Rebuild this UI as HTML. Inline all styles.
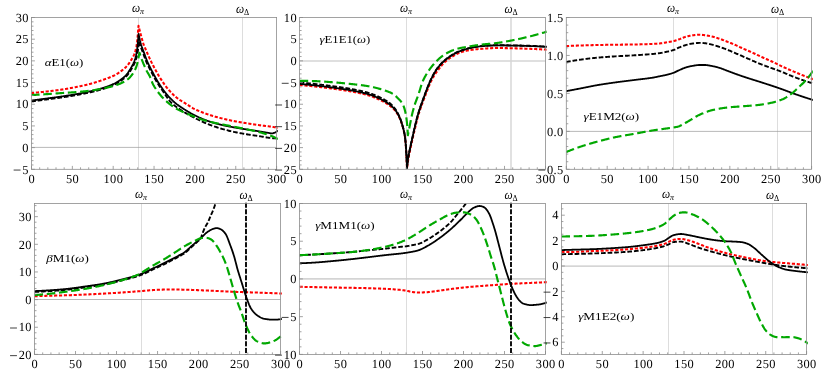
<!DOCTYPE html>
<html><head><meta charset="utf-8"><title>Polarizabilities</title>
<style>html,body{margin:0;padding:0;background:#fff;}body{width:830px;height:371px;overflow:hidden;font-family:"Liberation Serif",serif;}</style>
</head><body>
<svg width="830" height="371" viewBox="0 0 830 371" style="display:block;will-change:transform;opacity:0.999">
<rect width="830" height="371" fill="#fff"/>
<clipPath id="c0"><rect x="31.5" y="17.5" width="246.30" height="151.80"/></clipPath>
<path d="M138.50,17.5V169.3M242.50,17.5V169.3" stroke="#cacaca" stroke-width="0.65" fill="none"/>
<path d="M31.5,147.40H276.6" stroke="#929292" stroke-width="0.65" fill="none"/>
<g clip-path="url(#c0)" fill="none" stroke-linejoin="round">
<path d="M31.00,93.10 L31.50,93.06 L32.00,93.01 L32.50,92.97 L33.00,92.92 L33.50,92.87 L34.00,92.83 L34.50,92.78 L35.00,92.73 L35.50,92.69 L36.00,92.64 L36.50,92.59 L37.00,92.54 L37.50,92.49 L38.00,92.44 L38.50,92.39 L39.00,92.34 L39.50,92.29 L40.00,92.24 L40.50,92.19 L41.00,92.13 L41.50,92.08 L42.00,92.03 L42.50,91.97 L43.00,91.92 L43.50,91.87 L44.00,91.81 L44.50,91.76 L45.00,91.70 L45.50,91.64 L46.00,91.59 L46.50,91.53 L47.00,91.48 L47.50,91.42 L48.00,91.36 L48.50,91.30 L49.00,91.25 L49.50,91.19 L50.00,91.13 L50.50,91.07 L51.00,91.01 L51.50,90.95 L52.00,90.89 L52.50,90.83 L53.00,90.76 L53.50,90.70 L54.00,90.64 L54.50,90.58 L55.00,90.51 L55.50,90.45 L56.00,90.38 L56.50,90.31 L57.00,90.25 L57.50,90.18 L58.00,90.11 L58.50,90.04 L59.00,89.97 L59.50,89.90 L60.00,89.83 L60.50,89.76 L61.00,89.69 L61.50,89.61 L62.00,89.54 L62.50,89.46 L63.00,89.38 L63.50,89.30 L64.00,89.22 L64.50,89.14 L65.00,89.06 L65.50,88.98 L66.00,88.90 L66.50,88.81 L67.00,88.73 L67.50,88.64 L68.00,88.56 L68.50,88.47 L69.00,88.38 L69.50,88.29 L70.00,88.20 L70.50,88.11 L71.00,88.02 L71.50,87.92 L72.00,87.83 L72.50,87.74 L73.00,87.64 L73.50,87.55 L74.00,87.45 L74.50,87.35 L75.00,87.26 L75.50,87.16 L76.00,87.06 L76.50,86.96 L77.00,86.86 L77.50,86.76 L78.00,86.66 L78.50,86.56 L79.00,86.45 L79.50,86.35 L80.00,86.25 L80.50,86.14 L81.00,86.03 L81.50,85.93 L82.00,85.82 L82.50,85.71 L83.00,85.60 L83.50,85.48 L84.00,85.37 L84.50,85.26 L85.00,85.14 L85.50,85.02 L86.00,84.91 L86.50,84.79 L87.00,84.67 L87.50,84.54 L88.00,84.42 L88.50,84.30 L89.00,84.17 L89.50,84.04 L90.00,83.91 L90.50,83.78 L91.00,83.65 L91.50,83.51 L92.00,83.37 L92.50,83.23 L93.00,83.09 L93.50,82.95 L94.00,82.80 L94.50,82.65 L95.00,82.50 L95.50,82.35 L96.00,82.20 L96.50,82.04 L97.00,81.89 L97.50,81.73 L98.00,81.57 L98.50,81.40 L99.00,81.24 L99.50,81.07 L100.00,80.90 L100.50,80.74 L101.00,80.57 L101.50,80.39 L102.00,80.22 L102.50,80.05 L103.00,79.87 L103.50,79.69 L104.00,79.51 L104.50,79.33 L105.00,79.15 L105.50,78.97 L106.00,78.79 L106.50,78.61 L107.00,78.42 L107.50,78.24 L108.00,78.05 L108.50,77.87 L109.00,77.68 L109.50,77.48 L110.00,77.29 L110.50,77.09 L111.00,76.88 L111.50,76.68 L112.00,76.46 L112.50,76.24 L113.00,76.02 L113.50,75.79 L114.00,75.55 L114.50,75.30 L115.00,75.05 L115.50,74.78 L116.00,74.50 L116.50,74.21 L117.00,73.91 L117.50,73.60 L118.00,73.28 L118.50,72.95 L119.00,72.61 L119.50,72.26 L120.00,71.91 L120.50,71.55 L121.00,71.18 L121.50,70.81 L122.00,70.43 L122.50,70.04 L123.00,69.64 L123.50,69.22 L124.00,68.80 L124.50,68.36 L125.00,67.90 L125.50,67.42 L126.00,66.93 L126.50,66.41 L127.00,65.87 L127.50,65.29 L128.00,64.68 L128.50,64.03 L129.00,63.35 L129.50,62.64 L130.00,61.90 L130.50,61.14 L131.00,60.36 L131.50,59.56 L132.00,58.73 L132.50,57.87 L133.00,56.94 L133.50,55.93 L134.00,54.83 L134.50,53.62 L135.00,52.24 L135.50,50.62 L136.00,48.68 L136.50,46.21 L137.00,43.00 L137.50,38.06 L138.00,32.12 L138.50,25.80 L139.00,27.80 L139.50,29.76 L140.00,31.68 L140.50,33.57 L141.01,35.42 L141.51,37.27 L142.01,39.12 L142.51,40.92 L143.01,42.61 L143.51,44.13 L144.01,45.49 L144.51,46.73 L145.01,47.90 L145.52,49.03 L146.02,50.17 L146.52,51.34 L147.02,52.51 L147.52,53.68 L148.02,54.84 L148.52,55.98 L149.02,57.10 L149.52,58.19 L150.03,59.26 L150.53,60.31 L151.03,61.34 L151.53,62.36 L152.03,63.36 L152.53,64.34 L153.03,65.31 L153.53,66.27 L154.03,67.22 L154.53,68.15 L155.04,69.08 L155.54,70.01 L156.04,70.92 L156.54,71.84 L157.04,72.74 L157.54,73.62 L158.04,74.50 L158.54,75.36 L159.04,76.21 L159.55,77.03 L160.05,77.84 L160.55,78.63 L161.05,79.41 L161.55,80.18 L162.05,80.94 L162.55,81.69 L163.05,82.44 L163.55,83.17 L164.06,83.89 L164.56,84.59 L165.06,85.29 L165.56,85.96 L166.06,86.63 L166.56,87.27 L167.06,87.90 L167.56,88.50 L168.06,89.09 L168.57,89.67 L169.07,90.24 L169.57,90.79 L170.07,91.34 L170.57,91.88 L171.07,92.41 L171.57,92.93 L172.07,93.44 L172.57,93.94 L173.07,94.43 L173.58,94.91 L174.08,95.38 L174.58,95.84 L175.08,96.28 L175.58,96.71 L176.08,97.14 L176.58,97.55 L177.08,97.94 L177.58,98.33 L178.09,98.70 L178.59,99.07 L179.09,99.42 L179.59,99.77 L180.09,100.10 L180.59,100.43 L181.09,100.76 L181.59,101.08 L182.09,101.39 L182.60,101.70 L183.10,102.01 L183.60,102.31 L184.10,102.62 L184.60,102.92 L185.10,103.23 L185.60,103.54 L186.10,103.84 L186.60,104.16 L187.11,104.48 L187.61,104.80 L188.11,105.13 L188.61,105.46 L189.11,105.80 L189.61,106.14 L190.11,106.47 L190.61,106.80 L191.11,107.12 L191.62,107.44 L192.12,107.74 L192.62,108.03 L193.12,108.31 L193.62,108.56 L194.12,108.82 L194.62,109.07 L195.12,109.31 L195.62,109.55 L196.12,109.78 L196.63,110.01 L197.13,110.24 L197.63,110.46 L198.13,110.68 L198.63,110.90 L199.13,111.11 L199.63,111.32 L200.13,111.52 L200.63,111.72 L201.14,111.92 L201.64,112.12 L202.14,112.31 L202.64,112.50 L203.14,112.69 L203.64,112.88 L204.14,113.06 L204.64,113.24 L205.14,113.42 L205.65,113.60 L206.15,113.78 L206.65,113.95 L207.15,114.12 L207.65,114.30 L208.15,114.47 L208.65,114.63 L209.15,114.80 L209.65,114.96 L210.16,115.12 L210.66,115.28 L211.16,115.44 L211.66,115.60 L212.16,115.75 L212.66,115.90 L213.16,116.05 L213.66,116.20 L214.16,116.35 L214.67,116.50 L215.17,116.64 L215.67,116.78 L216.17,116.92 L216.67,117.06 L217.17,117.20 L217.67,117.34 L218.17,117.47 L218.67,117.61 L219.18,117.74 L219.68,117.87 L220.18,118.00 L220.68,118.13 L221.18,118.25 L221.68,118.38 L222.18,118.50 L222.68,118.63 L223.18,118.75 L223.68,118.87 L224.19,118.99 L224.69,119.11 L225.19,119.22 L225.69,119.34 L226.19,119.46 L226.69,119.57 L227.19,119.68 L227.69,119.79 L228.19,119.90 L228.70,120.01 L229.20,120.12 L229.70,120.23 L230.20,120.33 L230.70,120.44 L231.20,120.54 L231.70,120.64 L232.20,120.74 L232.70,120.84 L233.21,120.94 L233.71,121.04 L234.21,121.13 L234.71,121.23 L235.21,121.32 L235.71,121.41 L236.21,121.51 L236.71,121.60 L237.21,121.69 L237.72,121.77 L238.22,121.86 L238.72,121.95 L239.22,122.03 L239.72,122.12 L240.22,122.20 L240.72,122.29 L241.22,122.37 L241.72,122.46 L242.23,122.54 L242.73,122.62 L243.23,122.70 L243.73,122.78 L244.23,122.87 L244.73,122.95 L245.23,123.03 L245.73,123.11 L246.23,123.19 L246.73,123.27 L247.24,123.35 L247.74,123.43 L248.24,123.51 L248.74,123.59 L249.24,123.67 L249.74,123.75 L250.24,123.83 L250.74,123.91 L251.24,123.98 L251.75,124.06 L252.25,124.14 L252.75,124.21 L253.25,124.29 L253.75,124.37 L254.25,124.44 L254.75,124.52 L255.25,124.59 L255.75,124.66 L256.26,124.74 L256.76,124.81 L257.26,124.88 L257.76,124.96 L258.26,125.03 L258.76,125.10 L259.26,125.17 L259.76,125.24 L260.26,125.30 L260.77,125.37 L261.27,125.44 L261.77,125.50 L262.27,125.56 L262.77,125.62 L263.27,125.68 L263.77,125.74 L264.27,125.80 L264.77,125.86 L265.27,125.92 L265.78,125.98 L266.28,126.04 L266.78,126.10 L267.28,126.16 L267.78,126.22 L268.28,126.29 L268.78,126.35 L269.28,126.41 L269.78,126.48 L270.29,126.54 L270.79,126.61 L271.29,126.68 L271.79,126.75 L272.29,126.82 L272.79,126.90 L273.29,126.98 L273.79,127.06 L274.29,127.14 L274.80,127.23 L275.30,127.32 L275.80,127.41 L276.30,127.51 L276.80,127.60 L278.30,127.88" stroke="#ff0000" stroke-width="2.05" stroke-dasharray="3.15 1.75"/>
<path d="M31.00,100.60 L31.50,100.53 L32.00,100.47 L32.50,100.40 L33.00,100.33 L33.50,100.26 L34.00,100.20 L34.50,100.13 L35.00,100.06 L35.50,99.99 L36.00,99.93 L36.51,99.86 L37.01,99.79 L37.51,99.73 L38.01,99.66 L38.51,99.59 L39.01,99.52 L39.51,99.46 L40.01,99.39 L40.51,99.32 L41.01,99.25 L41.51,99.19 L42.01,99.12 L42.51,99.05 L43.01,98.99 L43.51,98.92 L44.01,98.85 L44.51,98.79 L45.01,98.72 L45.51,98.65 L46.01,98.58 L46.51,98.52 L47.01,98.45 L47.52,98.39 L48.02,98.32 L48.52,98.26 L49.02,98.19 L49.52,98.13 L50.02,98.06 L50.52,98.00 L51.02,97.93 L51.52,97.87 L52.02,97.80 L52.52,97.74 L53.02,97.67 L53.52,97.61 L54.02,97.54 L54.52,97.48 L55.02,97.41 L55.52,97.34 L56.02,97.28 L56.52,97.21 L57.02,97.14 L57.52,97.08 L58.03,97.01 L58.53,96.94 L59.03,96.87 L59.53,96.80 L60.03,96.73 L60.53,96.65 L61.03,96.58 L61.53,96.51 L62.03,96.43 L62.53,96.36 L63.03,96.29 L63.53,96.21 L64.03,96.13 L64.53,96.06 L65.03,95.98 L65.53,95.90 L66.03,95.83 L66.53,95.75 L67.03,95.67 L67.53,95.59 L68.03,95.51 L68.53,95.43 L69.04,95.35 L69.54,95.27 L70.04,95.19 L70.54,95.10 L71.04,95.02 L71.54,94.94 L72.04,94.85 L72.54,94.77 L73.04,94.68 L73.54,94.60 L74.04,94.51 L74.54,94.42 L75.04,94.33 L75.54,94.25 L76.04,94.16 L76.54,94.07 L77.04,93.98 L77.54,93.89 L78.04,93.80 L78.54,93.70 L79.04,93.61 L79.55,93.52 L80.05,93.43 L80.55,93.33 L81.05,93.24 L81.55,93.14 L82.05,93.04 L82.55,92.95 L83.05,92.85 L83.55,92.75 L84.05,92.65 L84.55,92.55 L85.05,92.45 L85.55,92.35 L86.05,92.24 L86.55,92.14 L87.05,92.03 L87.55,91.92 L88.05,91.82 L88.55,91.71 L89.05,91.60 L89.55,91.48 L90.05,91.37 L90.56,91.26 L91.06,91.14 L91.56,91.02 L92.06,90.91 L92.56,90.79 L93.06,90.67 L93.56,90.55 L94.06,90.42 L94.56,90.30 L95.06,90.17 L95.56,90.05 L96.06,89.92 L96.56,89.79 L97.06,89.66 L97.56,89.53 L98.06,89.39 L98.56,89.26 L99.06,89.12 L99.56,88.98 L100.06,88.84 L100.56,88.70 L101.07,88.55 L101.57,88.40 L102.07,88.25 L102.57,88.10 L103.07,87.95 L103.57,87.79 L104.07,87.63 L104.57,87.47 L105.07,87.31 L105.57,87.14 L106.07,86.98 L106.57,86.80 L107.07,86.63 L107.57,86.45 L108.07,86.26 L108.57,86.08 L109.07,85.88 L109.57,85.69 L110.07,85.49 L110.57,85.28 L111.07,85.07 L111.57,84.86 L112.08,84.64 L112.58,84.41 L113.08,84.18 L113.58,83.95 L114.08,83.71 L114.58,83.46 L115.08,83.21 L115.58,82.94 L116.08,82.67 L116.58,82.39 L117.08,82.10 L117.58,81.79 L118.08,81.48 L118.58,81.16 L119.08,80.83 L119.58,80.49 L120.08,80.14 L120.58,79.78 L121.08,79.42 L121.58,79.05 L122.08,78.67 L122.59,78.28 L123.09,77.87 L123.59,77.45 L124.09,77.02 L124.59,76.56 L125.09,76.09 L125.59,75.59 L126.09,75.07 L126.59,74.53 L127.09,73.94 L127.59,73.30 L128.09,72.60 L128.59,71.86 L129.09,71.08 L129.59,70.27 L130.09,69.44 L130.59,68.58 L131.09,67.71 L131.59,66.84 L132.09,65.95 L132.59,65.03 L133.09,64.05 L133.60,62.98 L134.10,61.81 L134.60,60.50 L135.10,58.96 L135.60,57.18 L136.10,55.18 L136.60,52.78 L137.10,49.57 L137.60,45.01 L138.10,39.81 L138.60,33.80 L139.10,36.39 L139.60,38.83 L140.10,41.06 L140.60,43.01 L141.10,44.70 L141.60,46.22 L142.11,47.62 L142.61,48.95 L143.11,50.27 L143.61,51.62 L144.11,53.01 L144.61,54.42 L145.11,55.81 L145.61,57.19 L146.11,58.54 L146.61,59.84 L147.11,61.08 L147.61,62.26 L148.11,63.38 L148.61,64.46 L149.12,65.50 L149.62,66.52 L150.12,67.51 L150.62,68.48 L151.12,69.43 L151.62,70.37 L152.12,71.31 L152.62,72.25 L153.12,73.19 L153.62,74.13 L154.12,75.06 L154.62,75.99 L155.12,76.92 L155.62,77.83 L156.13,78.73 L156.63,79.62 L157.13,80.50 L157.63,81.35 L158.13,82.20 L158.63,83.02 L159.13,83.82 L159.63,84.60 L160.13,85.37 L160.63,86.12 L161.13,86.87 L161.63,87.60 L162.13,88.33 L162.63,89.04 L163.14,89.74 L163.64,90.43 L164.14,91.10 L164.64,91.76 L165.14,92.41 L165.64,93.04 L166.14,93.66 L166.64,94.26 L167.14,94.85 L167.64,95.42 L168.14,95.99 L168.64,96.54 L169.14,97.09 L169.64,97.63 L170.15,98.16 L170.65,98.68 L171.15,99.19 L171.65,99.68 L172.15,100.17 L172.65,100.65 L173.15,101.12 L173.65,101.58 L174.15,102.03 L174.65,102.47 L175.15,102.89 L175.65,103.31 L176.15,103.71 L176.66,104.10 L177.16,104.48 L177.66,104.84 L178.16,105.20 L178.66,105.55 L179.16,105.89 L179.66,106.23 L180.16,106.57 L180.66,106.91 L181.16,107.25 L181.66,107.58 L182.16,107.91 L182.66,108.24 L183.16,108.57 L183.67,108.90 L184.17,109.22 L184.67,109.55 L185.17,109.86 L185.67,110.18 L186.17,110.50 L186.67,110.81 L187.17,111.12 L187.67,111.42 L188.17,111.72 L188.67,112.02 L189.17,112.32 L189.67,112.61 L190.17,112.90 L190.68,113.18 L191.18,113.46 L191.68,113.74 L192.18,114.01 L192.68,114.28 L193.18,114.54 L193.68,114.80 L194.18,115.05 L194.68,115.31 L195.18,115.56 L195.68,115.81 L196.18,116.05 L196.68,116.30 L197.18,116.54 L197.69,116.78 L198.19,117.02 L198.69,117.25 L199.19,117.48 L199.69,117.71 L200.19,117.94 L200.69,118.16 L201.19,118.38 L201.69,118.60 L202.19,118.81 L202.69,119.02 L203.19,119.23 L203.69,119.43 L204.19,119.63 L204.70,119.83 L205.20,120.02 L205.70,120.21 L206.20,120.39 L206.70,120.57 L207.20,120.75 L207.70,120.93 L208.20,121.10 L208.70,121.27 L209.20,121.44 L209.70,121.61 L210.20,121.77 L210.70,121.93 L211.21,122.09 L211.71,122.25 L212.21,122.41 L212.71,122.56 L213.21,122.71 L213.71,122.86 L214.21,123.01 L214.71,123.15 L215.21,123.29 L215.71,123.43 L216.21,123.57 L216.71,123.71 L217.21,123.84 L217.71,123.97 L218.22,124.10 L218.72,124.23 L219.22,124.36 L219.72,124.48 L220.22,124.60 L220.72,124.72 L221.22,124.84 L221.72,124.95 L222.22,125.07 L222.72,125.18 L223.22,125.29 L223.72,125.40 L224.22,125.50 L224.72,125.61 L225.23,125.71 L225.73,125.81 L226.23,125.92 L226.73,126.02 L227.23,126.11 L227.73,126.21 L228.23,126.31 L228.73,126.41 L229.23,126.50 L229.73,126.60 L230.23,126.69 L230.73,126.78 L231.23,126.88 L231.73,126.97 L232.24,127.06 L232.74,127.15 L233.24,127.24 L233.74,127.33 L234.24,127.42 L234.74,127.51 L235.24,127.60 L235.74,127.69 L236.24,127.77 L236.74,127.86 L237.24,127.94 L237.74,128.03 L238.24,128.11 L238.74,128.19 L239.25,128.28 L239.75,128.36 L240.25,128.44 L240.75,128.52 L241.25,128.60 L241.75,128.68 L242.25,128.76 L242.75,128.84 L243.25,128.92 L243.75,129.00 L244.25,129.08 L244.75,129.16 L245.25,129.23 L245.76,129.31 L246.26,129.39 L246.76,129.47 L247.26,129.55 L247.76,129.63 L248.26,129.70 L248.76,129.78 L249.26,129.86 L249.76,129.93 L250.26,130.01 L250.76,130.08 L251.26,130.16 L251.76,130.23 L252.26,130.31 L252.77,130.38 L253.27,130.45 L253.77,130.53 L254.27,130.60 L254.77,130.68 L255.27,130.75 L255.77,130.83 L256.27,130.90 L256.77,130.98 L257.27,131.05 L257.77,131.13 L258.27,131.21 L258.77,131.29 L259.27,131.36 L259.78,131.44 L260.28,131.52 L260.78,131.61 L261.28,131.69 L261.78,131.77 L262.28,131.85 L262.78,131.94 L263.28,132.02 L263.78,132.10 L264.28,132.19 L264.78,132.27 L265.28,132.35 L265.78,132.44 L266.28,132.52 L266.79,132.60 L267.29,132.68 L267.79,132.77 L268.29,132.85 L268.79,132.95 L269.29,133.05 L269.79,133.15 L270.29,133.25 L270.79,133.33 L271.29,133.38 L271.79,133.40 L272.29,133.36 L272.79,133.26 L273.29,133.12 L273.80,132.96 L274.30,132.80 L274.80,132.59 L275.30,132.34 L275.80,132.06 L276.30,131.74 L276.80,131.40 L278.30,130.41" stroke="#000" stroke-width="1.8"/>
<path d="M31.13,101.54 L31.63,101.47 L32.13,101.41 L32.63,101.34 L33.13,101.27 L33.63,101.21 L34.13,101.14 L34.63,101.07 L35.13,101.00 L35.63,100.94 L36.13,100.87 L36.63,100.80 L37.13,100.73 L37.63,100.67 L38.13,100.60 L38.63,100.53 L39.13,100.47 L39.63,100.40 L40.13,100.33 L40.63,100.26 L41.13,100.20 L41.63,100.13 L42.13,100.06 L42.63,100.00 L43.13,99.93 L43.63,99.86 L44.13,99.80 L44.63,99.73 L45.13,99.66 L45.63,99.60 L46.13,99.53 L46.63,99.46 L47.12,99.40 L47.62,99.33 L48.12,99.26 L48.62,99.20 L49.12,99.13 L49.62,99.07 L50.12,99.00 L50.62,98.94 L51.12,98.88 L51.62,98.81 L52.12,98.75 L52.62,98.68 L53.12,98.62 L53.62,98.55 L54.12,98.49 L54.62,98.42 L55.12,98.36 L55.62,98.29 L56.13,98.22 L56.63,98.16 L57.13,98.09 L57.63,98.02 L58.13,97.95 L58.63,97.88 L59.13,97.81 L59.63,97.74 L60.13,97.67 L60.64,97.60 L61.14,97.53 L61.64,97.45 L62.14,97.38 L62.64,97.30 L63.14,97.23 L63.64,97.15 L64.14,97.08 L64.64,97.00 L65.14,96.93 L65.65,96.85 L66.15,96.77 L66.65,96.69 L67.15,96.61 L67.65,96.53 L68.15,96.45 L68.65,96.37 L69.15,96.29 L69.65,96.21 L70.15,96.13 L70.65,96.05 L71.16,95.96 L71.66,95.88 L72.16,95.80 L72.66,95.71 L73.16,95.63 L73.66,95.54 L74.16,95.45 L74.66,95.37 L75.16,95.28 L75.67,95.19 L76.17,95.10 L76.67,95.01 L77.17,94.92 L77.67,94.83 L78.17,94.74 L78.67,94.65 L79.17,94.55 L79.67,94.46 L80.17,94.37 L80.68,94.27 L81.18,94.18 L81.68,94.08 L82.18,93.99 L82.68,93.89 L83.18,93.79 L83.68,93.69 L84.19,93.59 L84.69,93.49 L85.19,93.39 L85.69,93.29 L86.19,93.18 L86.70,93.08 L87.20,92.97 L87.70,92.86 L88.20,92.76 L88.70,92.65 L89.21,92.54 L89.71,92.42 L90.21,92.31 L90.71,92.20 L91.22,92.08 L91.72,91.96 L92.22,91.84 L92.72,91.72 L93.22,91.60 L93.72,91.48 L94.23,91.36 L94.73,91.24 L95.23,91.11 L95.73,90.98 L96.24,90.86 L96.74,90.73 L97.24,90.60 L97.74,90.46 L98.25,90.33 L98.75,90.19 L99.25,90.05 L99.76,89.91 L100.26,89.77 L100.76,89.63 L101.27,89.48 L101.77,89.33 L102.27,89.18 L102.78,89.03 L103.28,88.88 L103.78,88.72 L104.29,88.56 L104.79,88.40 L105.30,88.23 L105.80,88.07 L106.31,87.90 L106.81,87.72 L107.32,87.55 L107.82,87.37 L108.33,87.18 L108.84,86.99 L109.34,86.80 L109.85,86.60 L110.36,86.40 L110.86,86.19 L111.37,85.98 L111.88,85.76 L112.38,85.54 L112.89,85.31 L113.40,85.08 L113.91,84.84 L114.41,84.60 L114.92,84.35 L115.43,84.09 L115.95,83.83 L116.46,83.55 L116.97,83.26 L117.48,82.96 L118.00,82.65 L118.51,82.34 L119.02,82.01 L119.53,81.67 L120.04,81.33 L120.55,80.98 L121.05,80.62 L121.56,80.25 L122.07,79.87 L122.58,79.49 L123.09,79.09 L123.60,78.68 L124.11,78.25 L124.63,77.81 L125.14,77.34 L125.66,76.86 L126.17,76.35 L126.69,75.82 L127.21,75.26 L127.73,74.65 L128.26,73.99 L128.78,73.28 L129.29,72.52 L129.80,71.74 L130.31,70.92 L130.82,70.08 L131.32,69.22 L131.82,68.35 L132.32,67.48 L132.83,66.59 L133.34,65.66 L133.85,64.66 L134.36,63.59 L134.88,62.41 L135.39,61.09 L135.91,59.56 L136.42,57.80 L136.92,55.81 L137.43,53.48 L137.94,50.45 L138.44,46.08 L138.95,41.00 L139.13,41.28 L139.64,43.27 L140.15,44.99 L140.65,46.53 L141.16,47.95 L141.67,49.29 L142.16,50.60 L142.66,51.94 L143.16,53.33 L143.66,54.73 L144.16,56.13 L144.66,57.51 L145.16,58.86 L145.67,60.18 L146.18,61.44 L146.68,62.63 L147.19,63.76 L147.70,64.85 L148.20,65.91 L148.71,66.93 L149.21,67.93 L149.71,68.90 L150.22,69.86 L150.72,70.81 L151.22,71.75 L151.72,72.68 L152.22,73.62 L152.72,74.56 L153.22,75.50 L153.72,76.43 L154.22,77.35 L154.72,78.27 L155.23,79.17 L155.73,80.07 L156.23,80.95 L156.74,81.81 L157.24,82.66 L157.75,83.50 L158.25,84.31 L158.76,85.10 L159.26,85.87 L159.77,86.63 L160.27,87.38 L160.78,88.12 L161.28,88.85 L161.78,89.57 L162.29,90.28 L162.79,90.97 L163.79,92.43 L164.79,93.94 L165.79,95.46 L166.79,96.96 L167.79,98.41 L168.79,99.78 L169.79,101.05 L170.79,102.19 L171.79,103.18 L172.79,104.10 L173.79,104.96 L174.79,105.77 L175.79,106.54 L176.79,107.27 L177.79,107.97 L178.79,108.65 L179.79,109.33 L180.79,110.00 L181.79,110.65 L182.79,111.28 L183.79,111.90 L184.79,112.50 L185.79,113.09 L186.79,113.67 L187.79,114.23 L188.79,114.79 L189.79,115.33 L190.79,115.87 L191.79,116.41 L192.79,116.93 L193.79,117.46 L194.79,117.98 L195.79,118.49 L196.79,119.00 L197.79,119.51 L198.79,120.00 L199.79,120.49 L200.79,120.97 L201.79,121.44 L202.79,121.90 L203.79,122.35 L204.79,122.79 L205.79,123.21 L206.79,123.62 L207.79,124.02 L208.79,124.41 L209.79,124.79 L210.79,125.17 L211.79,125.54 L212.79,125.90 L213.79,126.25 L214.79,126.59 L215.79,126.93 L216.79,127.26 L217.79,127.58 L218.79,127.89 L219.79,128.20 L220.79,128.50 L221.79,128.79 L222.79,129.09 L223.79,129.37 L224.79,129.65 L225.79,129.92 L226.79,130.19 L227.79,130.45 L228.79,130.71 L229.79,130.96 L230.79,131.20 L231.79,131.43 L232.79,131.65 L233.79,131.87 L234.79,132.08 L235.79,132.29 L236.79,132.49 L237.79,132.69 L238.79,132.88 L239.79,133.06 L240.79,133.25 L241.79,133.43 L242.79,133.60 L243.79,133.77 L244.79,133.95 L245.79,134.11 L246.79,134.28 L247.79,134.45 L248.79,134.60 L249.79,134.76 L250.79,134.91 L251.79,135.06 L252.79,135.21 L253.79,135.36 L254.79,135.51 L255.79,135.65 L256.79,135.80 L257.79,135.95 L258.79,136.09 L259.79,136.24 L260.79,136.40 L261.79,136.57 L262.79,136.75 L263.79,136.92 L264.79,137.10 L265.79,137.28 L266.79,137.44 L267.79,137.61 L268.79,137.76 L269.79,137.90 L270.79,138.02 L271.79,138.12 L272.79,138.20 L273.79,138.26 L274.79,138.32 L275.79,138.37 L276.79,138.40 L278.29,138.46" stroke="#000" stroke-width="1.9" stroke-dasharray="4.7 1.9"/>
<path d="M31.00,95.10 L31.50,95.07 L32.00,95.05 L32.50,95.02 L33.00,94.99 L33.50,94.96 L34.00,94.93 L34.50,94.91 L35.00,94.88 L35.50,94.85 L36.00,94.82 L36.50,94.79 L37.00,94.76 L37.50,94.73 L38.00,94.70 L38.50,94.67 L39.00,94.64 L39.50,94.61 L40.00,94.58 L40.50,94.55 L41.00,94.52 L41.50,94.48 L42.00,94.45 L42.50,94.42 L43.00,94.39 L43.50,94.36 L44.00,94.32 L44.50,94.29 L45.00,94.26 L45.50,94.23 L46.00,94.19 L46.50,94.16 L47.00,94.13 L47.50,94.09 L48.00,94.06 L48.50,94.02 L49.00,93.98 L49.50,93.95 L50.00,93.91 L50.50,93.88 L51.00,93.84 L51.50,93.80 L52.00,93.76 L52.50,93.73 L53.00,93.69 L53.50,93.65 L54.00,93.61 L54.50,93.57 L55.00,93.54 L55.50,93.50 L56.00,93.46 L56.50,93.42 L57.00,93.38 L57.50,93.35 L58.00,93.31 L58.50,93.27 L59.00,93.24 L59.50,93.20 L60.00,93.16 L60.50,93.13 L61.00,93.09 L61.50,93.06 L62.00,93.02 L62.50,92.99 L63.00,92.96 L63.50,92.93 L64.00,92.89 L64.50,92.86 L65.00,92.83 L65.50,92.80 L66.00,92.77 L66.50,92.74 L67.00,92.70 L67.50,92.67 L68.00,92.64 L68.50,92.61 L69.00,92.58 L69.50,92.55 L70.00,92.51 L70.50,92.48 L71.00,92.45 L71.50,92.41 L72.00,92.38 L72.50,92.35 L73.00,92.31 L73.50,92.28 L74.00,92.24 L74.50,92.20 L75.00,92.16 L75.50,92.12 L76.00,92.08 L76.50,92.04 L77.00,92.00 L77.50,91.96 L78.00,91.92 L78.50,91.88 L79.00,91.83 L79.50,91.79 L80.00,91.75 L80.50,91.70 L81.00,91.66 L81.50,91.61 L82.00,91.57 L82.50,91.52 L83.00,91.47 L83.50,91.42 L84.00,91.37 L84.50,91.32 L85.00,91.27 L85.50,91.22 L86.00,91.16 L86.50,91.11 L87.00,91.06 L87.50,91.00 L88.00,90.94 L88.50,90.88 L89.00,90.82 L89.50,90.76 L90.00,90.70 L90.50,90.64 L91.00,90.57 L91.50,90.51 L92.00,90.44 L92.50,90.37 L93.00,90.29 L93.50,90.22 L94.00,90.14 L94.50,90.06 L95.00,89.98 L95.50,89.90 L96.00,89.81 L96.50,89.73 L97.00,89.64 L97.50,89.55 L98.00,89.46 L98.50,89.36 L99.00,89.27 L99.50,89.17 L100.00,89.08 L100.50,88.98 L101.00,88.88 L101.50,88.78 L102.00,88.68 L102.50,88.57 L103.00,88.47 L103.50,88.37 L104.00,88.26 L104.50,88.16 L105.00,88.05 L105.50,87.94 L106.00,87.84 L106.50,87.73 L107.00,87.61 L107.50,87.50 L108.00,87.39 L108.50,87.27 L109.00,87.15 L109.50,87.03 L110.00,86.90 L110.50,86.77 L111.00,86.65 L111.50,86.51 L112.00,86.38 L112.50,86.24 L113.00,86.10 L113.50,85.96 L114.00,85.81 L114.50,85.66 L115.00,85.51 L115.50,85.35 L116.00,85.19 L116.50,85.02 L117.00,84.85 L117.50,84.67 L118.00,84.49 L118.50,84.30 L119.00,84.11 L119.50,83.91 L120.00,83.70 L120.50,83.49 L121.00,83.27 L121.50,83.04 L122.00,82.81 L122.50,82.57 L123.00,82.32 L123.50,82.06 L124.00,81.79 L124.50,81.51 L125.00,81.21 L125.50,80.90 L126.00,80.58 L126.50,80.24 L127.00,79.88 L127.50,79.50 L128.00,79.09 L128.50,78.65 L129.00,78.18 L129.50,77.68 L130.00,77.16 L130.50,76.60 L131.00,76.02 L131.50,75.41 L132.00,74.76 L132.50,74.08 L133.00,73.34 L133.50,72.55 L134.00,71.71 L134.50,70.79 L135.00,69.80 L135.50,68.72 L136.00,67.52 L136.50,66.11 L137.00,64.47 L137.50,62.63 L138.00,60.55 L138.50,57.74 L139.00,55.02 L139.50,52.80 L140.00,54.39 L140.50,55.93 L141.00,57.41 L141.50,58.81 L142.01,60.14 L142.51,61.42 L143.01,62.65 L143.51,63.85 L144.01,65.01 L144.51,66.15 L145.01,67.27 L145.51,68.36 L146.01,69.42 L146.52,70.44 L147.02,71.42 L147.52,72.34 L148.02,73.20 L148.52,74.05 L149.02,74.92 L149.52,75.84 L150.02,76.86 L150.52,78.04 L151.03,79.34 L151.53,80.69 L152.03,82.01 L152.53,83.22 L153.03,84.25 L153.53,85.19 L154.03,86.08 L154.53,86.94 L155.03,87.75 L155.54,88.54 L156.04,89.29 L156.54,90.02 L157.04,90.73 L157.54,91.41 L158.04,92.08 L158.54,92.74 L159.04,93.38 L159.54,94.02 L160.04,94.64 L160.55,95.25 L161.05,95.85 L161.55,96.43 L162.05,97.00 L162.55,97.55 L163.05,98.09 L163.55,98.62 L164.05,99.13 L164.55,99.63 L165.06,100.11 L165.56,100.57 L166.06,101.02 L166.56,101.46 L167.06,101.90 L167.56,102.33 L168.06,102.75 L168.56,103.17 L169.06,103.58 L169.57,103.98 L170.07,104.37 L170.57,104.76 L171.07,105.14 L171.57,105.51 L172.07,105.87 L172.57,106.23 L173.07,106.58 L173.57,106.92 L174.08,107.25 L174.58,107.57 L175.08,107.89 L175.58,108.20 L176.08,108.50 L176.58,108.79 L177.08,109.07 L177.58,109.35 L178.08,109.62 L178.59,109.88 L179.09,110.14 L179.59,110.40 L180.09,110.64 L180.59,110.89 L181.09,111.13 L181.59,111.36 L182.09,111.59 L182.59,111.82 L183.10,112.04 L183.60,112.26 L184.10,112.48 L184.60,112.70 L185.10,112.91 L185.60,113.12 L186.10,113.33 L186.60,113.54 L187.10,113.74 L187.61,113.95 L188.11,114.15 L188.61,114.36 L189.11,114.56 L189.61,114.77 L190.11,114.97 L190.61,115.18 L191.11,115.38 L191.61,115.59 L192.11,115.79 L192.62,115.99 L193.12,116.19 L193.62,116.39 L194.12,116.59 L194.62,116.79 L195.12,116.99 L195.62,117.19 L196.12,117.38 L196.62,117.57 L197.13,117.76 L197.63,117.95 L198.13,118.14 L198.63,118.33 L199.13,118.51 L199.63,118.69 L200.13,118.87 L200.63,119.05 L201.13,119.22 L201.64,119.40 L202.14,119.56 L202.64,119.73 L203.14,119.89 L203.64,120.05 L204.14,120.21 L204.64,120.36 L205.14,120.51 L205.64,120.66 L206.15,120.80 L206.65,120.94 L207.15,121.08 L207.65,121.21 L208.15,121.34 L208.65,121.47 L209.15,121.59 L209.65,121.71 L210.15,121.83 L210.66,121.95 L211.16,122.07 L211.66,122.18 L212.16,122.29 L212.66,122.40 L213.16,122.51 L213.66,122.62 L214.16,122.73 L214.66,122.83 L215.17,122.94 L215.67,123.04 L216.17,123.15 L216.67,123.25 L217.17,123.35 L217.67,123.46 L218.17,123.56 L218.67,123.66 L219.17,123.77 L219.68,123.87 L220.18,123.98 L220.68,124.08 L221.18,124.19 L221.68,124.29 L222.18,124.39 L222.68,124.49 L223.18,124.59 L223.68,124.69 L224.19,124.79 L224.69,124.88 L225.19,124.98 L225.69,125.08 L226.19,125.18 L226.69,125.27 L227.19,125.37 L227.69,125.47 L228.19,125.56 L228.69,125.66 L229.20,125.76 L229.70,125.85 L230.20,125.95 L230.70,126.05 L231.20,126.14 L231.70,126.24 L232.20,126.34 L232.70,126.44 L233.20,126.54 L233.71,126.64 L234.21,126.74 L234.71,126.84 L235.21,126.94 L235.71,127.04 L236.21,127.14 L236.71,127.24 L237.21,127.34 L237.71,127.44 L238.22,127.54 L238.72,127.64 L239.22,127.74 L239.72,127.84 L240.22,127.94 L240.72,128.04 L241.22,128.14 L241.72,128.25 L242.22,128.35 L242.73,128.45 L243.23,128.55 L243.73,128.66 L244.23,128.76 L244.73,128.87 L245.23,128.97 L245.73,129.08 L246.23,129.19 L246.73,129.29 L247.24,129.40 L247.74,129.51 L248.24,129.61 L248.74,129.72 L249.24,129.83 L249.74,129.93 L250.24,130.04 L250.74,130.15 L251.24,130.26 L251.75,130.36 L252.25,130.47 L252.75,130.58 L253.25,130.70 L253.75,130.81 L254.25,130.92 L254.75,131.03 L255.25,131.15 L255.75,131.27 L256.26,131.39 L256.76,131.51 L257.26,131.63 L257.76,131.75 L258.26,131.88 L258.76,132.01 L259.26,132.14 L259.76,132.27 L260.26,132.40 L260.76,132.54 L261.27,132.68 L261.77,132.82 L262.27,132.96 L262.77,133.11 L263.27,133.25 L263.77,133.40 L264.27,133.55 L264.77,133.71 L265.27,133.86 L265.78,134.02 L266.28,134.18 L266.78,134.35 L267.28,134.51 L267.78,134.68 L268.28,134.85 L268.78,135.03 L269.28,135.20 L269.78,135.38 L270.29,135.57 L270.79,135.76 L271.29,135.95 L271.79,136.15 L272.29,136.36 L272.79,136.57 L273.29,136.79 L273.79,137.01 L274.29,137.23 L274.80,137.46 L275.30,137.69 L275.80,137.92 L276.30,138.16 L276.80,138.40 L278.30,139.11" stroke="#00a800" stroke-width="2.15" stroke-dasharray="8.6 3.7"/>
</g>
<rect x="31.5" y="17.5" width="245.10" height="151.80" fill="none" stroke="#8c8c8c" stroke-width="0.8"/>
<path d="M31.50,169.3v-3.4M39.67,169.3v-2.0M47.84,169.3v-2.0M56.01,169.3v-2.0M64.18,169.3v-2.0M72.35,169.3v-3.4M80.52,169.3v-2.0M88.69,169.3v-2.0M96.86,169.3v-2.0M105.03,169.3v-2.0M113.20,169.3v-3.4M121.37,169.3v-2.0M129.54,169.3v-2.0M137.71,169.3v-2.0M145.88,169.3v-2.0M154.05,169.3v-3.4M162.22,169.3v-2.0M170.39,169.3v-2.0M178.56,169.3v-2.0M186.73,169.3v-2.0M194.90,169.3v-3.4M203.07,169.3v-2.0M211.24,169.3v-2.0M219.41,169.3v-2.0M227.58,169.3v-2.0M235.75,169.3v-3.4M243.92,169.3v-2.0M252.09,169.3v-2.0M260.26,169.3v-2.0M268.43,169.3v-2.0M276.60,169.3v-3.4M31.5,169.30h3.4M31.5,164.96h2.0M31.5,160.63h2.0M31.5,156.29h2.0M31.5,151.95h2.0M31.5,147.61h3.4M31.5,143.28h2.0M31.5,138.94h2.0M31.5,134.60h2.0M31.5,130.27h2.0M31.5,125.93h3.4M31.5,121.59h2.0M31.5,117.25h2.0M31.5,112.92h2.0M31.5,108.58h2.0M31.5,104.24h3.4M31.5,99.91h2.0M31.5,95.57h2.0M31.5,91.23h2.0M31.5,86.89h2.0M31.5,82.56h3.4M31.5,78.22h2.0M31.5,73.88h2.0M31.5,69.55h2.0M31.5,65.21h2.0M31.5,60.87h3.4M31.5,56.53h2.0M31.5,52.20h2.0M31.5,47.86h2.0M31.5,43.52h2.0M31.5,39.19h3.4M31.5,34.85h2.0M31.5,30.51h2.0M31.5,26.17h2.0M31.5,21.84h2.0M31.5,17.50h3.4" stroke="#8c8c8c" stroke-width="0.8" fill="none"/>
<g font-family="'Liberation Serif', serif" font-size="12.4" fill="#000" text-rendering="geometricPrecision" letter-spacing="0.4">
<text x="31.70" y="182.60" text-anchor="middle">0</text>
<text x="72.55" y="182.60" text-anchor="middle">50</text>
<text x="113.40" y="182.60" text-anchor="middle">100</text>
<text x="154.25" y="182.60" text-anchor="middle">150</text>
<text x="195.10" y="182.60" text-anchor="middle">200</text>
<text x="235.95" y="182.60" text-anchor="middle">250</text>
<text x="276.80" y="182.60" text-anchor="middle">300</text>
<text x="28.90" y="173.50" text-anchor="end">5</text>
<text x="28.90" y="151.81" text-anchor="end">0</text>
<text x="28.90" y="130.13" text-anchor="end">5</text>
<text x="28.90" y="108.44" text-anchor="end">10</text>
<text x="28.90" y="86.76" text-anchor="end">15</text>
<text x="28.90" y="65.07" text-anchor="end">20</text>
<text x="28.90" y="43.39" text-anchor="end">25</text>
<text x="28.90" y="21.70" text-anchor="end">30</text>
<path d="M13.65,170.05h6.9" stroke="#111" stroke-width="0.8" fill="none"/>
</g>
<text x="131.90" y="11.90" font-family="'Liberation Serif', serif" font-style="italic" font-size="11.5" fill="#000">ω<tspan font-size="8" dy="2.4" font-style="italic">π</tspan></text>
<text x="235.90" y="13.00" font-family="'Liberation Serif', serif" font-style="italic" font-size="11.5" fill="#000">ω<tspan font-size="8" dy="2.4" font-style="normal">Δ</tspan></text>
<text x="44.7" y="65.6" textLength="38.6" lengthAdjust="spacingAndGlyphs" font-family="'Liberation Serif', serif" font-size="10.7" fill="#000"><tspan font-style="italic">α</tspan>E1(<tspan font-style="italic">ω</tspan>)</text>
<clipPath id="c1"><rect x="299.6" y="17.5" width="247.10" height="151.80"/></clipPath>
<path d="M511.00,17.5V169.3" stroke="#dcdcdc" stroke-width="1.7" fill="none"/>
<path d="M299.6,61.00H545.5" stroke="#d4d4d4" stroke-width="1.7" fill="none"/>
<path d="M406.50,17.5V169.3" stroke="#cacaca" stroke-width="0.65" fill="none"/>
<g clip-path="url(#c1)" fill="none" stroke-linejoin="round">
<path d="M299.60,85.00 L300.10,85.04 L300.60,85.09 L301.11,85.13 L301.61,85.17 L302.11,85.22 L302.61,85.26 L303.11,85.31 L303.61,85.35 L304.12,85.40 L304.62,85.45 L305.12,85.49 L305.62,85.54 L306.12,85.59 L306.63,85.64 L307.13,85.69 L307.63,85.74 L308.13,85.78 L308.63,85.83 L309.14,85.88 L309.64,85.93 L310.14,85.99 L310.64,86.04 L311.14,86.09 L311.64,86.14 L312.15,86.19 L312.65,86.25 L313.15,86.30 L313.65,86.35 L314.15,86.41 L314.66,86.46 L315.16,86.51 L315.66,86.57 L316.16,86.63 L316.66,86.68 L317.17,86.74 L317.67,86.80 L318.17,86.85 L318.67,86.91 L319.17,86.97 L319.67,87.03 L320.18,87.09 L320.68,87.15 L321.18,87.21 L321.68,87.27 L322.18,87.33 L322.69,87.39 L323.19,87.45 L323.69,87.51 L324.19,87.57 L324.69,87.64 L325.20,87.70 L325.70,87.76 L326.20,87.83 L326.70,87.89 L327.20,87.96 L327.70,88.02 L328.21,88.09 L328.71,88.15 L329.21,88.22 L329.71,88.28 L330.21,88.35 L330.72,88.42 L331.22,88.48 L331.72,88.55 L332.22,88.62 L332.72,88.68 L333.23,88.75 L333.73,88.82 L334.23,88.89 L334.73,88.95 L335.23,89.02 L335.73,89.09 L336.24,89.16 L336.74,89.23 L337.24,89.30 L337.74,89.37 L338.24,89.44 L338.75,89.51 L339.25,89.58 L339.75,89.65 L340.25,89.72 L340.75,89.79 L341.26,89.87 L341.76,89.94 L342.26,90.01 L342.76,90.09 L343.26,90.16 L343.76,90.24 L344.27,90.32 L344.77,90.40 L345.27,90.47 L345.77,90.55 L346.27,90.63 L346.78,90.72 L347.28,90.80 L347.78,90.88 L348.28,90.97 L348.78,91.05 L349.29,91.14 L349.79,91.23 L350.29,91.32 L350.79,91.41 L351.29,91.50 L351.79,91.59 L352.30,91.68 L352.80,91.77 L353.30,91.86 L353.80,91.96 L354.30,92.05 L354.81,92.15 L355.31,92.24 L355.81,92.34 L356.31,92.44 L356.81,92.54 L357.31,92.64 L357.82,92.74 L358.32,92.85 L358.82,92.95 L359.32,93.06 L359.82,93.17 L360.33,93.28 L360.83,93.39 L361.33,93.50 L361.83,93.62 L362.33,93.73 L362.84,93.85 L363.34,93.98 L363.84,94.10 L364.34,94.22 L364.84,94.35 L365.34,94.48 L365.85,94.62 L366.35,94.75 L366.85,94.89 L367.35,95.03 L367.85,95.17 L368.36,95.32 L368.86,95.47 L369.36,95.62 L369.86,95.78 L370.36,95.95 L370.87,96.12 L371.37,96.29 L371.87,96.47 L372.37,96.66 L372.87,96.85 L373.37,97.04 L373.88,97.24 L374.38,97.44 L374.88,97.65 L375.38,97.86 L375.88,98.07 L376.39,98.29 L376.89,98.51 L377.39,98.74 L377.89,98.97 L378.39,99.20 L378.90,99.43 L379.40,99.67 L379.90,99.91 L380.40,100.16 L380.90,100.40 L381.40,100.65 L381.91,100.90 L382.41,101.16 L382.91,101.41 L383.41,101.68 L383.91,101.95 L384.42,102.23 L384.92,102.51 L385.42,102.81 L385.92,103.11 L386.42,103.42 L386.93,103.73 L387.43,104.06 L387.93,104.39 L388.43,104.74 L388.93,105.09 L389.43,105.45 L389.94,105.83 L390.44,106.21 L390.94,106.60 L391.44,107.01 L391.94,107.43 L392.45,107.87 L392.95,108.33 L393.45,108.82 L393.95,109.33 L394.45,109.87 L394.96,110.44 L395.46,111.04 L395.96,111.69 L396.46,112.40 L396.96,113.17 L397.46,113.99 L397.97,114.86 L398.47,115.79 L398.97,116.77 L399.47,117.80 L399.97,118.91 L400.48,120.11 L400.98,121.43 L401.48,122.85 L401.98,124.39 L402.48,126.04 L402.99,127.80 L403.49,129.64 L403.99,131.69 L404.49,134.13 L404.99,137.15 L405.49,141.66 L406.00,147.93 L406.50,156.55 L407.00,168.30 L407.50,164.56 L408.00,161.02 L408.50,158.03 L409.00,155.32 L409.51,152.83 L410.01,150.46 L410.51,148.13 L411.01,145.79 L411.51,143.48 L412.01,141.24 L412.51,139.03 L413.01,136.84 L413.51,134.66 L414.02,132.51 L414.52,130.38 L415.02,128.27 L415.52,126.19 L416.02,124.10 L416.52,122.02 L417.02,119.98 L417.52,118.04 L418.02,116.22 L418.52,114.52 L419.03,112.90 L419.53,111.35 L420.03,109.85 L420.53,108.39 L421.03,106.94 L421.53,105.54 L422.03,104.17 L422.53,102.83 L423.03,101.50 L423.54,100.17 L424.04,98.83 L424.54,97.48 L425.04,96.13 L425.54,94.79 L426.04,93.46 L426.54,92.16 L427.04,90.89 L427.54,89.64 L428.05,88.41 L428.55,87.17 L429.05,85.94 L429.55,84.73 L430.05,83.55 L430.55,82.40 L431.05,81.30 L431.55,80.25 L432.05,79.27 L432.56,78.35 L433.06,77.47 L433.56,76.62 L434.06,75.80 L434.56,75.00 L435.06,74.23 L435.56,73.49 L436.06,72.76 L436.56,72.05 L437.07,71.35 L437.57,70.67 L438.07,70.00 L438.57,69.34 L439.07,68.69 L439.57,68.04 L440.07,67.40 L440.57,66.76 L441.07,66.14 L441.57,65.54 L442.08,64.94 L442.58,64.37 L443.08,63.81 L443.58,63.28 L444.08,62.76 L444.58,62.28 L445.08,61.82 L445.58,61.37 L446.08,60.95 L446.59,60.53 L447.09,60.13 L447.59,59.73 L448.09,59.35 L448.59,58.98 L449.09,58.62 L449.59,58.27 L450.09,57.93 L450.59,57.60 L451.10,57.27 L451.60,56.96 L452.10,56.65 L452.60,56.35 L453.10,56.06 L453.60,55.77 L454.10,55.48 L454.60,55.20 L455.10,54.92 L455.61,54.64 L456.11,54.37 L456.61,54.11 L457.11,53.85 L457.61,53.60 L458.11,53.36 L458.61,53.13 L459.11,52.91 L459.61,52.71 L460.12,52.51 L460.62,52.33 L461.12,52.16 L461.62,52.00 L462.12,51.85 L462.62,51.70 L463.12,51.56 L463.62,51.42 L464.12,51.29 L464.62,51.16 L465.13,51.04 L465.63,50.91 L466.13,50.80 L466.63,50.69 L467.13,50.58 L467.63,50.48 L468.13,50.38 L468.63,50.28 L469.13,50.19 L469.64,50.11 L470.14,50.03 L470.64,49.95 L471.14,49.88 L471.64,49.81 L472.14,49.74 L472.64,49.68 L473.14,49.62 L473.64,49.56 L474.15,49.50 L474.65,49.44 L475.15,49.39 L475.65,49.34 L476.15,49.29 L476.65,49.24 L477.15,49.19 L477.65,49.15 L478.15,49.10 L478.66,49.06 L479.16,49.02 L479.66,48.98 L480.16,48.94 L480.66,48.90 L481.16,48.87 L481.66,48.83 L482.16,48.79 L482.66,48.75 L483.17,48.71 L483.67,48.67 L484.17,48.63 L484.67,48.60 L485.17,48.56 L485.67,48.52 L486.17,48.48 L486.67,48.44 L487.17,48.41 L487.67,48.37 L488.18,48.34 L488.68,48.31 L489.18,48.27 L489.68,48.24 L490.18,48.21 L490.68,48.18 L491.18,48.16 L491.68,48.13 L492.18,48.11 L492.69,48.09 L493.19,48.07 L493.69,48.05 L494.19,48.04 L494.69,48.02 L495.19,48.01 L495.69,48.01 L496.19,48.00 L496.69,48.00 L497.20,48.00 L497.70,48.00 L498.20,48.00 L498.70,48.01 L499.20,48.01 L499.70,48.02 L500.20,48.02 L500.70,48.03 L501.20,48.03 L501.71,48.04 L502.21,48.05 L502.71,48.06 L503.21,48.07 L503.71,48.08 L504.21,48.09 L504.71,48.10 L505.21,48.11 L505.71,48.12 L506.22,48.13 L506.72,48.14 L507.22,48.16 L507.72,48.17 L508.22,48.18 L508.72,48.19 L509.22,48.21 L509.72,48.22 L510.22,48.23 L510.72,48.24 L511.23,48.26 L511.73,48.27 L512.23,48.28 L512.73,48.29 L513.23,48.31 L513.73,48.32 L514.23,48.33 L514.73,48.34 L515.23,48.35 L515.74,48.37 L516.24,48.38 L516.74,48.39 L517.24,48.41 L517.74,48.42 L518.24,48.44 L518.74,48.45 L519.24,48.47 L519.74,48.48 L520.25,48.50 L520.75,48.51 L521.25,48.53 L521.75,48.54 L522.25,48.56 L522.75,48.57 L523.25,48.59 L523.75,48.61 L524.25,48.62 L524.76,48.64 L525.26,48.66 L525.76,48.68 L526.26,48.69 L526.76,48.71 L527.26,48.73 L527.76,48.75 L528.26,48.77 L528.76,48.79 L529.27,48.81 L529.77,48.83 L530.27,48.85 L530.77,48.87 L531.27,48.89 L531.77,48.91 L532.27,48.93 L532.77,48.95 L533.27,48.97 L533.77,49.00 L534.28,49.02 L534.78,49.04 L535.28,49.07 L535.78,49.09 L536.28,49.11 L536.78,49.14 L537.28,49.16 L537.78,49.19 L538.28,49.21 L538.79,49.24 L539.29,49.27 L539.79,49.29 L540.29,49.32 L540.79,49.35 L541.29,49.37 L541.79,49.40 L542.29,49.43 L542.79,49.46 L543.30,49.48 L543.80,49.51 L544.30,49.54 L544.80,49.57 L545.30,49.60 L546.80,49.69" stroke="#ff0000" stroke-width="2.05" stroke-dasharray="3.15 1.75"/>
<path d="M299.60,83.90 L300.10,83.94 L300.60,83.99 L301.11,84.03 L301.61,84.07 L302.11,84.12 L302.61,84.16 L303.11,84.21 L303.61,84.25 L304.12,84.30 L304.62,84.35 L305.12,84.39 L305.62,84.44 L306.12,84.49 L306.63,84.54 L307.13,84.59 L307.63,84.64 L308.13,84.68 L308.63,84.73 L309.14,84.78 L309.64,84.83 L310.14,84.89 L310.64,84.94 L311.14,84.99 L311.64,85.04 L312.15,85.09 L312.65,85.15 L313.15,85.20 L313.65,85.25 L314.15,85.31 L314.66,85.36 L315.16,85.41 L315.66,85.47 L316.16,85.53 L316.66,85.58 L317.17,85.64 L317.67,85.70 L318.17,85.75 L318.67,85.81 L319.17,85.87 L319.67,85.93 L320.18,85.99 L320.68,86.05 L321.18,86.11 L321.68,86.17 L322.18,86.23 L322.69,86.29 L323.19,86.35 L323.69,86.41 L324.19,86.47 L324.69,86.54 L325.20,86.60 L325.70,86.66 L326.20,86.73 L326.70,86.79 L327.20,86.86 L327.70,86.92 L328.21,86.99 L328.71,87.05 L329.21,87.12 L329.71,87.18 L330.21,87.25 L330.72,87.32 L331.22,87.38 L331.72,87.45 L332.22,87.52 L332.72,87.58 L333.23,87.65 L333.73,87.72 L334.23,87.79 L334.73,87.85 L335.23,87.92 L335.73,87.99 L336.24,88.06 L336.74,88.13 L337.24,88.20 L337.74,88.27 L338.24,88.34 L338.75,88.41 L339.25,88.48 L339.75,88.55 L340.25,88.62 L340.75,88.69 L341.26,88.77 L341.76,88.84 L342.26,88.91 L342.76,88.99 L343.26,89.06 L343.76,89.14 L344.27,89.22 L344.77,89.30 L345.27,89.37 L345.77,89.45 L346.27,89.53 L346.78,89.62 L347.28,89.70 L347.78,89.78 L348.28,89.87 L348.78,89.95 L349.29,90.04 L349.79,90.13 L350.29,90.22 L350.79,90.31 L351.29,90.40 L351.79,90.49 L352.30,90.58 L352.80,90.67 L353.30,90.76 L353.80,90.86 L354.30,90.95 L354.81,91.05 L355.31,91.14 L355.81,91.24 L356.31,91.34 L356.81,91.44 L357.31,91.54 L357.82,91.64 L358.32,91.75 L358.82,91.85 L359.32,91.96 L359.82,92.07 L360.33,92.18 L360.83,92.29 L361.33,92.40 L361.83,92.52 L362.33,92.63 L362.84,92.75 L363.34,92.88 L363.84,93.00 L364.34,93.12 L364.84,93.25 L365.34,93.38 L365.85,93.52 L366.35,93.65 L366.85,93.79 L367.35,93.93 L367.85,94.07 L368.36,94.22 L368.86,94.37 L369.36,94.52 L369.86,94.68 L370.36,94.85 L370.87,95.02 L371.37,95.19 L371.87,95.37 L372.37,95.56 L372.87,95.75 L373.37,95.94 L373.88,96.14 L374.38,96.34 L374.88,96.55 L375.38,96.76 L375.88,96.97 L376.39,97.19 L376.89,97.41 L377.39,97.64 L377.89,97.87 L378.39,98.10 L378.90,98.33 L379.40,98.57 L379.90,98.81 L380.40,99.06 L380.90,99.30 L381.40,99.55 L381.91,99.80 L382.41,100.05 L382.91,100.31 L383.41,100.58 L383.91,100.84 L384.42,101.12 L384.92,101.40 L385.42,101.69 L385.92,101.99 L386.42,102.30 L386.93,102.61 L387.43,102.94 L387.93,103.27 L388.43,103.62 L388.93,103.98 L389.43,104.35 L389.94,104.73 L390.44,105.12 L390.94,105.54 L391.44,105.97 L391.94,106.41 L392.45,106.89 L392.95,107.38 L393.45,107.90 L393.95,108.44 L394.45,109.01 L394.96,109.62 L395.46,110.25 L395.96,110.94 L396.46,111.67 L396.96,112.47 L397.46,113.31 L397.97,114.22 L398.47,115.17 L398.97,116.18 L399.47,117.25 L399.97,118.38 L400.48,119.61 L400.98,120.96 L401.48,122.41 L401.98,123.98 L402.48,125.65 L402.99,127.44 L403.49,129.30 L403.99,131.36 L404.49,133.81 L404.99,136.85 L405.49,141.36 L406.00,147.63 L406.50,156.25 L407.00,168.00 L407.50,162.89 L408.00,159.01 L408.50,155.94 L409.00,153.29 L409.51,150.89 L410.01,148.60 L410.51,146.26 L411.01,143.93 L411.51,141.69 L412.01,139.49 L412.51,137.29 L413.01,135.04 L413.51,132.77 L414.02,130.52 L414.52,128.31 L415.02,126.18 L415.52,124.08 L416.02,122.01 L416.52,120.00 L417.02,118.06 L417.52,116.22 L418.02,114.48 L418.52,112.81 L419.03,111.20 L419.53,109.64 L420.03,108.12 L420.53,106.62 L421.03,105.18 L421.53,103.77 L422.03,102.38 L422.53,101.01 L423.03,99.63 L423.54,98.24 L424.04,96.86 L424.54,95.49 L425.04,94.12 L425.54,92.78 L426.04,91.45 L426.54,90.15 L427.04,88.86 L427.54,87.57 L428.05,86.29 L428.55,85.03 L429.05,83.79 L429.55,82.60 L430.05,81.47 L430.55,80.39 L431.05,79.36 L431.55,78.34 L432.05,77.34 L432.56,76.36 L433.06,75.41 L433.56,74.47 L434.06,73.57 L434.56,72.70 L435.06,71.85 L435.56,71.04 L436.06,70.26 L436.56,69.52 L437.07,68.81 L437.57,68.13 L438.07,67.48 L438.57,66.85 L439.07,66.24 L439.57,65.65 L440.07,65.07 L440.57,64.52 L441.07,63.98 L441.57,63.46 L442.08,62.96 L442.58,62.47 L443.08,61.99 L443.58,61.53 L444.08,61.07 L444.58,60.63 L445.08,60.20 L445.58,59.77 L446.08,59.35 L446.59,58.95 L447.09,58.55 L447.59,58.16 L448.09,57.79 L448.59,57.42 L449.09,57.06 L449.59,56.71 L450.09,56.37 L450.59,56.04 L451.10,55.71 L451.60,55.40 L452.10,55.10 L452.60,54.80 L453.10,54.50 L453.60,54.21 L454.10,53.93 L454.60,53.66 L455.10,53.39 L455.61,53.12 L456.11,52.87 L456.61,52.62 L457.11,52.38 L457.61,52.14 L458.11,51.92 L458.61,51.70 L459.11,51.49 L459.61,51.29 L460.12,51.10 L460.62,50.91 L461.12,50.73 L461.62,50.55 L462.12,50.37 L462.62,50.20 L463.12,50.03 L463.62,49.86 L464.12,49.70 L464.62,49.55 L465.13,49.40 L465.63,49.25 L466.13,49.11 L466.63,48.97 L467.13,48.83 L467.63,48.70 L468.13,48.58 L468.63,48.45 L469.13,48.34 L469.64,48.22 L470.14,48.11 L470.64,48.00 L471.14,47.89 L471.64,47.78 L472.14,47.67 L472.64,47.57 L473.14,47.47 L473.64,47.36 L474.15,47.27 L474.65,47.17 L475.15,47.08 L475.65,46.99 L476.15,46.90 L476.65,46.82 L477.15,46.74 L477.65,46.66 L478.15,46.59 L478.66,46.52 L479.16,46.46 L479.66,46.40 L480.16,46.35 L480.66,46.30 L481.16,46.26 L481.66,46.22 L482.16,46.17 L482.66,46.13 L483.17,46.09 L483.67,46.05 L484.17,46.01 L484.67,45.97 L485.17,45.93 L485.67,45.89 L486.17,45.85 L486.67,45.81 L487.17,45.78 L487.67,45.74 L488.18,45.71 L488.68,45.68 L489.18,45.65 L489.68,45.62 L490.18,45.59 L490.68,45.57 L491.18,45.54 L491.68,45.52 L492.18,45.50 L492.69,45.48 L493.19,45.46 L493.69,45.45 L494.19,45.43 L494.69,45.42 L495.19,45.41 L495.69,45.41 L496.19,45.40 L496.69,45.40 L497.20,45.40 L497.70,45.40 L498.20,45.40 L498.70,45.40 L499.20,45.41 L499.70,45.41 L500.20,45.41 L500.70,45.42 L501.20,45.42 L501.71,45.43 L502.21,45.43 L502.71,45.44 L503.21,45.44 L503.71,45.45 L504.21,45.46 L504.71,45.46 L505.21,45.47 L505.71,45.48 L506.22,45.49 L506.72,45.49 L507.22,45.50 L507.72,45.51 L508.22,45.52 L508.72,45.53 L509.22,45.54 L509.72,45.54 L510.22,45.55 L510.72,45.56 L511.23,45.57 L511.73,45.58 L512.23,45.59 L512.73,45.60 L513.23,45.60 L513.73,45.61 L514.23,45.62 L514.73,45.63 L515.23,45.64 L515.74,45.65 L516.24,45.66 L516.74,45.67 L517.24,45.68 L517.74,45.69 L518.24,45.70 L518.74,45.71 L519.24,45.72 L519.74,45.74 L520.25,45.75 L520.75,45.76 L521.25,45.77 L521.75,45.78 L522.25,45.80 L522.75,45.81 L523.25,45.82 L523.75,45.84 L524.25,45.85 L524.76,45.87 L525.26,45.88 L525.76,45.90 L526.26,45.91 L526.76,45.93 L527.26,45.94 L527.76,45.96 L528.26,45.97 L528.76,45.99 L529.27,46.01 L529.77,46.02 L530.27,46.04 L530.77,46.06 L531.27,46.08 L531.77,46.10 L532.27,46.12 L532.77,46.14 L533.27,46.16 L533.77,46.18 L534.28,46.20 L534.78,46.23 L535.28,46.25 L535.78,46.27 L536.28,46.30 L536.78,46.32 L537.28,46.35 L537.78,46.37 L538.28,46.40 L538.79,46.42 L539.29,46.45 L539.79,46.48 L540.29,46.51 L540.79,46.53 L541.29,46.56 L541.79,46.59 L542.29,46.62 L542.79,46.65 L543.30,46.68 L543.80,46.71 L544.30,46.74 L544.80,46.77 L545.30,46.80 L546.80,46.89" stroke="#000" stroke-width="1.8"/>
<path d="M299.60,82.50 L300.10,82.54 L300.60,82.59 L301.11,82.63 L301.61,82.67 L302.11,82.72 L302.61,82.76 L303.11,82.81 L303.61,82.85 L304.12,82.90 L304.62,82.95 L305.12,82.99 L305.62,83.04 L306.12,83.09 L306.63,83.14 L307.13,83.19 L307.63,83.24 L308.13,83.28 L308.63,83.33 L309.14,83.38 L309.64,83.43 L310.14,83.49 L310.64,83.54 L311.14,83.59 L311.64,83.64 L312.15,83.69 L312.65,83.75 L313.15,83.80 L313.65,83.85 L314.15,83.91 L314.66,83.96 L315.16,84.01 L315.66,84.07 L316.16,84.13 L316.66,84.18 L317.17,84.24 L317.67,84.30 L318.17,84.35 L318.67,84.41 L319.17,84.47 L319.67,84.53 L320.18,84.59 L320.68,84.65 L321.18,84.71 L321.68,84.77 L322.18,84.83 L322.69,84.89 L323.19,84.95 L323.69,85.01 L324.19,85.07 L324.69,85.14 L325.20,85.20 L325.70,85.26 L326.20,85.33 L326.70,85.39 L327.20,85.46 L327.70,85.52 L328.21,85.59 L328.71,85.65 L329.21,85.72 L329.71,85.78 L330.21,85.85 L330.72,85.92 L331.22,85.98 L331.72,86.05 L332.22,86.12 L332.72,86.18 L333.23,86.25 L333.73,86.32 L334.23,86.39 L334.73,86.45 L335.23,86.52 L335.73,86.59 L336.24,86.66 L336.74,86.73 L337.24,86.80 L337.74,86.87 L338.24,86.94 L338.75,87.01 L339.25,87.08 L339.75,87.15 L340.25,87.22 L340.75,87.29 L341.26,87.37 L341.76,87.44 L342.26,87.51 L342.76,87.59 L343.26,87.66 L343.76,87.74 L344.27,87.82 L344.77,87.90 L345.27,87.97 L345.77,88.05 L346.27,88.13 L346.78,88.22 L347.28,88.30 L347.78,88.38 L348.28,88.47 L348.78,88.55 L349.29,88.64 L349.79,88.73 L350.29,88.82 L350.79,88.91 L351.29,89.00 L351.79,89.09 L352.30,89.18 L352.80,89.27 L353.30,89.36 L353.80,89.46 L354.30,89.55 L354.81,89.65 L355.31,89.74 L355.81,89.84 L356.31,89.94 L356.81,90.04 L357.31,90.14 L357.82,90.24 L358.32,90.35 L358.82,90.45 L359.32,90.56 L359.82,90.67 L360.33,90.78 L360.83,90.89 L361.33,91.00 L361.83,91.12 L362.33,91.23 L362.84,91.35 L363.34,91.48 L363.84,91.60 L364.34,91.72 L364.84,91.85 L365.34,91.98 L365.85,92.12 L366.35,92.25 L366.85,92.39 L367.35,92.53 L367.85,92.67 L368.36,92.82 L368.86,92.97 L369.36,93.12 L369.86,93.28 L370.36,93.45 L370.87,93.62 L371.37,93.79 L371.87,93.97 L372.37,94.16 L372.87,94.35 L373.37,94.54 L373.88,94.74 L374.38,94.94 L374.88,95.15 L375.38,95.36 L375.88,95.57 L376.39,95.79 L376.89,96.01 L377.39,96.24 L377.89,96.47 L378.39,96.70 L378.90,96.93 L379.40,97.17 L379.90,97.41 L380.40,97.66 L380.90,97.90 L381.40,98.15 L381.91,98.40 L382.41,98.65 L382.91,98.91 L383.41,99.17 L383.91,99.44 L384.42,99.71 L384.92,99.99 L385.42,100.27 L385.92,100.56 L386.42,100.87 L386.93,101.18 L387.43,101.51 L387.93,101.84 L388.43,102.19 L388.93,102.56 L389.43,102.94 L389.94,103.33 L390.44,103.74 L390.94,104.19 L391.44,104.65 L391.94,105.15 L392.45,105.67 L392.95,106.21 L393.45,106.79 L393.95,107.39 L394.45,108.02 L394.96,108.67 L395.46,109.36 L395.96,110.09 L396.46,110.88 L396.96,111.71 L397.46,112.61 L397.97,113.55 L398.47,114.56 L398.97,115.61 L399.47,116.72 L399.97,117.91 L400.48,119.19 L400.98,120.58 L401.48,122.08 L401.98,123.69 L402.48,125.42 L402.99,127.25 L403.49,129.14 L403.99,131.22 L404.49,133.69 L404.99,136.75 L405.49,141.27 L406.00,147.53 L406.50,156.15 L407.00,167.90 L407.50,162.69 L408.00,158.81 L408.50,155.74 L409.00,153.09 L409.51,150.69 L410.01,148.40 L410.51,146.06 L411.01,143.73 L411.51,141.49 L412.01,139.29 L412.51,137.09 L413.01,134.84 L413.51,132.57 L414.02,130.32 L414.52,128.11 L415.02,125.98 L415.52,123.88 L416.02,121.81 L416.52,119.80 L417.02,117.86 L417.52,116.02 L418.02,114.28 L418.52,112.61 L419.03,111.00 L419.53,109.44 L420.03,107.92 L420.53,106.42 L421.03,104.98 L421.53,103.57 L422.03,102.18 L422.53,100.81 L423.03,99.43 L423.54,98.04 L424.04,96.66 L424.54,95.29 L425.04,93.92 L425.54,92.58 L426.04,91.25 L426.54,89.95 L427.04,88.66 L427.54,87.37 L428.05,86.09 L428.55,84.83 L429.05,83.59 L429.55,82.40 L430.05,81.27 L430.55,80.19 L431.05,79.16 L431.55,78.14 L432.05,77.14 L432.56,76.16 L433.06,75.21 L433.56,74.27 L434.06,73.37 L434.56,72.50 L435.06,71.65 L435.56,70.84 L436.06,70.06 L436.56,69.32 L437.07,68.61 L437.57,67.93 L438.07,67.28 L438.57,66.65 L439.07,66.04 L439.57,65.45 L440.07,64.87 L440.57,64.32 L441.07,63.78 L441.57,63.26 L442.08,62.76 L442.58,62.27 L443.08,61.79 L443.58,61.33 L444.08,60.87 L444.58,60.43 L445.08,60.00 L445.58,59.57 L446.08,59.15 L446.59,58.75 L447.09,58.35 L447.59,57.96 L448.09,57.59 L448.59,57.22 L449.09,56.86 L449.59,56.51 L450.09,56.17 L450.59,55.84 L451.10,55.51 L451.60,55.20 L452.10,54.90 L452.60,54.60 L453.10,54.30 L453.60,54.01 L454.10,53.73 L454.60,53.46 L455.10,53.19 L455.61,52.92 L456.11,52.67 L456.61,52.42 L457.11,52.18 L457.61,51.94 L458.11,51.72 L458.61,51.50 L459.11,51.29 L459.61,51.09 L460.12,50.90 L460.62,50.71 L461.12,50.53 L461.62,50.35 L462.12,50.17 L462.62,50.00 L463.12,49.83 L463.62,49.66 L464.12,49.50 L464.62,49.35 L465.13,49.20 L465.63,49.05 L466.13,48.91 L466.63,48.77 L467.13,48.63 L467.63,48.50 L468.13,48.38 L468.63,48.25 L469.13,48.14 L469.64,48.02 L470.14,47.91 L470.64,47.80 L471.14,47.69 L471.64,47.58 L472.14,47.47 L472.64,47.37 L473.14,47.27 L473.64,47.16 L474.15,47.07 L474.65,46.97 L475.15,46.88 L475.65,46.79 L476.15,46.70 L476.65,46.62 L477.15,46.54 L477.65,46.46 L478.15,46.39 L478.66,46.32 L479.16,46.26 L479.66,46.20 L480.16,46.15 L480.66,46.10 L481.16,46.06 L481.66,46.02 L482.16,45.97 L482.66,45.93 L483.17,45.89 L483.67,45.85 L484.17,45.81 L484.67,45.77 L485.17,45.73 L485.67,45.69 L486.17,45.65 L486.67,45.61 L487.17,45.58 L487.67,45.54 L488.18,45.51 L488.68,45.48 L489.18,45.45 L489.68,45.42 L490.18,45.39 L490.68,45.37 L491.18,45.34 L491.68,45.32 L492.18,45.30 L492.69,45.28 L493.19,45.26 L493.69,45.25 L494.19,45.23 L494.69,45.22 L495.19,45.21 L495.69,45.21 L496.19,45.20 L496.69,45.20 L497.20,45.20 L497.70,45.20 L498.20,45.20 L498.70,45.20 L499.20,45.21 L499.70,45.21 L500.20,45.21 L500.70,45.22 L501.20,45.22 L501.71,45.23 L502.21,45.23 L502.71,45.24 L503.21,45.24 L503.71,45.25 L504.21,45.26 L504.71,45.26 L505.21,45.27 L505.71,45.28 L506.22,45.29 L506.72,45.29 L507.22,45.30 L507.72,45.31 L508.22,45.32 L508.72,45.33 L509.22,45.34 L509.72,45.34 L510.22,45.35 L510.72,45.36 L511.23,45.37 L511.73,45.38 L512.23,45.39 L512.73,45.40 L513.23,45.40 L513.73,45.41 L514.23,45.42 L514.73,45.43 L515.23,45.44 L515.74,45.45 L516.24,45.46 L516.74,45.47 L517.24,45.48 L517.74,45.49 L518.24,45.50 L518.74,45.51 L519.24,45.52 L519.74,45.54 L520.25,45.55 L520.75,45.56 L521.25,45.57 L521.75,45.58 L522.25,45.60 L522.75,45.61 L523.25,45.62 L523.75,45.64 L524.25,45.65 L524.76,45.67 L525.26,45.68 L525.76,45.70 L526.26,45.71 L526.76,45.73 L527.26,45.74 L527.76,45.76 L528.26,45.77 L528.76,45.79 L529.27,45.81 L529.77,45.82 L530.27,45.84 L530.77,45.86 L531.27,45.88 L531.77,45.90 L532.27,45.92 L532.77,45.94 L533.27,45.96 L533.77,45.98 L534.28,46.00 L534.78,46.03 L535.28,46.05 L535.78,46.07 L536.28,46.10 L536.78,46.12 L537.28,46.15 L537.78,46.17 L538.28,46.20 L538.79,46.22 L539.29,46.25 L539.79,46.28 L540.29,46.31 L540.79,46.33 L541.29,46.36 L541.79,46.39 L542.29,46.42 L542.79,46.45 L543.30,46.48 L543.80,46.51 L544.30,46.54 L544.80,46.57 L545.30,46.60 L546.80,46.69" stroke="#000" stroke-width="1.9" stroke-dasharray="4.7 1.9"/>
<path d="M299.60,80.80 L300.10,80.80 L300.60,80.80 L301.10,80.81 L301.61,80.81 L302.11,80.82 L302.61,80.82 L303.11,80.83 L303.61,80.84 L304.11,80.85 L304.61,80.85 L305.12,80.86 L305.62,80.87 L306.12,80.88 L306.62,80.89 L307.12,80.91 L307.62,80.92 L308.12,80.93 L308.62,80.94 L309.13,80.96 L309.63,80.97 L310.13,80.98 L310.63,81.00 L311.13,81.01 L311.63,81.03 L312.13,81.04 L312.64,81.06 L313.14,81.07 L313.64,81.09 L314.14,81.10 L314.64,81.12 L315.14,81.13 L315.64,81.15 L316.15,81.17 L316.65,81.19 L317.15,81.22 L317.65,81.24 L318.15,81.26 L318.65,81.29 L319.15,81.32 L319.66,81.34 L320.16,81.37 L320.66,81.40 L321.16,81.43 L321.66,81.46 L322.16,81.49 L322.66,81.52 L323.17,81.56 L323.67,81.59 L324.17,81.62 L324.67,81.66 L325.17,81.69 L325.67,81.73 L326.17,81.76 L326.68,81.80 L327.18,81.84 L327.68,81.87 L328.18,81.91 L328.68,81.95 L329.18,81.98 L329.68,82.02 L330.18,82.06 L330.69,82.09 L331.19,82.13 L331.69,82.17 L332.19,82.21 L332.69,82.24 L333.19,82.28 L333.69,82.32 L334.20,82.36 L334.70,82.40 L335.20,82.44 L335.70,82.48 L336.20,82.53 L336.70,82.57 L337.20,82.61 L337.71,82.66 L338.21,82.70 L338.71,82.75 L339.21,82.79 L339.71,82.84 L340.21,82.88 L340.71,82.93 L341.22,82.98 L341.72,83.03 L342.22,83.08 L342.72,83.13 L343.22,83.17 L343.72,83.22 L344.22,83.27 L344.73,83.33 L345.23,83.38 L345.73,83.43 L346.23,83.48 L346.73,83.53 L347.23,83.58 L347.73,83.64 L348.23,83.69 L348.74,83.74 L349.24,83.80 L349.74,83.85 L350.24,83.90 L350.74,83.96 L351.24,84.01 L351.74,84.07 L352.25,84.12 L352.75,84.17 L353.25,84.23 L353.75,84.28 L354.25,84.34 L354.75,84.39 L355.25,84.45 L355.76,84.50 L356.26,84.56 L356.76,84.62 L357.26,84.67 L357.76,84.73 L358.26,84.79 L358.76,84.85 L359.27,84.91 L359.77,84.97 L360.27,85.03 L360.77,85.10 L361.27,85.16 L361.77,85.23 L362.27,85.29 L362.77,85.36 L363.28,85.43 L363.78,85.50 L364.28,85.57 L364.78,85.64 L365.28,85.72 L365.78,85.79 L366.28,85.87 L366.79,85.95 L367.29,86.03 L367.79,86.11 L368.29,86.20 L368.79,86.29 L369.29,86.37 L369.79,86.47 L370.30,86.56 L370.80,86.66 L371.30,86.76 L371.80,86.87 L372.30,86.98 L372.80,87.09 L373.30,87.20 L373.81,87.31 L374.31,87.43 L374.81,87.55 L375.31,87.68 L375.81,87.80 L376.31,87.93 L376.81,88.06 L377.32,88.20 L377.82,88.33 L378.32,88.47 L378.82,88.61 L379.32,88.75 L379.82,88.90 L380.32,89.04 L380.82,89.19 L381.33,89.34 L381.83,89.50 L382.33,89.65 L382.83,89.81 L383.33,89.97 L383.83,90.13 L384.33,90.29 L384.84,90.45 L385.34,90.62 L385.84,90.79 L386.34,90.97 L386.84,91.15 L387.34,91.33 L387.84,91.52 L388.35,91.72 L388.85,91.92 L389.35,92.13 L389.85,92.35 L390.35,92.58 L390.85,92.82 L391.35,93.06 L391.86,93.32 L392.36,93.59 L392.86,93.87 L393.36,94.16 L393.86,94.47 L394.36,94.82 L394.86,95.22 L395.37,95.66 L395.87,96.13 L396.37,96.63 L396.87,97.14 L397.37,97.66 L397.87,98.18 L398.37,98.69 L398.88,99.19 L399.38,99.70 L399.88,100.23 L400.38,100.79 L400.88,101.39 L401.38,102.05 L401.88,102.78 L402.38,103.58 L402.89,104.47 L403.39,105.53 L403.89,106.83 L404.39,108.38 L404.89,110.18 L405.39,112.26 L405.89,114.72 L406.40,118.00 L406.90,122.16 L407.40,127.45 L407.90,135.20 L408.40,132.64 L408.90,130.10 L409.40,127.58 L409.91,125.07 L410.41,122.52 L410.91,119.95 L411.41,117.44 L411.91,115.11 L412.41,113.01 L412.91,111.03 L413.42,109.16 L413.92,107.39 L414.42,105.71 L414.92,104.13 L415.42,102.66 L415.92,101.30 L416.42,100.00 L416.93,98.71 L417.43,97.42 L417.93,96.07 L418.43,94.62 L418.93,93.06 L419.43,91.41 L419.94,89.72 L420.44,88.03 L420.94,86.38 L421.44,84.80 L421.94,83.34 L422.44,82.04 L422.94,80.87 L423.45,79.78 L423.95,78.75 L424.45,77.77 L424.95,76.84 L425.45,75.94 L425.95,75.08 L426.45,74.24 L426.96,73.42 L427.46,72.62 L427.96,71.83 L428.46,71.07 L428.96,70.32 L429.46,69.59 L429.96,68.88 L430.47,68.19 L430.97,67.52 L431.47,66.87 L431.97,66.24 L432.47,65.62 L432.97,65.03 L433.47,64.45 L433.98,63.88 L434.48,63.32 L434.98,62.78 L435.48,62.24 L435.98,61.71 L436.48,61.19 L436.98,60.69 L437.49,60.19 L437.99,59.71 L438.49,59.25 L438.99,58.79 L439.49,58.35 L439.99,57.92 L440.49,57.51 L441.00,57.11 L441.50,56.73 L442.00,56.35 L442.50,55.99 L443.00,55.63 L443.50,55.27 L444.01,54.93 L444.51,54.59 L445.01,54.27 L445.51,53.95 L446.01,53.64 L446.51,53.34 L447.01,53.04 L447.52,52.76 L448.02,52.49 L448.52,52.22 L449.02,51.97 L449.52,51.72 L450.02,51.49 L450.52,51.26 L451.03,51.04 L451.53,50.82 L452.03,50.61 L452.53,50.40 L453.03,50.20 L453.53,50.00 L454.03,49.82 L454.54,49.63 L455.04,49.46 L455.54,49.29 L456.04,49.13 L456.54,48.97 L457.04,48.83 L457.54,48.69 L458.05,48.56 L458.55,48.44 L459.05,48.33 L459.55,48.22 L460.05,48.11 L460.55,48.01 L461.05,47.92 L461.56,47.82 L462.06,47.73 L462.56,47.64 L463.06,47.55 L463.56,47.47 L464.06,47.38 L464.56,47.29 L465.07,47.21 L465.57,47.12 L466.07,47.03 L466.57,46.94 L467.07,46.85 L467.57,46.76 L468.08,46.67 L468.58,46.59 L469.08,46.50 L469.58,46.41 L470.08,46.33 L470.58,46.24 L471.08,46.15 L471.59,46.07 L472.09,45.99 L472.59,45.90 L473.09,45.82 L473.59,45.74 L474.09,45.66 L474.59,45.58 L475.10,45.50 L475.60,45.42 L476.10,45.35 L476.60,45.27 L477.10,45.20 L477.60,45.12 L478.10,45.05 L478.61,44.98 L479.11,44.91 L479.61,44.84 L480.11,44.78 L480.61,44.71 L481.11,44.65 L481.61,44.59 L482.12,44.53 L482.62,44.47 L483.12,44.41 L483.62,44.36 L484.12,44.31 L484.62,44.26 L485.12,44.20 L485.63,44.15 L486.13,44.11 L486.63,44.06 L487.13,44.01 L487.63,43.96 L488.13,43.92 L488.64,43.87 L489.14,43.82 L489.64,43.77 L490.14,43.73 L490.64,43.68 L491.14,43.63 L491.64,43.58 L492.15,43.53 L492.65,43.48 L493.15,43.43 L493.65,43.37 L494.15,43.32 L494.65,43.26 L495.15,43.20 L495.66,43.14 L496.16,43.08 L496.66,43.02 L497.16,42.95 L497.66,42.88 L498.16,42.81 L498.66,42.74 L499.17,42.67 L499.67,42.59 L500.17,42.52 L500.67,42.44 L501.17,42.36 L501.67,42.28 L502.17,42.20 L502.68,42.11 L503.18,42.03 L503.68,41.94 L504.18,41.86 L504.68,41.77 L505.18,41.68 L505.68,41.59 L506.19,41.50 L506.69,41.41 L507.19,41.31 L507.69,41.22 L508.19,41.13 L508.69,41.03 L509.19,40.94 L509.70,40.84 L510.20,40.74 L510.70,40.65 L511.20,40.55 L511.70,40.45 L512.20,40.36 L512.71,40.26 L513.21,40.16 L513.71,40.06 L514.21,39.96 L514.71,39.86 L515.21,39.76 L515.71,39.66 L516.22,39.55 L516.72,39.45 L517.22,39.34 L517.72,39.24 L518.22,39.13 L518.72,39.02 L519.22,38.91 L519.73,38.80 L520.23,38.69 L520.73,38.58 L521.23,38.47 L521.73,38.35 L522.23,38.24 L522.73,38.12 L523.24,38.01 L523.74,37.89 L524.24,37.77 L524.74,37.66 L525.24,37.54 L525.74,37.42 L526.24,37.30 L526.75,37.18 L527.25,37.05 L527.75,36.93 L528.25,36.81 L528.75,36.69 L529.25,36.56 L529.75,36.44 L530.26,36.31 L530.76,36.18 L531.26,36.06 L531.76,35.93 L532.26,35.80 L532.76,35.67 L533.26,35.53 L533.77,35.40 L534.27,35.27 L534.77,35.13 L535.27,35.00 L535.77,34.86 L536.27,34.72 L536.78,34.58 L537.28,34.44 L537.78,34.30 L538.28,34.16 L538.78,34.02 L539.28,33.88 L539.78,33.73 L540.29,33.59 L540.79,33.44 L541.29,33.30 L541.79,33.15 L542.29,33.00 L542.79,32.85 L543.29,32.71 L543.80,32.56 L544.30,32.40 L544.80,32.25 L545.30,32.10 L546.80,31.64" stroke="#00a800" stroke-width="2.15" stroke-dasharray="8.6 3.7"/>
</g>
<rect x="299.6" y="17.5" width="245.90" height="151.80" fill="none" stroke="#8c8c8c" stroke-width="0.8"/>
<path d="M299.60,169.3v-3.4M307.80,169.3v-2.0M315.99,169.3v-2.0M324.19,169.3v-2.0M332.39,169.3v-2.0M340.58,169.3v-3.4M348.78,169.3v-2.0M356.98,169.3v-2.0M365.17,169.3v-2.0M373.37,169.3v-2.0M381.57,169.3v-3.4M389.76,169.3v-2.0M397.96,169.3v-2.0M406.16,169.3v-2.0M414.35,169.3v-2.0M422.55,169.3v-3.4M430.75,169.3v-2.0M438.94,169.3v-2.0M447.14,169.3v-2.0M455.34,169.3v-2.0M463.53,169.3v-3.4M471.73,169.3v-2.0M479.93,169.3v-2.0M488.12,169.3v-2.0M496.32,169.3v-2.0M504.52,169.3v-3.4M512.71,169.3v-2.0M520.91,169.3v-2.0M529.11,169.3v-2.0M537.30,169.3v-2.0M545.50,169.3v-3.4M299.6,169.30h3.4M299.6,164.96h2.0M299.6,160.63h2.0M299.6,156.29h2.0M299.6,151.95h2.0M299.6,147.61h3.4M299.6,143.28h2.0M299.6,138.94h2.0M299.6,134.60h2.0M299.6,130.27h2.0M299.6,125.93h3.4M299.6,121.59h2.0M299.6,117.25h2.0M299.6,112.92h2.0M299.6,108.58h2.0M299.6,104.24h3.4M299.6,99.91h2.0M299.6,95.57h2.0M299.6,91.23h2.0M299.6,86.89h2.0M299.6,82.56h3.4M299.6,78.22h2.0M299.6,73.88h2.0M299.6,69.55h2.0M299.6,65.21h2.0M299.6,60.87h3.4M299.6,56.53h2.0M299.6,52.20h2.0M299.6,47.86h2.0M299.6,43.52h2.0M299.6,39.19h3.4M299.6,34.85h2.0M299.6,30.51h2.0M299.6,26.17h2.0M299.6,21.84h2.0M299.6,17.50h3.4" stroke="#8c8c8c" stroke-width="0.8" fill="none"/>
<g font-family="'Liberation Serif', serif" font-size="12.4" fill="#000" text-rendering="geometricPrecision" letter-spacing="0.4">
<text x="299.80" y="182.60" text-anchor="middle">0</text>
<text x="340.78" y="182.60" text-anchor="middle">50</text>
<text x="381.77" y="182.60" text-anchor="middle">100</text>
<text x="422.75" y="182.60" text-anchor="middle">150</text>
<text x="463.73" y="182.60" text-anchor="middle">200</text>
<text x="504.72" y="182.60" text-anchor="middle">250</text>
<text x="545.70" y="182.60" text-anchor="middle">300</text>
<text x="297.00" y="173.50" text-anchor="end">25</text>
<text x="297.00" y="151.81" text-anchor="end">20</text>
<text x="297.00" y="130.13" text-anchor="end">15</text>
<text x="297.00" y="108.44" text-anchor="end">10</text>
<text x="297.00" y="86.76" text-anchor="end">5</text>
<text x="297.00" y="65.07" text-anchor="end">0</text>
<text x="297.00" y="43.39" text-anchor="end">5</text>
<text x="297.00" y="21.70" text-anchor="end">10</text>
<path d="M275.15,170.05h6.9M275.15,148.36h6.9M275.15,126.68h6.9M275.15,104.99h6.9M281.75,83.31h6.9" stroke="#111" stroke-width="0.8" fill="none"/>
</g>
<text x="399.90" y="11.90" font-family="'Liberation Serif', serif" font-style="italic" font-size="11.5" fill="#000">ω<tspan font-size="8" dy="2.4" font-style="italic">π</tspan></text>
<text x="504.40" y="13.00" font-family="'Liberation Serif', serif" font-style="italic" font-size="11.5" fill="#000">ω<tspan font-size="8" dy="2.4" font-style="normal">Δ</tspan></text>
<text x="319.6" y="43.2" textLength="50.6" lengthAdjust="spacingAndGlyphs" font-family="'Liberation Serif', serif" font-size="10.7" fill="#000"><tspan font-style="italic">γ</tspan>E1E1(<tspan font-style="italic">ω</tspan>)</text>
<clipPath id="c2"><rect x="566.3" y="17.5" width="246.50" height="151.80"/></clipPath>
<path d="M673.50,17.5V169.3M777.50,17.5V169.3" stroke="#cacaca" stroke-width="0.65" fill="none"/>
<path d="M566.3,131.40H811.6" stroke="#929292" stroke-width="0.65" fill="none"/>
<g clip-path="url(#c2)" fill="none" stroke-linejoin="round">
<path d="M566.00,46.10 L566.50,46.08 L567.00,46.05 L567.50,46.03 L568.00,46.00 L568.50,45.98 L569.00,45.96 L569.51,45.93 L570.01,45.91 L570.51,45.89 L571.01,45.86 L571.51,45.84 L572.01,45.82 L572.51,45.80 L573.01,45.77 L573.51,45.75 L574.01,45.73 L574.51,45.71 L575.01,45.69 L575.52,45.67 L576.02,45.65 L576.52,45.63 L577.02,45.61 L577.52,45.59 L578.02,45.57 L578.52,45.56 L579.02,45.54 L579.52,45.52 L580.02,45.50 L580.52,45.49 L581.02,45.47 L581.53,45.45 L582.03,45.44 L582.53,45.42 L583.03,45.40 L583.53,45.39 L584.03,45.37 L584.53,45.36 L585.03,45.34 L585.53,45.32 L586.03,45.31 L586.53,45.29 L587.03,45.28 L587.54,45.27 L588.04,45.25 L588.54,45.24 L589.04,45.22 L589.54,45.21 L590.04,45.19 L590.54,45.18 L591.04,45.17 L591.54,45.15 L592.04,45.14 L592.54,45.13 L593.04,45.12 L593.54,45.10 L594.05,45.09 L594.55,45.08 L595.05,45.07 L595.55,45.06 L596.05,45.04 L596.55,45.03 L597.05,45.02 L597.55,45.01 L598.05,45.00 L598.55,44.99 L599.05,44.98 L599.55,44.97 L600.06,44.96 L600.56,44.95 L601.06,44.94 L601.56,44.93 L602.06,44.92 L602.56,44.91 L603.06,44.90 L603.56,44.89 L604.06,44.89 L604.56,44.88 L605.06,44.87 L605.56,44.86 L606.07,44.85 L606.57,44.84 L607.07,44.83 L607.57,44.83 L608.07,44.82 L608.57,44.81 L609.07,44.80 L609.57,44.79 L610.07,44.79 L610.57,44.78 L611.07,44.77 L611.57,44.76 L612.07,44.76 L612.58,44.75 L613.08,44.74 L613.58,44.74 L614.08,44.73 L614.58,44.72 L615.08,44.72 L615.58,44.71 L616.08,44.70 L616.58,44.70 L617.08,44.69 L617.58,44.68 L618.08,44.68 L618.59,44.67 L619.09,44.67 L619.59,44.66 L620.09,44.66 L620.59,44.65 L621.09,44.65 L621.59,44.64 L622.09,44.64 L622.59,44.63 L623.09,44.63 L623.59,44.62 L624.09,44.62 L624.60,44.61 L625.10,44.61 L625.60,44.60 L626.10,44.60 L626.60,44.59 L627.10,44.59 L627.60,44.59 L628.10,44.58 L628.60,44.58 L629.10,44.57 L629.60,44.56 L630.10,44.56 L630.61,44.55 L631.11,44.55 L631.61,44.54 L632.11,44.53 L632.61,44.53 L633.11,44.52 L633.61,44.51 L634.11,44.50 L634.61,44.49 L635.11,44.49 L635.61,44.48 L636.11,44.47 L636.61,44.46 L637.12,44.44 L637.62,44.43 L638.12,44.42 L638.62,44.41 L639.12,44.40 L639.62,44.38 L640.12,44.37 L640.62,44.35 L641.12,44.34 L641.62,44.32 L642.12,44.31 L642.62,44.29 L643.13,44.27 L643.63,44.26 L644.13,44.24 L644.63,44.22 L645.13,44.20 L645.63,44.19 L646.13,44.17 L646.63,44.15 L647.13,44.13 L647.63,44.11 L648.13,44.09 L648.63,44.07 L649.14,44.04 L649.64,44.02 L650.14,44.00 L650.64,43.98 L651.14,43.96 L651.64,43.93 L652.14,43.91 L652.64,43.89 L653.14,43.86 L653.64,43.84 L654.14,43.81 L654.64,43.79 L655.15,43.76 L655.65,43.73 L656.15,43.70 L656.65,43.67 L657.15,43.63 L657.65,43.60 L658.15,43.56 L658.65,43.52 L659.15,43.48 L659.65,43.43 L660.15,43.39 L660.65,43.33 L661.15,43.27 L661.66,43.21 L662.16,43.13 L662.66,43.06 L663.16,42.97 L663.66,42.89 L664.16,42.80 L664.66,42.71 L665.16,42.62 L665.66,42.53 L666.16,42.44 L666.66,42.35 L667.16,42.26 L667.67,42.17 L668.17,42.09 L668.67,42.00 L669.17,41.92 L669.67,41.84 L670.17,41.75 L670.67,41.67 L671.17,41.58 L671.67,41.48 L672.17,41.39 L672.67,41.28 L673.17,41.17 L673.68,41.06 L674.18,40.93 L674.68,40.79 L675.18,40.65 L675.68,40.49 L676.18,40.33 L676.68,40.16 L677.18,39.98 L677.68,39.81 L678.18,39.63 L678.68,39.45 L679.18,39.28 L679.68,39.10 L680.19,38.91 L680.69,38.71 L681.19,38.51 L681.69,38.30 L682.19,38.09 L682.69,37.89 L683.19,37.68 L683.69,37.49 L684.19,37.30 L684.69,37.12 L685.19,36.96 L685.69,36.81 L686.20,36.67 L686.70,36.53 L687.20,36.40 L687.70,36.26 L688.20,36.14 L688.70,36.02 L689.20,35.90 L689.70,35.80 L690.20,35.70 L690.70,35.61 L691.20,35.53 L691.70,35.46 L692.21,35.39 L692.71,35.32 L693.21,35.25 L693.71,35.18 L694.21,35.11 L694.71,35.05 L695.21,34.99 L695.71,34.93 L696.21,34.88 L696.71,34.84 L697.21,34.79 L697.71,34.76 L698.22,34.73 L698.72,34.71 L699.22,34.70 L699.72,34.70 L700.22,34.71 L700.72,34.74 L701.22,34.77 L701.72,34.82 L702.22,34.87 L702.72,34.93 L703.22,34.99 L703.72,35.06 L704.22,35.13 L704.73,35.19 L705.23,35.25 L705.73,35.32 L706.23,35.40 L706.73,35.48 L707.23,35.56 L707.73,35.65 L708.23,35.74 L708.73,35.83 L709.23,35.93 L709.73,36.03 L710.23,36.14 L710.74,36.25 L711.24,36.36 L711.74,36.47 L712.24,36.59 L712.74,36.70 L713.24,36.83 L713.74,36.96 L714.24,37.10 L714.74,37.25 L715.24,37.40 L715.74,37.56 L716.24,37.71 L716.75,37.88 L717.25,38.04 L717.75,38.21 L718.25,38.38 L718.75,38.54 L719.25,38.71 L719.75,38.88 L720.25,39.05 L720.75,39.23 L721.25,39.40 L721.75,39.58 L722.25,39.77 L722.75,39.95 L723.26,40.14 L723.76,40.33 L724.26,40.52 L724.76,40.71 L725.26,40.91 L725.76,41.10 L726.26,41.30 L726.76,41.49 L727.26,41.69 L727.76,41.88 L728.26,42.08 L728.76,42.27 L729.27,42.47 L729.77,42.67 L730.27,42.86 L730.77,43.07 L731.27,43.27 L731.77,43.47 L732.27,43.67 L732.77,43.88 L733.27,44.09 L733.77,44.30 L734.27,44.52 L734.77,44.73 L735.28,44.95 L735.78,45.18 L736.28,45.41 L736.78,45.64 L737.28,45.88 L737.78,46.12 L738.28,46.36 L738.78,46.60 L739.28,46.84 L739.78,47.08 L740.28,47.32 L740.78,47.55 L741.29,47.78 L741.79,48.01 L742.29,48.24 L742.79,48.46 L743.29,48.68 L743.79,48.89 L744.29,49.10 L744.79,49.32 L745.29,49.53 L745.79,49.73 L746.29,49.94 L746.79,50.15 L747.29,50.36 L747.80,50.57 L748.30,50.79 L748.80,51.00 L749.30,51.22 L749.80,51.44 L750.30,51.67 L750.80,51.90 L751.30,52.13 L751.80,52.36 L752.30,52.59 L752.80,52.83 L753.30,53.07 L753.81,53.30 L754.31,53.54 L754.81,53.78 L755.31,54.01 L755.81,54.25 L756.31,54.49 L756.81,54.72 L757.31,54.95 L757.81,55.18 L758.31,55.42 L758.81,55.65 L759.31,55.88 L759.82,56.11 L760.32,56.34 L760.82,56.57 L761.32,56.80 L761.82,57.04 L762.32,57.26 L762.82,57.49 L763.32,57.72 L763.82,57.95 L764.32,58.18 L764.82,58.40 L765.32,58.62 L765.83,58.84 L766.33,59.06 L766.83,59.28 L767.33,59.49 L767.83,59.71 L768.33,59.93 L768.83,60.14 L769.33,60.36 L769.83,60.58 L770.33,60.80 L770.83,61.02 L771.33,61.25 L771.83,61.48 L772.34,61.71 L772.84,61.95 L773.34,62.19 L773.84,62.44 L774.34,62.68 L774.84,62.94 L775.34,63.19 L775.84,63.44 L776.34,63.70 L776.84,63.95 L777.34,64.20 L777.84,64.45 L778.35,64.70 L778.85,64.94 L779.35,65.18 L779.85,65.42 L780.35,65.65 L780.85,65.88 L781.35,66.11 L781.85,66.35 L782.35,66.58 L782.85,66.80 L783.35,67.03 L783.85,67.26 L784.36,67.49 L784.86,67.71 L785.36,67.94 L785.86,68.16 L786.36,68.38 L786.86,68.61 L787.36,68.83 L787.86,69.05 L788.36,69.27 L788.86,69.49 L789.36,69.70 L789.86,69.92 L790.36,70.14 L790.87,70.35 L791.37,70.57 L791.87,70.78 L792.37,71.00 L792.87,71.21 L793.37,71.42 L793.87,71.63 L794.37,71.84 L794.87,72.05 L795.37,72.26 L795.87,72.47 L796.37,72.68 L796.88,72.89 L797.38,73.10 L797.88,73.30 L798.38,73.51 L798.88,73.71 L799.38,73.92 L799.88,74.12 L800.38,74.32 L800.88,74.53 L801.38,74.73 L801.88,74.93 L802.38,75.13 L802.89,75.33 L803.39,75.53 L803.89,75.73 L804.39,75.92 L804.89,76.12 L805.39,76.32 L805.89,76.51 L806.39,76.71 L806.89,76.90 L807.39,77.09 L807.89,77.29 L808.39,77.48 L808.90,77.67 L809.40,77.86 L809.90,78.05 L810.40,78.24 L810.90,78.43 L811.40,78.61 L811.90,78.80 L813.40,79.36" stroke="#ff0000" stroke-width="2.05" stroke-dasharray="3.15 1.75"/>
<path d="M566.00,91.20 L566.50,91.10 L567.00,91.01 L567.50,90.91 L568.00,90.82 L568.50,90.72 L569.00,90.63 L569.50,90.53 L570.00,90.44 L570.51,90.34 L571.01,90.25 L571.51,90.15 L572.01,90.05 L572.51,89.96 L573.01,89.86 L573.51,89.77 L574.01,89.67 L574.51,89.57 L575.01,89.48 L575.51,89.38 L576.01,89.29 L576.51,89.19 L577.01,89.09 L577.51,89.00 L578.01,88.90 L578.52,88.81 L579.02,88.71 L579.52,88.61 L580.02,88.52 L580.52,88.42 L581.02,88.32 L581.52,88.22 L582.02,88.12 L582.52,88.03 L583.02,87.93 L583.52,87.82 L584.02,87.72 L584.52,87.62 L585.02,87.52 L585.52,87.42 L586.02,87.32 L586.53,87.22 L587.03,87.12 L587.53,87.01 L588.03,86.91 L588.53,86.81 L589.03,86.71 L589.53,86.61 L590.03,86.51 L590.53,86.41 L591.03,86.31 L591.53,86.21 L592.03,86.11 L592.53,86.02 L593.03,85.92 L593.53,85.82 L594.03,85.73 L594.53,85.64 L595.04,85.54 L595.54,85.45 L596.04,85.36 L596.54,85.27 L597.04,85.18 L597.54,85.10 L598.04,85.01 L598.54,84.93 L599.04,84.84 L599.54,84.76 L600.04,84.68 L600.54,84.60 L601.04,84.52 L601.54,84.44 L602.04,84.36 L602.54,84.28 L603.05,84.20 L603.55,84.12 L604.05,84.04 L604.55,83.97 L605.05,83.89 L605.55,83.82 L606.05,83.74 L606.55,83.67 L607.05,83.59 L607.55,83.52 L608.05,83.45 L608.55,83.37 L609.05,83.30 L609.55,83.23 L610.05,83.16 L610.55,83.09 L611.05,83.02 L611.56,82.94 L612.06,82.87 L612.56,82.80 L613.06,82.73 L613.56,82.66 L614.06,82.60 L614.56,82.53 L615.06,82.46 L615.56,82.39 L616.06,82.32 L616.56,82.25 L617.06,82.18 L617.56,82.11 L618.06,82.05 L618.56,81.98 L619.06,81.92 L619.57,81.85 L620.07,81.78 L620.57,81.72 L621.07,81.66 L621.57,81.59 L622.07,81.53 L622.57,81.46 L623.07,81.40 L623.57,81.34 L624.07,81.27 L624.57,81.21 L625.07,81.15 L625.57,81.09 L626.07,81.02 L626.57,80.96 L627.07,80.90 L627.58,80.84 L628.08,80.78 L628.58,80.71 L629.08,80.65 L629.58,80.59 L630.08,80.53 L630.58,80.47 L631.08,80.40 L631.58,80.34 L632.08,80.28 L632.58,80.22 L633.08,80.15 L633.58,80.09 L634.08,80.03 L634.58,79.96 L635.08,79.90 L635.58,79.84 L636.09,79.78 L636.59,79.72 L637.09,79.66 L637.59,79.60 L638.09,79.54 L638.59,79.48 L639.09,79.42 L639.59,79.36 L640.09,79.30 L640.59,79.25 L641.09,79.19 L641.59,79.13 L642.09,79.07 L642.59,79.01 L643.09,78.95 L643.59,78.89 L644.10,78.83 L644.60,78.77 L645.10,78.71 L645.60,78.65 L646.10,78.59 L646.60,78.52 L647.10,78.46 L647.60,78.39 L648.10,78.33 L648.60,78.26 L649.10,78.19 L649.60,78.12 L650.10,78.05 L650.60,77.98 L651.10,77.90 L651.60,77.82 L652.11,77.75 L652.61,77.67 L653.11,77.58 L653.61,77.50 L654.11,77.40 L654.61,77.31 L655.11,77.21 L655.61,77.11 L656.11,77.01 L656.61,76.91 L657.11,76.80 L657.61,76.70 L658.11,76.59 L658.61,76.49 L659.11,76.38 L659.61,76.28 L660.11,76.18 L660.62,76.07 L661.12,75.97 L661.62,75.87 L662.12,75.77 L662.62,75.67 L663.12,75.57 L663.62,75.47 L664.12,75.37 L664.62,75.26 L665.12,75.15 L665.62,75.04 L666.12,74.93 L666.62,74.81 L667.12,74.69 L667.62,74.57 L668.12,74.44 L668.63,74.31 L669.13,74.17 L669.63,74.04 L670.13,73.89 L670.63,73.75 L671.13,73.59 L671.63,73.44 L672.13,73.27 L672.63,73.11 L673.13,72.93 L673.63,72.75 L674.13,72.56 L674.63,72.35 L675.13,72.13 L675.63,71.90 L676.13,71.66 L676.64,71.41 L677.14,71.17 L677.64,70.92 L678.14,70.68 L678.64,70.44 L679.14,70.22 L679.64,70.00 L680.14,69.77 L680.64,69.55 L681.14,69.32 L681.64,69.09 L682.14,68.87 L682.64,68.65 L683.14,68.44 L683.64,68.23 L684.14,68.04 L684.64,67.85 L685.15,67.68 L685.65,67.52 L686.15,67.37 L686.65,67.22 L687.15,67.08 L687.65,66.94 L688.15,66.81 L688.65,66.69 L689.15,66.57 L689.65,66.45 L690.15,66.34 L690.65,66.24 L691.15,66.14 L691.65,66.05 L692.15,65.96 L692.65,65.87 L693.16,65.78 L693.66,65.69 L694.16,65.60 L694.66,65.51 L695.16,65.42 L695.66,65.34 L696.16,65.27 L696.66,65.20 L697.16,65.14 L697.66,65.09 L698.16,65.05 L698.66,65.02 L699.16,65.01 L699.66,65.00 L700.16,65.00 L700.66,65.00 L701.16,65.00 L701.67,65.00 L702.17,65.00 L702.67,65.00 L703.17,65.00 L703.67,65.00 L704.17,65.00 L704.67,65.00 L705.17,65.00 L705.67,65.02 L706.17,65.06 L706.67,65.11 L707.17,65.17 L707.67,65.24 L708.17,65.31 L708.67,65.40 L709.17,65.49 L709.68,65.59 L710.18,65.68 L710.68,65.78 L711.18,65.88 L711.68,65.98 L712.18,66.08 L712.68,66.17 L713.18,66.27 L713.68,66.37 L714.18,66.48 L714.68,66.60 L715.18,66.71 L715.68,66.83 L716.18,66.96 L716.68,67.09 L717.18,67.22 L717.69,67.36 L718.19,67.50 L718.69,67.64 L719.19,67.79 L719.69,67.94 L720.19,68.09 L720.69,68.25 L721.19,68.42 L721.69,68.60 L722.19,68.78 L722.69,68.97 L723.19,69.17 L723.69,69.37 L724.19,69.57 L724.69,69.77 L725.19,69.97 L725.69,70.17 L726.20,70.37 L726.70,70.57 L727.20,70.76 L727.70,70.95 L728.20,71.14 L728.70,71.33 L729.20,71.52 L729.70,71.70 L730.20,71.89 L730.70,72.08 L731.20,72.27 L731.70,72.46 L732.20,72.64 L732.70,72.83 L733.20,73.02 L733.70,73.20 L734.21,73.38 L734.71,73.57 L735.21,73.75 L735.71,73.93 L736.21,74.11 L736.71,74.29 L737.21,74.46 L737.71,74.64 L738.21,74.82 L738.71,74.99 L739.21,75.17 L739.71,75.34 L740.21,75.52 L740.71,75.69 L741.21,75.86 L741.71,76.03 L742.22,76.21 L742.72,76.37 L743.22,76.54 L743.72,76.71 L744.22,76.88 L744.72,77.04 L745.22,77.21 L745.72,77.37 L746.22,77.54 L746.72,77.70 L747.22,77.86 L747.72,78.03 L748.22,78.19 L748.72,78.35 L749.22,78.51 L749.72,78.68 L750.22,78.84 L750.73,79.00 L751.23,79.16 L751.73,79.32 L752.23,79.48 L752.73,79.63 L753.23,79.79 L753.73,79.95 L754.23,80.11 L754.73,80.26 L755.23,80.42 L755.73,80.57 L756.23,80.73 L756.73,80.89 L757.23,81.04 L757.73,81.20 L758.23,81.35 L758.74,81.51 L759.24,81.67 L759.74,81.82 L760.24,81.98 L760.74,82.14 L761.24,82.29 L761.74,82.45 L762.24,82.61 L762.74,82.77 L763.24,82.93 L763.74,83.09 L764.24,83.25 L764.74,83.41 L765.24,83.58 L765.74,83.74 L766.24,83.90 L766.75,84.06 L767.25,84.23 L767.75,84.39 L768.25,84.55 L768.75,84.72 L769.25,84.88 L769.75,85.04 L770.25,85.21 L770.75,85.37 L771.25,85.54 L771.75,85.70 L772.25,85.87 L772.75,86.03 L773.25,86.20 L773.75,86.37 L774.25,86.54 L774.75,86.70 L775.26,86.87 L775.76,87.04 L776.26,87.21 L776.76,87.38 L777.26,87.55 L777.76,87.73 L778.26,87.90 L778.76,88.07 L779.26,88.25 L779.76,88.42 L780.26,88.60 L780.76,88.78 L781.26,88.96 L781.76,89.14 L782.26,89.32 L782.76,89.50 L783.27,89.69 L783.77,89.88 L784.27,90.06 L784.77,90.25 L785.27,90.44 L785.77,90.63 L786.27,90.82 L786.77,91.01 L787.27,91.20 L787.77,91.39 L788.27,91.58 L788.77,91.76 L789.27,91.95 L789.77,92.14 L790.27,92.33 L790.77,92.52 L791.27,92.70 L791.78,92.89 L792.28,93.07 L792.78,93.25 L793.28,93.43 L793.78,93.61 L794.28,93.79 L794.78,93.96 L795.28,94.14 L795.78,94.31 L796.28,94.49 L796.78,94.66 L797.28,94.83 L797.78,95.00 L798.28,95.17 L798.78,95.35 L799.28,95.52 L799.79,95.69 L800.29,95.86 L800.79,96.03 L801.29,96.19 L801.79,96.36 L802.29,96.53 L802.79,96.70 L803.29,96.86 L803.79,97.03 L804.29,97.19 L804.79,97.36 L805.29,97.52 L805.79,97.69 L806.29,97.85 L806.79,98.01 L807.29,98.17 L807.80,98.33 L808.30,98.49 L808.80,98.65 L809.30,98.81 L809.80,98.97 L810.30,99.13 L810.80,99.29 L811.30,99.44 L811.80,99.60 L813.30,100.07" stroke="#000" stroke-width="1.8"/>
<path d="M566.00,62.00 L566.50,61.91 L567.00,61.82 L567.50,61.73 L568.00,61.64 L568.50,61.55 L569.00,61.46 L569.51,61.37 L570.01,61.28 L570.51,61.20 L571.01,61.11 L571.51,61.03 L572.01,60.94 L572.51,60.86 L573.01,60.77 L573.51,60.69 L574.01,60.61 L574.51,60.53 L575.01,60.45 L575.52,60.37 L576.02,60.30 L576.52,60.22 L577.02,60.14 L577.52,60.07 L578.02,59.99 L578.52,59.92 L579.02,59.85 L579.52,59.78 L580.02,59.71 L580.52,59.64 L581.02,59.57 L581.53,59.51 L582.03,59.44 L582.53,59.37 L583.03,59.31 L583.53,59.24 L584.03,59.17 L584.53,59.11 L585.03,59.04 L585.53,58.98 L586.03,58.92 L586.53,58.85 L587.03,58.79 L587.54,58.73 L588.04,58.67 L588.54,58.61 L589.04,58.55 L589.54,58.49 L590.04,58.43 L590.54,58.37 L591.04,58.32 L591.54,58.26 L592.04,58.21 L592.54,58.15 L593.04,58.10 L593.54,58.04 L594.05,57.99 L594.55,57.94 L595.05,57.89 L595.55,57.84 L596.05,57.79 L596.55,57.74 L597.05,57.70 L597.55,57.65 L598.05,57.60 L598.55,57.56 L599.05,57.52 L599.55,57.47 L600.06,57.43 L600.56,57.39 L601.06,57.35 L601.56,57.31 L602.06,57.27 L602.56,57.23 L603.06,57.19 L603.56,57.15 L604.06,57.11 L604.56,57.08 L605.06,57.04 L605.56,57.00 L606.07,56.97 L606.57,56.93 L607.07,56.90 L607.57,56.86 L608.07,56.83 L608.57,56.79 L609.07,56.76 L609.57,56.72 L610.07,56.69 L610.57,56.66 L611.07,56.63 L611.57,56.59 L612.07,56.56 L612.58,56.53 L613.08,56.50 L613.58,56.46 L614.08,56.43 L614.58,56.40 L615.08,56.37 L615.58,56.34 L616.08,56.31 L616.58,56.28 L617.08,56.25 L617.58,56.22 L618.08,56.19 L618.59,56.16 L619.09,56.13 L619.59,56.10 L620.09,56.07 L620.59,56.05 L621.09,56.02 L621.59,55.99 L622.09,55.96 L622.59,55.94 L623.09,55.91 L623.59,55.89 L624.09,55.86 L624.60,55.83 L625.10,55.81 L625.60,55.78 L626.10,55.76 L626.60,55.73 L627.10,55.70 L627.60,55.68 L628.10,55.65 L628.60,55.63 L629.10,55.60 L629.60,55.57 L630.10,55.54 L630.61,55.52 L631.11,55.49 L631.61,55.46 L632.11,55.43 L632.61,55.40 L633.11,55.37 L633.61,55.34 L634.11,55.31 L634.61,55.28 L635.11,55.25 L635.61,55.22 L636.11,55.19 L636.61,55.16 L637.12,55.12 L637.62,55.09 L638.12,55.06 L638.62,55.03 L639.12,55.00 L639.62,54.97 L640.12,54.93 L640.62,54.90 L641.12,54.87 L641.62,54.83 L642.12,54.80 L642.62,54.77 L643.13,54.73 L643.63,54.70 L644.13,54.66 L644.63,54.63 L645.13,54.59 L645.63,54.56 L646.13,54.52 L646.63,54.48 L647.13,54.44 L647.63,54.40 L648.13,54.37 L648.63,54.33 L649.14,54.28 L649.64,54.24 L650.14,54.20 L650.64,54.16 L651.14,54.11 L651.64,54.07 L652.14,54.02 L652.64,53.98 L653.14,53.93 L653.64,53.88 L654.14,53.83 L654.64,53.78 L655.15,53.72 L655.65,53.67 L656.15,53.61 L656.65,53.55 L657.15,53.49 L657.65,53.43 L658.15,53.36 L658.65,53.29 L659.15,53.22 L659.65,53.15 L660.15,53.08 L660.65,53.00 L661.15,52.92 L661.66,52.83 L662.16,52.74 L662.66,52.64 L663.16,52.55 L663.66,52.44 L664.16,52.34 L664.66,52.23 L665.16,52.13 L665.66,52.02 L666.16,51.90 L666.66,51.79 L667.16,51.68 L667.67,51.56 L668.17,51.45 L668.67,51.33 L669.17,51.21 L669.67,51.09 L670.17,50.96 L670.67,50.83 L671.17,50.70 L671.67,50.56 L672.17,50.42 L672.67,50.26 L673.17,50.11 L673.68,49.94 L674.18,49.76 L674.68,49.56 L675.18,49.34 L675.68,49.11 L676.18,48.88 L676.68,48.64 L677.18,48.40 L677.68,48.16 L678.18,47.93 L678.68,47.70 L679.18,47.49 L679.68,47.29 L680.19,47.09 L680.69,46.89 L681.19,46.69 L681.69,46.49 L682.19,46.30 L682.69,46.11 L683.19,45.93 L683.69,45.75 L684.19,45.58 L684.69,45.42 L685.19,45.26 L685.69,45.11 L686.20,44.96 L686.70,44.81 L687.20,44.67 L687.70,44.53 L688.20,44.39 L688.70,44.26 L689.20,44.13 L689.70,44.02 L690.20,43.91 L690.70,43.81 L691.20,43.73 L691.70,43.66 L692.21,43.58 L692.71,43.51 L693.21,43.44 L693.71,43.37 L694.21,43.31 L694.71,43.25 L695.21,43.19 L695.71,43.13 L696.21,43.08 L696.71,43.03 L697.21,42.99 L697.71,42.96 L698.22,42.93 L698.72,42.91 L699.22,42.90 L699.72,42.90 L700.22,42.91 L700.72,42.92 L701.22,42.94 L701.72,42.96 L702.22,43.00 L702.72,43.03 L703.22,43.07 L703.72,43.11 L704.22,43.15 L704.73,43.19 L705.23,43.24 L705.73,43.30 L706.23,43.37 L706.73,43.45 L707.23,43.54 L707.73,43.63 L708.23,43.74 L708.73,43.84 L709.23,43.96 L709.73,44.07 L710.23,44.19 L710.74,44.32 L711.24,44.44 L711.74,44.56 L712.24,44.68 L712.74,44.81 L713.24,44.94 L713.74,45.08 L714.24,45.22 L714.74,45.36 L715.24,45.52 L715.74,45.67 L716.24,45.83 L716.75,45.99 L717.25,46.15 L717.75,46.32 L718.25,46.48 L718.75,46.65 L719.25,46.82 L719.75,46.98 L720.25,47.15 L720.75,47.32 L721.25,47.49 L721.75,47.66 L722.25,47.83 L722.75,48.01 L723.26,48.19 L723.76,48.37 L724.26,48.55 L724.76,48.73 L725.26,48.92 L725.76,49.11 L726.26,49.30 L726.76,49.49 L727.26,49.69 L727.76,49.88 L728.26,50.09 L728.76,50.30 L729.27,50.51 L729.77,50.72 L730.27,50.94 L730.77,51.16 L731.27,51.39 L731.77,51.61 L732.27,51.83 L732.77,52.05 L733.27,52.28 L733.77,52.50 L734.27,52.72 L734.77,52.93 L735.28,53.15 L735.78,53.36 L736.28,53.57 L736.78,53.79 L737.28,54.00 L737.78,54.21 L738.28,54.42 L738.78,54.64 L739.28,54.85 L739.78,55.06 L740.28,55.28 L740.78,55.49 L741.29,55.71 L741.79,55.92 L742.29,56.14 L742.79,56.36 L743.29,56.57 L743.79,56.79 L744.29,57.01 L744.79,57.23 L745.29,57.45 L745.79,57.67 L746.29,57.90 L746.79,58.12 L747.29,58.34 L747.80,58.56 L748.30,58.78 L748.80,59.00 L749.30,59.22 L749.80,59.44 L750.30,59.67 L750.80,59.89 L751.30,60.11 L751.80,60.34 L752.30,60.56 L752.80,60.78 L753.30,61.01 L753.81,61.23 L754.31,61.45 L754.81,61.68 L755.31,61.89 L755.81,62.11 L756.31,62.33 L756.81,62.54 L757.31,62.75 L757.81,62.95 L758.31,63.16 L758.81,63.36 L759.31,63.56 L759.82,63.76 L760.32,63.96 L760.82,64.15 L761.32,64.35 L761.82,64.54 L762.32,64.74 L762.82,64.93 L763.32,65.12 L763.82,65.31 L764.32,65.50 L764.82,65.68 L765.32,65.87 L765.83,66.05 L766.33,66.24 L766.83,66.42 L767.33,66.60 L767.83,66.78 L768.33,66.96 L768.83,67.14 L769.33,67.31 L769.83,67.49 L770.33,67.67 L770.83,67.85 L771.33,68.03 L771.83,68.20 L772.34,68.38 L772.84,68.56 L773.34,68.74 L773.84,68.92 L774.34,69.10 L774.84,69.27 L775.34,69.45 L775.84,69.63 L776.34,69.81 L776.84,69.99 L777.34,70.17 L777.84,70.35 L778.35,70.53 L778.85,70.72 L779.35,70.90 L779.85,71.09 L780.35,71.29 L780.85,71.48 L781.35,71.68 L781.85,71.88 L782.35,72.09 L782.85,72.29 L783.35,72.50 L783.85,72.71 L784.36,72.92 L784.86,73.13 L785.36,73.34 L785.86,73.55 L786.36,73.77 L786.86,73.98 L787.36,74.19 L787.86,74.41 L788.36,74.62 L788.86,74.83 L789.36,75.05 L789.86,75.26 L790.36,75.47 L790.87,75.68 L791.37,75.89 L791.87,76.09 L792.37,76.30 L792.87,76.50 L793.37,76.70 L793.87,76.90 L794.37,77.10 L794.87,77.29 L795.37,77.48 L795.87,77.66 L796.37,77.85 L796.88,78.03 L797.38,78.22 L797.88,78.40 L798.38,78.58 L798.88,78.76 L799.38,78.94 L799.88,79.12 L800.38,79.30 L800.88,79.48 L801.38,79.65 L801.88,79.83 L802.38,80.00 L802.89,80.17 L803.39,80.35 L803.89,80.52 L804.39,80.69 L804.89,80.85 L805.39,81.02 L805.89,81.19 L806.39,81.35 L806.89,81.52 L807.39,81.68 L807.89,81.84 L808.39,82.00 L808.90,82.16 L809.40,82.32 L809.90,82.48 L810.40,82.64 L810.90,82.79 L811.40,82.95 L811.90,83.10 L813.40,83.56" stroke="#000" stroke-width="1.9" stroke-dasharray="4.7 1.9"/>
<path d="M566.00,152.10 L566.50,151.90 L567.00,151.69 L567.50,151.49 L568.00,151.29 L568.50,151.09 L569.00,150.89 L569.50,150.69 L570.00,150.49 L570.51,150.30 L571.01,150.10 L571.51,149.91 L572.01,149.72 L572.51,149.53 L573.01,149.34 L573.51,149.15 L574.01,148.96 L574.51,148.77 L575.01,148.59 L575.51,148.41 L576.01,148.22 L576.51,148.04 L577.01,147.87 L577.51,147.69 L578.01,147.51 L578.52,147.34 L579.02,147.17 L579.52,147.00 L580.02,146.83 L580.52,146.66 L581.02,146.49 L581.52,146.33 L582.02,146.16 L582.52,146.00 L583.02,145.84 L583.52,145.68 L584.02,145.52 L584.52,145.36 L585.02,145.20 L585.52,145.04 L586.02,144.89 L586.53,144.73 L587.03,144.58 L587.53,144.43 L588.03,144.27 L588.53,144.12 L589.03,143.97 L589.53,143.82 L590.03,143.67 L590.53,143.53 L591.03,143.38 L591.53,143.23 L592.03,143.09 L592.53,142.94 L593.03,142.80 L593.53,142.66 L594.03,142.52 L594.53,142.38 L595.04,142.24 L595.54,142.10 L596.04,141.96 L596.54,141.82 L597.04,141.69 L597.54,141.55 L598.04,141.42 L598.54,141.28 L599.04,141.15 L599.54,141.01 L600.04,140.88 L600.54,140.75 L601.04,140.62 L601.54,140.49 L602.04,140.35 L602.54,140.22 L603.05,140.09 L603.55,139.96 L604.05,139.84 L604.55,139.71 L605.05,139.58 L605.55,139.45 L606.05,139.33 L606.55,139.20 L607.05,139.08 L607.55,138.96 L608.05,138.83 L608.55,138.71 L609.05,138.59 L609.55,138.47 L610.05,138.36 L610.55,138.24 L611.05,138.12 L611.56,138.01 L612.06,137.89 L612.56,137.78 L613.06,137.67 L613.56,137.56 L614.06,137.45 L614.56,137.34 L615.06,137.24 L615.56,137.13 L616.06,137.03 L616.56,136.93 L617.06,136.83 L617.56,136.73 L618.06,136.63 L618.56,136.53 L619.06,136.44 L619.57,136.34 L620.07,136.25 L620.57,136.16 L621.07,136.07 L621.57,135.98 L622.07,135.89 L622.57,135.80 L623.07,135.72 L623.57,135.63 L624.07,135.54 L624.57,135.46 L625.07,135.37 L625.57,135.29 L626.07,135.20 L626.57,135.12 L627.07,135.04 L627.58,134.95 L628.08,134.87 L628.58,134.78 L629.08,134.70 L629.58,134.62 L630.08,134.53 L630.58,134.45 L631.08,134.36 L631.58,134.28 L632.08,134.19 L632.58,134.10 L633.08,134.02 L633.58,133.93 L634.08,133.84 L634.58,133.75 L635.08,133.66 L635.58,133.57 L636.09,133.48 L636.59,133.38 L637.09,133.29 L637.59,133.20 L638.09,133.10 L638.59,133.01 L639.09,132.91 L639.59,132.82 L640.09,132.73 L640.59,132.63 L641.09,132.54 L641.59,132.44 L642.09,132.35 L642.59,132.25 L643.09,132.16 L643.59,132.06 L644.10,131.97 L644.60,131.87 L645.10,131.78 L645.60,131.69 L646.10,131.60 L646.60,131.50 L647.10,131.41 L647.60,131.32 L648.10,131.23 L648.60,131.14 L649.10,131.06 L649.60,130.97 L650.10,130.88 L650.60,130.80 L651.10,130.71 L651.60,130.63 L652.11,130.55 L652.61,130.47 L653.11,130.39 L653.61,130.31 L654.11,130.23 L654.61,130.16 L655.11,130.08 L655.61,130.01 L656.11,129.93 L656.61,129.86 L657.11,129.79 L657.61,129.71 L658.11,129.64 L658.61,129.57 L659.11,129.50 L659.61,129.43 L660.11,129.36 L660.62,129.29 L661.12,129.23 L661.62,129.16 L662.12,129.09 L662.62,129.02 L663.12,128.95 L663.62,128.88 L664.12,128.81 L664.62,128.74 L665.12,128.67 L665.62,128.60 L666.12,128.53 L666.62,128.46 L667.12,128.39 L667.62,128.32 L668.12,128.24 L668.63,128.17 L669.13,128.09 L669.63,128.02 L670.13,127.94 L670.63,127.87 L671.13,127.79 L671.63,127.72 L672.13,127.65 L672.63,127.58 L673.13,127.51 L673.63,127.44 L674.13,127.37 L674.63,127.30 L675.13,127.22 L675.63,127.13 L676.13,127.04 L676.64,126.94 L677.14,126.83 L677.64,126.72 L678.14,126.58 L678.64,126.42 L679.14,126.23 L679.64,126.02 L680.14,125.79 L680.64,125.55 L681.14,125.29 L681.64,125.02 L682.14,124.74 L682.64,124.46 L683.14,124.17 L683.64,123.89 L684.14,123.61 L684.64,123.34 L685.15,123.07 L685.65,122.80 L686.15,122.52 L686.65,122.24 L687.15,121.95 L687.65,121.66 L688.15,121.36 L688.65,121.07 L689.15,120.77 L689.65,120.47 L690.15,120.18 L690.65,119.89 L691.15,119.59 L691.65,119.29 L692.15,118.99 L692.65,118.68 L693.16,118.37 L693.66,118.05 L694.16,117.74 L694.66,117.43 L695.16,117.12 L695.66,116.81 L696.16,116.51 L696.66,116.22 L697.16,115.94 L697.66,115.67 L698.16,115.41 L698.66,115.16 L699.16,114.93 L699.66,114.70 L700.16,114.47 L700.66,114.25 L701.16,114.03 L701.67,113.81 L702.17,113.60 L702.67,113.39 L703.17,113.18 L703.67,112.97 L704.17,112.77 L704.67,112.57 L705.17,112.38 L705.67,112.19 L706.17,112.00 L706.67,111.82 L707.17,111.65 L707.67,111.47 L708.17,111.31 L708.67,111.14 L709.17,110.98 L709.68,110.83 L710.18,110.69 L710.68,110.54 L711.18,110.41 L711.68,110.28 L712.18,110.15 L712.68,110.03 L713.18,109.92 L713.68,109.80 L714.18,109.69 L714.68,109.58 L715.18,109.47 L715.68,109.37 L716.18,109.26 L716.68,109.16 L717.18,109.06 L717.69,108.97 L718.19,108.87 L718.69,108.78 L719.19,108.69 L719.69,108.60 L720.19,108.51 L720.69,108.43 L721.19,108.35 L721.69,108.27 L722.19,108.19 L722.69,108.11 L723.19,108.04 L723.69,107.97 L724.19,107.90 L724.69,107.83 L725.19,107.76 L725.69,107.70 L726.20,107.64 L726.70,107.58 L727.20,107.52 L727.70,107.47 L728.20,107.41 L728.70,107.36 L729.20,107.31 L729.70,107.27 L730.20,107.22 L730.70,107.18 L731.20,107.13 L731.70,107.09 L732.20,107.05 L732.70,107.01 L733.20,106.97 L733.70,106.93 L734.21,106.89 L734.71,106.86 L735.21,106.82 L735.71,106.78 L736.21,106.75 L736.71,106.71 L737.21,106.68 L737.71,106.64 L738.21,106.60 L738.71,106.57 L739.21,106.53 L739.71,106.50 L740.21,106.46 L740.71,106.42 L741.21,106.39 L741.71,106.35 L742.22,106.31 L742.72,106.27 L743.22,106.23 L743.72,106.19 L744.22,106.15 L744.72,106.12 L745.22,106.08 L745.72,106.04 L746.22,106.01 L746.72,105.97 L747.22,105.94 L747.72,105.90 L748.22,105.87 L748.72,105.83 L749.22,105.79 L749.72,105.76 L750.22,105.72 L750.73,105.68 L751.23,105.65 L751.73,105.61 L752.23,105.57 L752.73,105.53 L753.23,105.49 L753.73,105.44 L754.23,105.40 L754.73,105.36 L755.23,105.31 L755.73,105.26 L756.23,105.21 L756.73,105.16 L757.23,105.11 L757.73,105.05 L758.23,105.00 L758.74,104.94 L759.24,104.87 L759.74,104.81 L760.24,104.75 L760.74,104.68 L761.24,104.61 L761.74,104.54 L762.24,104.47 L762.74,104.39 L763.24,104.31 L763.74,104.23 L764.24,104.15 L764.74,104.07 L765.24,103.98 L765.74,103.90 L766.24,103.81 L766.75,103.72 L767.25,103.62 L767.75,103.53 L768.25,103.43 L768.75,103.33 L769.25,103.23 L769.75,103.13 L770.25,103.03 L770.75,102.92 L771.25,102.81 L771.75,102.70 L772.25,102.59 L772.75,102.47 L773.25,102.35 L773.75,102.23 L774.25,102.10 L774.75,101.97 L775.26,101.83 L775.76,101.69 L776.26,101.54 L776.76,101.39 L777.26,101.23 L777.76,101.07 L778.26,100.90 L778.76,100.73 L779.26,100.56 L779.76,100.37 L780.26,100.19 L780.76,99.99 L781.26,99.80 L781.76,99.59 L782.26,99.39 L782.76,99.17 L783.27,98.95 L783.77,98.71 L784.27,98.45 L784.77,98.18 L785.27,97.90 L785.77,97.61 L786.27,97.30 L786.77,96.99 L787.27,96.67 L787.77,96.34 L788.27,96.00 L788.77,95.65 L789.27,95.30 L789.77,94.94 L790.27,94.58 L790.77,94.21 L791.27,93.84 L791.78,93.47 L792.28,93.08 L792.78,92.68 L793.28,92.27 L793.78,91.84 L794.28,91.41 L794.78,90.96 L795.28,90.50 L795.78,90.04 L796.28,89.57 L796.78,89.10 L797.28,88.63 L797.78,88.15 L798.28,87.67 L798.78,87.20 L799.28,86.73 L799.79,86.25 L800.29,85.78 L800.79,85.31 L801.29,84.84 L801.79,84.36 L802.29,83.88 L802.79,83.39 L803.29,82.90 L803.79,82.39 L804.29,81.89 L804.79,81.37 L805.29,80.84 L805.79,80.30 L806.29,79.75 L806.79,79.18 L807.29,78.59 L807.80,77.99 L808.30,77.38 L808.80,76.75 L809.30,76.10 L809.80,75.44 L810.30,74.77 L810.80,74.09 L811.30,73.40 L811.80,72.70 L813.30,70.62" stroke="#00a800" stroke-width="2.15" stroke-dasharray="8.6 3.7"/>
</g>
<rect x="566.3" y="17.5" width="245.30" height="151.80" fill="none" stroke="#8c8c8c" stroke-width="0.8"/>
<path d="M566.30,169.3v-3.4M574.48,169.3v-2.0M582.65,169.3v-2.0M590.83,169.3v-2.0M599.01,169.3v-2.0M607.18,169.3v-3.4M615.36,169.3v-2.0M623.54,169.3v-2.0M631.71,169.3v-2.0M639.89,169.3v-2.0M648.07,169.3v-3.4M656.24,169.3v-2.0M664.42,169.3v-2.0M672.60,169.3v-2.0M680.77,169.3v-2.0M688.95,169.3v-3.4M697.13,169.3v-2.0M705.30,169.3v-2.0M713.48,169.3v-2.0M721.66,169.3v-2.0M729.83,169.3v-3.4M738.01,169.3v-2.0M746.19,169.3v-2.0M754.36,169.3v-2.0M762.54,169.3v-2.0M770.72,169.3v-3.4M778.89,169.3v-2.0M787.07,169.3v-2.0M795.25,169.3v-2.0M803.42,169.3v-2.0M811.60,169.3v-3.4M566.3,169.30h3.4M566.3,161.71h2.0M566.3,154.12h2.0M566.3,146.53h2.0M566.3,138.94h2.0M566.3,131.35h3.4M566.3,123.76h2.0M566.3,116.17h2.0M566.3,108.58h2.0M566.3,100.99h2.0M566.3,93.40h3.4M566.3,85.81h2.0M566.3,78.22h2.0M566.3,70.63h2.0M566.3,63.04h2.0M566.3,55.45h3.4M566.3,47.86h2.0M566.3,40.27h2.0M566.3,32.68h2.0M566.3,25.09h2.0M566.3,17.50h3.4" stroke="#8c8c8c" stroke-width="0.8" fill="none"/>
<g font-family="'Liberation Serif', serif" font-size="12.4" fill="#000" text-rendering="geometricPrecision" letter-spacing="0.4">
<text x="566.50" y="182.60" text-anchor="middle">0</text>
<text x="607.38" y="182.60" text-anchor="middle">50</text>
<text x="648.27" y="182.60" text-anchor="middle">100</text>
<text x="689.15" y="182.60" text-anchor="middle">150</text>
<text x="730.03" y="182.60" text-anchor="middle">200</text>
<text x="770.92" y="182.60" text-anchor="middle">250</text>
<text x="811.80" y="182.60" text-anchor="middle">300</text>
<text x="563.70" y="173.50" text-anchor="end">0.5</text>
<text x="563.70" y="135.55" text-anchor="end">0.0</text>
<text x="563.70" y="97.60" text-anchor="end">0.5</text>
<text x="563.70" y="59.65" text-anchor="end">1.0</text>
<text x="563.70" y="21.70" text-anchor="end">1.5</text>
<path d="M538.35,170.05h6.9" stroke="#111" stroke-width="0.8" fill="none"/>
</g>
<text x="666.90" y="11.90" font-family="'Liberation Serif', serif" font-style="italic" font-size="11.5" fill="#000">ω<tspan font-size="8" dy="2.4" font-style="italic">π</tspan></text>
<text x="770.90" y="13.00" font-family="'Liberation Serif', serif" font-style="italic" font-size="11.5" fill="#000">ω<tspan font-size="8" dy="2.4" font-style="normal">Δ</tspan></text>
<text x="583.5" y="119.9" textLength="55.7" lengthAdjust="spacingAndGlyphs" font-family="'Liberation Serif', serif" font-size="10.7" fill="#000"><tspan font-style="italic">γ</tspan>E1M2(<tspan font-style="italic">ω</tspan>)</text>
<clipPath id="c3"><rect x="34.5" y="203.5" width="247.30" height="150.90"/></clipPath>
<path d="M141.50,203.5V354.4M246.00,203.5V354.4" stroke="#cacaca" stroke-width="0.65" fill="none"/>
<path d="M34.5,299.50H280.6" stroke="#929292" stroke-width="0.65" fill="none"/>
<g clip-path="url(#c3)" fill="none" stroke-linejoin="round">
<path d="M34.50,296.20 L35.00,296.18 L35.50,296.17 L36.00,296.15 L36.50,296.14 L37.00,296.12 L37.50,296.11 L38.00,296.10 L38.50,296.08 L39.00,296.07 L39.50,296.05 L40.00,296.04 L40.50,296.02 L41.00,296.01 L41.50,295.99 L42.00,295.98 L42.50,295.96 L43.00,295.95 L43.50,295.93 L44.00,295.92 L44.50,295.90 L45.00,295.89 L45.50,295.87 L46.00,295.86 L46.50,295.85 L47.00,295.83 L47.50,295.82 L48.00,295.80 L48.50,295.79 L49.00,295.77 L49.50,295.76 L50.00,295.75 L50.50,295.73 L51.00,295.72 L51.50,295.71 L52.00,295.69 L52.50,295.68 L53.00,295.67 L53.50,295.65 L54.00,295.64 L54.50,295.63 L55.00,295.61 L55.50,295.60 L56.00,295.59 L56.50,295.57 L57.00,295.56 L57.50,295.55 L58.00,295.53 L58.50,295.52 L59.00,295.51 L59.50,295.49 L60.00,295.48 L60.50,295.47 L61.00,295.45 L61.50,295.44 L62.00,295.42 L62.50,295.41 L63.00,295.40 L63.50,295.38 L64.00,295.37 L64.50,295.35 L65.00,295.33 L65.50,295.32 L66.00,295.30 L66.50,295.29 L67.00,295.27 L67.50,295.25 L68.00,295.24 L68.50,295.22 L69.00,295.20 L69.50,295.19 L70.00,295.17 L70.50,295.15 L71.00,295.13 L71.50,295.11 L72.00,295.10 L72.50,295.08 L73.00,295.06 L73.50,295.04 L74.00,295.02 L74.50,295.00 L75.00,294.98 L75.50,294.96 L76.00,294.94 L76.50,294.92 L77.00,294.90 L77.50,294.88 L78.00,294.86 L78.50,294.84 L79.00,294.82 L79.50,294.80 L80.00,294.78 L80.50,294.76 L81.00,294.74 L81.50,294.72 L82.00,294.69 L82.50,294.67 L83.00,294.65 L83.50,294.63 L84.00,294.61 L84.50,294.59 L85.00,294.56 L85.50,294.54 L86.00,294.52 L86.50,294.50 L87.00,294.48 L87.50,294.45 L88.00,294.43 L88.50,294.41 L89.00,294.38 L89.50,294.36 L90.00,294.33 L90.50,294.31 L91.00,294.29 L91.50,294.26 L92.00,294.24 L92.50,294.21 L93.00,294.19 L93.50,294.16 L94.00,294.14 L94.50,294.11 L95.00,294.09 L95.50,294.06 L96.00,294.04 L96.50,294.01 L97.00,293.98 L97.50,293.96 L98.00,293.93 L98.50,293.90 L99.00,293.88 L99.50,293.85 L100.00,293.82 L100.50,293.80 L101.00,293.77 L101.50,293.74 L102.00,293.72 L102.50,293.69 L103.00,293.66 L103.50,293.63 L104.00,293.61 L104.50,293.58 L105.00,293.55 L105.50,293.52 L106.00,293.49 L106.50,293.46 L107.00,293.43 L107.50,293.41 L108.00,293.38 L108.50,293.35 L109.00,293.32 L109.50,293.29 L110.00,293.26 L110.50,293.23 L111.00,293.20 L111.50,293.17 L112.00,293.14 L112.50,293.11 L113.00,293.07 L113.50,293.04 L114.00,293.01 L114.50,292.98 L115.00,292.95 L115.50,292.92 L116.00,292.89 L116.50,292.85 L117.00,292.82 L117.50,292.79 L118.00,292.76 L118.50,292.72 L119.00,292.69 L119.50,292.66 L120.00,292.63 L120.50,292.59 L121.00,292.56 L121.50,292.53 L122.00,292.49 L122.50,292.46 L123.00,292.43 L123.50,292.39 L124.00,292.36 L124.50,292.32 L125.00,292.29 L125.50,292.25 L126.00,292.22 L126.50,292.18 L127.00,292.15 L127.50,292.11 L128.00,292.07 L128.50,292.04 L129.00,292.00 L129.50,291.97 L130.00,291.93 L130.50,291.89 L131.00,291.86 L131.50,291.82 L132.00,291.78 L132.50,291.75 L133.00,291.71 L133.50,291.67 L134.00,291.63 L134.50,291.60 L135.00,291.56 L135.50,291.52 L136.00,291.48 L136.50,291.44 L137.00,291.41 L137.50,291.37 L138.00,291.33 L138.50,291.29 L139.00,291.25 L139.50,291.21 L140.00,291.17 L140.50,291.13 L141.00,291.09 L141.50,291.04 L142.00,291.00 L142.50,290.95 L143.00,290.91 L143.50,290.86 L144.00,290.82 L144.50,290.77 L145.00,290.73 L145.50,290.68 L146.00,290.63 L146.50,290.59 L147.00,290.54 L147.50,290.50 L148.00,290.46 L148.50,290.41 L149.00,290.37 L149.50,290.33 L150.00,290.29 L150.50,290.25 L151.00,290.22 L151.50,290.18 L152.00,290.15 L152.50,290.11 L153.00,290.08 L153.50,290.05 L154.00,290.03 L154.50,290.00 L155.00,289.98 L155.50,289.95 L156.00,289.93 L156.50,289.90 L157.00,289.88 L157.50,289.85 L158.00,289.83 L158.50,289.81 L159.00,289.78 L159.50,289.76 L160.00,289.74 L160.50,289.71 L161.00,289.69 L161.50,289.67 L162.00,289.65 L162.50,289.63 L163.00,289.61 L163.50,289.60 L164.00,289.58 L164.50,289.57 L165.00,289.55 L165.50,289.54 L166.00,289.53 L166.50,289.52 L167.00,289.51 L167.50,289.51 L168.00,289.50 L168.50,289.50 L169.00,289.50 L169.50,289.50 L170.00,289.50 L170.50,289.50 L171.00,289.50 L171.50,289.51 L172.00,289.51 L172.50,289.51 L173.00,289.52 L173.50,289.52 L174.00,289.53 L174.50,289.53 L175.00,289.54 L175.50,289.54 L176.00,289.55 L176.50,289.55 L177.00,289.56 L177.50,289.57 L178.00,289.58 L178.50,289.58 L179.00,289.59 L179.50,289.60 L180.00,289.61 L180.50,289.62 L181.00,289.62 L181.50,289.63 L182.00,289.64 L182.50,289.65 L183.00,289.66 L183.50,289.67 L184.00,289.68 L184.50,289.69 L185.00,289.70 L185.50,289.71 L186.00,289.72 L186.50,289.73 L187.00,289.74 L187.50,289.75 L188.00,289.77 L188.50,289.78 L189.00,289.80 L189.50,289.81 L190.00,289.83 L190.50,289.85 L191.00,289.87 L191.50,289.89 L192.00,289.91 L192.50,289.93 L193.00,289.95 L193.50,289.97 L194.00,289.99 L194.50,290.01 L195.00,290.03 L195.50,290.05 L196.00,290.08 L196.50,290.10 L197.00,290.12 L197.50,290.14 L198.00,290.17 L198.50,290.19 L199.00,290.21 L199.50,290.23 L200.00,290.26 L200.50,290.28 L201.00,290.30 L201.50,290.32 L202.00,290.34 L202.50,290.37 L203.00,290.39 L203.50,290.41 L204.00,290.43 L204.50,290.45 L205.00,290.47 L205.50,290.49 L206.00,290.51 L206.50,290.54 L207.00,290.56 L207.50,290.58 L208.00,290.60 L208.50,290.62 L209.00,290.65 L209.50,290.67 L210.00,290.69 L210.50,290.71 L211.00,290.73 L211.50,290.76 L212.00,290.78 L212.50,290.80 L213.00,290.83 L213.50,290.85 L214.00,290.87 L214.50,290.89 L215.00,290.92 L215.50,290.94 L216.00,290.96 L216.50,290.98 L217.00,291.01 L217.50,291.03 L218.00,291.05 L218.50,291.07 L219.00,291.10 L219.50,291.12 L220.00,291.14 L220.50,291.16 L221.00,291.19 L221.50,291.21 L222.00,291.23 L222.50,291.25 L223.00,291.28 L223.50,291.30 L224.00,291.32 L224.50,291.34 L225.00,291.37 L225.50,291.39 L226.00,291.41 L226.50,291.44 L227.00,291.46 L227.50,291.48 L228.00,291.51 L228.50,291.53 L229.00,291.55 L229.50,291.58 L230.00,291.60 L230.50,291.62 L231.00,291.64 L231.50,291.67 L232.00,291.69 L232.50,291.71 L233.00,291.73 L233.50,291.76 L234.00,291.78 L234.50,291.80 L235.00,291.82 L235.50,291.84 L236.00,291.86 L236.50,291.88 L237.00,291.91 L237.50,291.93 L238.00,291.95 L238.50,291.97 L239.00,291.98 L239.50,292.00 L240.00,292.02 L240.50,292.04 L241.00,292.06 L241.50,292.08 L242.00,292.09 L242.50,292.11 L243.00,292.13 L243.50,292.15 L244.00,292.16 L244.50,292.18 L245.00,292.20 L245.50,292.21 L246.00,292.23 L246.50,292.24 L247.00,292.26 L247.50,292.28 L248.00,292.29 L248.50,292.31 L249.00,292.32 L249.50,292.34 L250.00,292.35 L250.50,292.37 L251.00,292.39 L251.50,292.40 L252.00,292.42 L252.50,292.43 L253.00,292.45 L253.50,292.47 L254.00,292.48 L254.50,292.50 L255.00,292.51 L255.50,292.53 L256.00,292.55 L256.50,292.57 L257.00,292.58 L257.50,292.60 L258.00,292.62 L258.50,292.64 L259.00,292.65 L259.50,292.67 L260.00,292.69 L260.50,292.71 L261.00,292.73 L261.50,292.74 L262.00,292.76 L262.50,292.78 L263.00,292.80 L263.50,292.82 L264.00,292.84 L264.50,292.85 L265.00,292.87 L265.50,292.89 L266.00,292.91 L266.50,292.93 L267.00,292.95 L267.50,292.97 L268.00,292.99 L268.50,293.00 L269.00,293.02 L269.50,293.04 L270.00,293.06 L270.50,293.08 L271.00,293.10 L271.50,293.12 L272.00,293.14 L272.50,293.16 L273.00,293.18 L273.50,293.20 L274.00,293.22 L274.50,293.24 L275.00,293.26 L275.50,293.28 L276.00,293.30 L276.50,293.32 L277.00,293.34 L277.50,293.36 L278.00,293.38 L278.50,293.40 L279.00,293.42 L279.50,293.44 L280.00,293.46 L280.50,293.48 L281.00,293.50 L282.50,293.56" stroke="#ff0000" stroke-width="2.05" stroke-dasharray="3.15 1.75"/>
<path d="M34.50,291.10 L35.00,291.08 L35.50,291.06 L36.00,291.04 L36.50,291.02 L37.00,290.99 L37.50,290.97 L38.00,290.95 L38.50,290.92 L39.00,290.90 L39.50,290.88 L40.00,290.85 L40.50,290.83 L41.01,290.80 L41.51,290.78 L42.01,290.75 L42.51,290.72 L43.01,290.70 L43.51,290.67 L44.01,290.64 L44.51,290.61 L45.01,290.58 L45.51,290.55 L46.01,290.53 L46.51,290.50 L47.01,290.47 L47.51,290.44 L48.01,290.41 L48.51,290.37 L49.01,290.34 L49.51,290.31 L50.01,290.28 L50.51,290.25 L51.01,290.21 L51.51,290.18 L52.01,290.15 L52.51,290.11 L53.02,290.08 L53.52,290.05 L54.02,290.01 L54.52,289.97 L55.02,289.94 L55.52,289.90 L56.02,289.86 L56.52,289.83 L57.02,289.79 L57.52,289.75 L58.02,289.71 L58.52,289.67 L59.02,289.63 L59.52,289.59 L60.02,289.55 L60.52,289.51 L61.02,289.46 L61.52,289.42 L62.02,289.38 L62.52,289.33 L63.02,289.29 L63.52,289.24 L64.02,289.20 L64.52,289.15 L65.02,289.10 L65.53,289.06 L66.03,289.01 L66.53,288.96 L67.03,288.91 L67.53,288.85 L68.03,288.80 L68.53,288.74 L69.03,288.69 L69.53,288.63 L70.03,288.57 L70.53,288.51 L71.03,288.44 L71.53,288.38 L72.03,288.32 L72.53,288.25 L73.03,288.18 L73.53,288.12 L74.03,288.05 L74.53,287.98 L75.03,287.91 L75.53,287.84 L76.03,287.77 L76.53,287.70 L77.03,287.63 L77.53,287.56 L78.04,287.49 L78.54,287.41 L79.04,287.34 L79.54,287.27 L80.04,287.20 L80.54,287.12 L81.04,287.05 L81.54,286.98 L82.04,286.91 L82.54,286.84 L83.04,286.76 L83.54,286.69 L84.04,286.62 L84.54,286.55 L85.04,286.48 L85.54,286.41 L86.04,286.34 L86.54,286.27 L87.04,286.20 L87.54,286.14 L88.04,286.07 L88.54,286.00 L89.04,285.93 L89.54,285.86 L90.05,285.79 L90.55,285.72 L91.05,285.65 L91.55,285.58 L92.05,285.51 L92.55,285.44 L93.05,285.36 L93.55,285.29 L94.05,285.22 L94.55,285.15 L95.05,285.07 L95.55,285.00 L96.05,284.92 L96.55,284.85 L97.05,284.77 L97.55,284.69 L98.05,284.61 L98.55,284.53 L99.05,284.45 L99.55,284.37 L100.05,284.29 L100.55,284.20 L101.05,284.12 L101.55,284.03 L102.05,283.94 L102.56,283.85 L103.06,283.76 L103.56,283.67 L104.06,283.58 L104.56,283.48 L105.06,283.38 L105.56,283.29 L106.06,283.19 L106.56,283.08 L107.06,282.98 L107.56,282.88 L108.06,282.77 L108.56,282.67 L109.06,282.56 L109.56,282.45 L110.06,282.34 L110.56,282.23 L111.06,282.12 L111.56,282.01 L112.06,281.89 L112.56,281.78 L113.06,281.66 L113.56,281.55 L114.06,281.43 L114.57,281.31 L115.07,281.19 L115.57,281.07 L116.07,280.95 L116.57,280.83 L117.07,280.71 L117.57,280.59 L118.07,280.47 L118.57,280.35 L119.07,280.23 L119.57,280.10 L120.07,279.98 L120.57,279.86 L121.07,279.73 L121.57,279.61 L122.07,279.49 L122.57,279.36 L123.07,279.24 L123.57,279.11 L124.07,278.99 L124.57,278.86 L125.07,278.74 L125.57,278.61 L126.07,278.48 L126.57,278.35 L127.08,278.22 L127.58,278.09 L128.08,277.96 L128.58,277.83 L129.08,277.69 L129.58,277.56 L130.08,277.42 L130.58,277.28 L131.08,277.14 L131.58,277.00 L132.08,276.86 L132.58,276.72 L133.08,276.57 L133.58,276.42 L134.08,276.27 L134.58,276.12 L135.08,275.97 L135.58,275.81 L136.08,275.66 L136.58,275.50 L137.08,275.34 L137.58,275.17 L138.08,275.01 L138.58,274.84 L139.08,274.66 L139.59,274.49 L140.09,274.30 L140.59,274.11 L141.09,273.92 L141.59,273.73 L142.09,273.53 L142.59,273.32 L143.09,273.12 L143.59,272.91 L144.09,272.69 L144.59,272.48 L145.09,272.26 L145.59,272.04 L146.09,271.81 L146.59,271.59 L147.09,271.36 L147.59,271.12 L148.09,270.87 L148.59,270.62 L149.09,270.36 L149.59,270.10 L150.09,269.85 L150.59,269.61 L151.09,269.36 L151.60,269.12 L152.10,268.88 L152.60,268.63 L153.10,268.39 L153.60,268.15 L154.10,267.91 L154.60,267.68 L155.10,267.44 L155.60,267.20 L156.10,266.96 L156.60,266.72 L157.10,266.49 L157.60,266.25 L158.10,266.01 L158.60,265.77 L159.10,265.54 L159.60,265.30 L160.10,265.06 L160.60,264.82 L161.10,264.58 L161.60,264.34 L162.10,264.10 L162.60,263.86 L163.10,263.62 L163.60,263.38 L164.11,263.13 L164.61,262.89 L165.11,262.64 L165.61,262.40 L166.11,262.15 L166.61,261.90 L167.11,261.65 L167.61,261.39 L168.11,261.14 L168.61,260.89 L169.11,260.63 L169.61,260.38 L170.11,260.12 L170.61,259.87 L171.11,259.61 L171.61,259.36 L172.11,259.10 L172.61,258.84 L173.11,258.58 L173.61,258.32 L174.11,258.06 L174.61,257.80 L175.11,257.53 L175.61,257.27 L176.12,257.00 L176.62,256.74 L177.12,256.47 L177.62,256.20 L178.12,255.93 L178.62,255.66 L179.12,255.38 L179.62,255.11 L180.12,254.83 L180.62,254.56 L181.12,254.28 L181.62,254.00 L182.12,253.73 L182.62,253.45 L183.12,253.16 L183.62,252.85 L184.12,252.52 L184.62,252.16 L185.12,251.79 L185.62,251.39 L186.12,250.98 L186.62,250.56 L187.12,250.12 L187.62,249.68 L188.12,249.23 L188.63,248.77 L189.13,248.31 L189.63,247.85 L190.13,247.39 L190.63,246.93 L191.13,246.48 L191.63,246.04 L192.13,245.60 L192.63,245.17 L193.13,244.74 L193.63,244.31 L194.13,243.88 L194.63,243.46 L195.13,243.03 L195.63,242.60 L196.13,242.17 L196.63,241.74 L197.13,241.31 L197.63,240.88 L198.13,240.44 L198.63,240.01 L199.13,239.57 L199.63,239.14 L200.13,238.70 L200.63,238.26 L201.14,237.81 L201.64,237.34 L202.14,236.86 L202.64,236.37 L203.14,235.87 L203.64,235.38 L204.14,234.88 L204.64,234.39 L205.14,233.92 L205.64,233.46 L206.14,233.01 L206.64,232.59 L207.14,232.20 L207.64,231.84 L208.14,231.51 L208.64,231.20 L209.14,230.89 L209.64,230.59 L210.14,230.30 L210.64,230.03 L211.14,229.77 L211.64,229.52 L212.14,229.30 L212.64,229.09 L213.15,228.90 L213.65,228.74 L214.15,228.60 L214.65,228.46 L215.15,228.32 L215.65,228.21 L216.15,228.13 L216.65,228.10 L217.15,228.12 L217.65,228.19 L218.15,228.30 L218.65,228.45 L219.15,228.63 L219.65,228.83 L220.15,229.05 L220.65,229.29 L221.15,229.53 L221.65,229.80 L222.15,230.15 L222.65,230.55 L223.15,231.01 L223.65,231.52 L224.15,232.08 L224.65,232.68 L225.15,233.33 L225.66,234.02 L226.16,234.86 L226.66,235.86 L227.16,236.99 L227.66,238.22 L228.16,239.53 L228.66,240.89 L229.16,242.26 L229.66,243.62 L230.16,244.95 L230.66,246.27 L231.16,247.62 L231.66,248.99 L232.16,250.40 L232.66,251.85 L233.16,253.36 L233.66,254.91 L234.16,256.54 L234.66,258.30 L235.16,260.17 L235.66,262.12 L236.16,264.09 L236.66,266.05 L237.16,267.94 L237.67,269.72 L238.17,271.42 L238.67,273.08 L239.17,274.69 L239.67,276.28 L240.17,277.85 L240.67,279.41 L241.17,280.97 L241.67,282.53 L242.17,284.12 L242.67,285.74 L243.17,287.39 L243.67,289.05 L244.17,290.69 L244.67,292.31 L245.17,293.88 L245.67,295.38 L246.17,296.80 L246.67,298.19 L247.17,299.59 L247.67,300.97 L248.17,302.31 L248.67,303.61 L249.17,304.84 L249.67,305.99 L250.18,307.04 L250.68,307.97 L251.18,308.77 L251.68,309.51 L252.18,310.22 L252.68,310.89 L253.18,311.53 L253.68,312.13 L254.18,312.69 L254.68,313.22 L255.18,313.71 L255.68,314.16 L256.18,314.59 L256.68,314.97 L257.18,315.32 L257.68,315.67 L258.18,316.00 L258.68,316.32 L259.18,316.64 L259.68,316.93 L260.18,317.22 L260.68,317.49 L261.18,317.74 L261.68,317.97 L262.18,318.18 L262.69,318.37 L263.19,318.53 L263.69,318.67 L264.19,318.78 L264.69,318.87 L265.19,318.95 L265.69,319.04 L266.19,319.12 L266.69,319.19 L267.19,319.26 L267.69,319.33 L268.19,319.40 L268.69,319.45 L269.19,319.51 L269.69,319.55 L270.19,319.60 L270.69,319.63 L271.19,319.66 L271.69,319.68 L272.19,319.69 L272.69,319.70 L273.19,319.70 L273.69,319.70 L274.19,319.69 L274.70,319.68 L275.20,319.66 L275.70,319.65 L276.20,319.62 L276.70,319.60 L277.20,319.56 L277.70,319.53 L278.20,319.49 L278.70,319.44 L279.20,319.39 L279.70,319.33 L280.20,319.27 L280.70,319.20 L282.20,319.00" stroke="#000" stroke-width="1.8"/>
<path d="M34.50,291.90 L35.00,291.88 L35.50,291.86 L36.00,291.84 L36.50,291.82 L37.00,291.79 L37.50,291.77 L38.00,291.75 L38.50,291.72 L39.00,291.70 L39.50,291.68 L40.00,291.65 L40.50,291.63 L41.00,291.60 L41.50,291.58 L42.00,291.55 L42.50,291.52 L43.00,291.50 L43.50,291.47 L44.00,291.44 L44.50,291.41 L45.00,291.38 L45.50,291.36 L46.00,291.33 L46.50,291.30 L47.00,291.27 L47.50,291.24 L48.00,291.21 L48.50,291.18 L49.00,291.14 L49.50,291.11 L50.00,291.08 L50.50,291.05 L51.00,291.02 L51.50,290.98 L52.00,290.95 L52.50,290.91 L53.00,290.88 L53.50,290.84 L54.00,290.81 L54.50,290.77 L55.00,290.74 L55.50,290.70 L56.00,290.66 L56.50,290.62 L57.00,290.59 L57.50,290.55 L58.00,290.51 L58.50,290.47 L59.00,290.43 L59.50,290.39 L60.00,290.35 L60.50,290.30 L61.00,290.26 L61.50,290.22 L62.00,290.18 L62.50,290.13 L63.00,290.09 L63.50,290.04 L64.00,290.00 L64.50,289.95 L65.00,289.90 L65.50,289.86 L66.00,289.81 L66.50,289.76 L67.00,289.71 L67.50,289.66 L68.00,289.61 L68.50,289.55 L69.00,289.50 L69.50,289.44 L70.00,289.38 L70.50,289.33 L71.00,289.27 L71.50,289.21 L72.00,289.15 L72.50,289.08 L73.00,289.02 L73.50,288.96 L74.00,288.89 L74.50,288.83 L75.00,288.76 L75.50,288.70 L76.00,288.63 L76.50,288.56 L77.00,288.49 L77.50,288.43 L78.00,288.36 L78.50,288.29 L79.00,288.22 L79.50,288.15 L80.00,288.08 L80.50,288.01 L81.00,287.94 L81.50,287.87 L82.00,287.80 L82.50,287.73 L83.00,287.67 L83.50,287.60 L84.00,287.53 L84.50,287.46 L85.00,287.39 L85.50,287.32 L86.00,287.25 L86.50,287.19 L87.00,287.12 L87.50,287.05 L88.00,286.98 L88.50,286.91 L89.00,286.84 L89.50,286.77 L90.00,286.70 L90.50,286.63 L91.00,286.56 L91.50,286.49 L92.00,286.42 L92.50,286.35 L93.00,286.28 L93.50,286.21 L94.00,286.13 L94.50,286.06 L95.00,285.99 L95.50,285.91 L96.00,285.83 L96.50,285.76 L97.00,285.68 L97.50,285.60 L98.00,285.52 L98.50,285.44 L99.00,285.36 L99.50,285.28 L100.00,285.20 L100.50,285.11 L101.00,285.03 L101.50,284.94 L102.00,284.85 L102.50,284.76 L103.00,284.67 L103.50,284.58 L104.00,284.49 L104.50,284.39 L105.00,284.29 L105.50,284.20 L106.00,284.10 L106.50,284.00 L107.00,283.89 L107.50,283.79 L108.00,283.68 L108.50,283.58 L109.00,283.47 L109.50,283.36 L110.00,283.25 L110.50,283.14 L111.00,283.03 L111.50,282.92 L112.00,282.80 L112.50,282.69 L113.00,282.57 L113.50,282.46 L114.00,282.34 L114.50,282.22 L115.00,282.10 L115.50,281.98 L116.00,281.87 L116.50,281.75 L117.00,281.63 L117.50,281.50 L118.00,281.38 L118.50,281.26 L119.00,281.14 L119.50,281.02 L120.00,280.90 L120.50,280.78 L121.00,280.65 L121.50,280.53 L122.00,280.41 L122.50,280.29 L123.00,280.17 L123.50,280.04 L124.00,279.92 L124.50,279.80 L125.00,279.67 L125.50,279.55 L126.00,279.42 L126.50,279.30 L127.00,279.17 L127.50,279.05 L128.00,278.92 L128.50,278.79 L129.00,278.66 L129.50,278.53 L130.00,278.39 L130.50,278.26 L131.00,278.12 L131.50,277.99 L132.00,277.85 L132.50,277.71 L133.00,277.57 L133.50,277.42 L134.00,277.28 L134.50,277.13 L135.00,276.98 L135.50,276.83 L136.00,276.67 L136.50,276.52 L137.00,276.36 L137.50,276.20 L138.00,276.03 L138.50,275.87 L139.00,275.70 L139.50,275.52 L140.00,275.34 L140.50,275.15 L141.00,274.96 L141.50,274.77 L142.00,274.57 L142.50,274.36 L143.00,274.16 L143.50,273.95 L144.00,273.73 L144.50,273.52 L145.00,273.30 L145.50,273.08 L146.00,272.85 L146.50,272.63 L147.00,272.40 L147.50,272.16 L148.00,271.92 L148.50,271.66 L149.00,271.41 L149.50,271.15 L150.00,270.90 L150.50,270.66 L151.00,270.41 L151.50,270.17 L152.00,269.93 L152.50,269.69 L153.00,269.45 L153.50,269.22 L154.00,268.98 L154.50,268.75 L155.00,268.51 L155.50,268.28 L156.00,268.04 L156.50,267.81 L157.00,267.58 L157.50,267.34 L158.00,267.11 L158.50,266.88 L159.00,266.64 L159.50,266.41 L160.00,266.18 L160.50,265.94 L161.00,265.71 L161.50,265.47 L162.00,265.24 L162.50,265.00 L163.00,264.76 L163.50,264.52 L164.00,264.28 L164.50,264.04 L165.00,263.79 L165.50,263.55 L166.00,263.30 L166.50,263.05 L167.00,262.80 L167.50,262.55 L168.00,262.29 L168.50,262.04 L169.00,261.78 L169.50,261.53 L170.00,261.27 L170.50,261.01 L171.00,260.75 L171.50,260.49 L172.00,260.23 L172.50,259.97 L173.00,259.70 L173.50,259.44 L174.00,259.17 L174.50,258.91 L175.00,258.64 L175.50,258.37 L176.00,258.10 L176.50,257.83 L177.00,257.56 L177.50,257.28 L178.00,257.01 L178.50,256.73 L179.00,256.46 L179.50,256.18 L180.00,255.90 L180.50,255.62 L181.00,255.34 L181.50,255.07 L182.00,254.79 L182.50,254.52 L183.00,254.23 L183.50,253.93 L184.00,253.60 L184.50,253.25 L185.00,252.88 L185.50,252.49 L186.00,252.08 L186.50,251.66 L187.00,251.22 L187.50,250.78 L188.00,250.32 L188.50,249.86 L189.00,249.39 L189.50,248.92 L190.00,248.45 L190.50,247.99 L191.00,247.52 L191.50,247.06 L192.00,246.61 L192.50,246.16 L193.00,245.71 L193.50,245.26 L194.00,244.81 L194.50,244.35 L195.00,243.89 L195.50,243.43 L196.00,242.96 L196.50,242.48 L197.00,242.00 L197.50,241.54 L198.00,241.10 L198.50,240.68 L199.00,240.23 L199.50,239.73 L200.00,239.17 L200.50,238.50 L201.00,237.63 L201.50,236.36 L202.00,234.91 L202.50,233.54 L203.00,232.20 L203.50,230.86 L204.00,229.59 L204.50,228.47 L205.00,227.46 L205.50,226.53 L206.00,225.65 L206.50,224.79 L207.00,223.91 L207.50,222.99 L208.00,222.00 L208.50,220.92 L209.00,219.77 L209.50,218.58 L210.00,217.38 L210.50,216.17 L211.00,215.00 L211.50,213.88 L212.00,212.78 L212.50,211.67 L213.00,210.49 L213.50,209.23 L214.00,207.90 L214.50,206.49 L215.00,205.03 L215.50,203.50" stroke="#000" stroke-width="1.9" stroke-dasharray="4.7 1.9"/>
<path d="M34.50,295.10 L35.00,295.06 L35.50,295.03 L36.00,294.99 L36.50,294.95 L37.00,294.91 L37.50,294.87 L38.00,294.83 L38.50,294.79 L39.00,294.75 L39.50,294.70 L40.00,294.66 L40.50,294.62 L41.01,294.57 L41.51,294.53 L42.01,294.48 L42.51,294.44 L43.01,294.39 L43.51,294.35 L44.01,294.30 L44.51,294.25 L45.01,294.21 L45.51,294.16 L46.01,294.11 L46.51,294.06 L47.01,294.01 L47.51,293.96 L48.01,293.91 L48.51,293.86 L49.01,293.81 L49.51,293.75 L50.01,293.70 L50.51,293.65 L51.01,293.59 L51.51,293.54 L52.01,293.48 L52.51,293.42 L53.02,293.36 L53.52,293.31 L54.02,293.25 L54.52,293.19 L55.02,293.13 L55.52,293.07 L56.02,293.01 L56.52,292.95 L57.02,292.88 L57.52,292.82 L58.02,292.76 L58.52,292.70 L59.02,292.63 L59.52,292.57 L60.02,292.50 L60.52,292.44 L61.02,292.37 L61.52,292.31 L62.02,292.24 L62.52,292.18 L63.02,292.11 L63.52,292.04 L64.02,291.98 L64.52,291.91 L65.02,291.84 L65.53,291.78 L66.03,291.71 L66.53,291.64 L67.03,291.58 L67.53,291.51 L68.03,291.44 L68.53,291.37 L69.03,291.30 L69.53,291.23 L70.03,291.16 L70.53,291.09 L71.03,291.02 L71.53,290.95 L72.03,290.88 L72.53,290.81 L73.03,290.74 L73.53,290.67 L74.03,290.60 L74.53,290.52 L75.03,290.45 L75.53,290.38 L76.03,290.30 L76.53,290.23 L77.03,290.15 L77.53,290.07 L78.04,290.00 L78.54,289.92 L79.04,289.84 L79.54,289.76 L80.04,289.68 L80.54,289.60 L81.04,289.52 L81.54,289.44 L82.04,289.36 L82.54,289.28 L83.04,289.20 L83.54,289.11 L84.04,289.03 L84.54,288.94 L85.04,288.86 L85.54,288.77 L86.04,288.68 L86.54,288.59 L87.04,288.50 L87.54,288.41 L88.04,288.32 L88.54,288.23 L89.04,288.14 L89.54,288.04 L90.05,287.95 L90.55,287.85 L91.05,287.76 L91.55,287.66 L92.05,287.56 L92.55,287.46 L93.05,287.36 L93.55,287.26 L94.05,287.16 L94.55,287.06 L95.05,286.96 L95.55,286.86 L96.05,286.75 L96.55,286.65 L97.05,286.54 L97.55,286.44 L98.05,286.33 L98.55,286.23 L99.05,286.12 L99.55,286.01 L100.05,285.90 L100.55,285.79 L101.05,285.68 L101.55,285.57 L102.05,285.46 L102.56,285.34 L103.06,285.23 L103.56,285.11 L104.06,285.00 L104.56,284.88 L105.06,284.77 L105.56,284.65 L106.06,284.53 L106.56,284.41 L107.06,284.29 L107.56,284.16 L108.06,284.04 L108.56,283.92 L109.06,283.79 L109.56,283.67 L110.06,283.54 L110.56,283.41 L111.06,283.28 L111.56,283.16 L112.06,283.02 L112.56,282.89 L113.06,282.76 L113.56,282.63 L114.06,282.49 L114.57,282.36 L115.07,282.22 L115.57,282.08 L116.07,281.94 L116.57,281.80 L117.07,281.66 L117.57,281.52 L118.07,281.38 L118.57,281.24 L119.07,281.09 L119.57,280.94 L120.07,280.80 L120.57,280.65 L121.07,280.50 L121.57,280.35 L122.07,280.21 L122.57,280.06 L123.07,279.91 L123.57,279.76 L124.07,279.61 L124.57,279.47 L125.07,279.32 L125.57,279.16 L126.07,279.01 L126.57,278.86 L127.08,278.70 L127.58,278.55 L128.08,278.39 L128.58,278.23 L129.08,278.07 L129.58,277.90 L130.08,277.74 L130.58,277.57 L131.08,277.40 L131.58,277.22 L132.08,277.05 L132.58,276.87 L133.08,276.68 L133.58,276.50 L134.08,276.31 L134.58,276.11 L135.08,275.92 L135.58,275.72 L136.08,275.51 L136.58,275.30 L137.08,275.09 L137.58,274.87 L138.08,274.64 L138.58,274.41 L139.08,274.17 L139.59,273.91 L140.09,273.63 L140.59,273.34 L141.09,273.03 L141.59,272.72 L142.09,272.40 L142.59,272.08 L143.09,271.75 L143.59,271.42 L144.09,271.09 L144.59,270.77 L145.09,270.44 L145.59,270.13 L146.09,269.82 L146.59,269.51 L147.09,269.20 L147.59,268.88 L148.09,268.57 L148.59,268.25 L149.09,267.94 L149.59,267.62 L150.09,267.31 L150.59,267.00 L151.09,266.69 L151.60,266.38 L152.10,266.08 L152.60,265.78 L153.10,265.49 L153.60,265.20 L154.10,264.91 L154.60,264.62 L155.10,264.34 L155.60,264.06 L156.10,263.78 L156.60,263.50 L157.10,263.23 L157.60,262.95 L158.10,262.67 L158.60,262.40 L159.10,262.12 L159.60,261.85 L160.10,261.57 L160.60,261.29 L161.10,261.01 L161.60,260.73 L162.10,260.45 L162.60,260.17 L163.10,259.88 L163.60,259.59 L164.11,259.29 L164.61,259.00 L165.11,258.70 L165.61,258.39 L166.11,258.09 L166.61,257.78 L167.11,257.47 L167.61,257.16 L168.11,256.84 L168.61,256.53 L169.11,256.21 L169.61,255.89 L170.11,255.57 L170.61,255.25 L171.11,254.93 L171.61,254.61 L172.11,254.29 L172.61,253.96 L173.11,253.64 L173.61,253.32 L174.11,253.00 L174.61,252.68 L175.11,252.35 L175.61,252.03 L176.12,251.71 L176.62,251.38 L177.12,251.04 L177.62,250.71 L178.12,250.37 L178.62,250.04 L179.12,249.70 L179.62,249.37 L180.12,249.03 L180.62,248.70 L181.12,248.37 L181.62,248.04 L182.12,247.72 L182.62,247.40 L183.12,247.09 L183.62,246.78 L184.12,246.48 L184.62,246.19 L185.12,245.90 L185.62,245.61 L186.12,245.33 L186.62,245.05 L187.12,244.77 L187.62,244.50 L188.12,244.22 L188.63,243.95 L189.13,243.69 L189.63,243.42 L190.13,243.16 L190.63,242.90 L191.13,242.65 L191.63,242.40 L192.13,242.15 L192.63,241.91 L193.13,241.67 L193.63,241.43 L194.13,241.20 L194.63,240.98 L195.13,240.75 L195.63,240.51 L196.13,240.26 L196.63,240.00 L197.13,239.74 L197.63,239.48 L198.13,239.23 L198.63,238.99 L199.13,238.77 L199.63,238.57 L200.13,238.39 L200.63,238.24 L201.14,238.12 L201.64,238.04 L202.14,238.00 L202.64,237.98 L203.14,237.96 L203.64,237.95 L204.14,237.93 L204.64,237.92 L205.14,237.91 L205.64,237.90 L206.14,237.90 L206.64,237.90 L207.14,237.94 L207.64,238.03 L208.14,238.15 L208.64,238.31 L209.14,238.50 L209.64,238.71 L210.14,238.94 L210.64,239.18 L211.14,239.43 L211.64,239.77 L212.14,240.19 L212.64,240.67 L213.15,241.19 L213.65,241.73 L214.15,242.29 L214.65,242.92 L215.15,243.59 L215.65,244.31 L216.15,245.06 L216.65,245.83 L217.15,246.61 L217.65,247.39 L218.15,248.19 L218.65,249.02 L219.15,249.88 L219.65,250.75 L220.15,251.65 L220.65,252.56 L221.15,253.48 L221.65,254.42 L222.15,255.38 L222.65,256.38 L223.15,257.42 L223.65,258.52 L224.15,259.67 L224.65,260.88 L225.15,262.14 L225.66,263.44 L226.16,264.80 L226.66,266.21 L227.16,267.67 L227.66,269.24 L228.16,270.91 L228.66,272.62 L229.16,274.31 L229.66,276.03 L230.16,277.78 L230.66,279.54 L231.16,281.30 L231.66,283.07 L232.16,284.83 L232.66,286.57 L233.16,288.29 L233.66,289.98 L234.16,291.63 L234.66,293.27 L235.16,294.90 L235.66,296.51 L236.16,298.09 L236.66,299.63 L237.16,301.13 L237.67,302.59 L238.17,303.97 L238.67,305.29 L239.17,306.58 L239.67,307.85 L240.17,309.12 L240.67,310.41 L241.17,311.74 L241.67,313.14 L242.17,314.62 L242.67,316.14 L243.17,317.69 L243.67,319.22 L244.17,320.72 L244.67,322.15 L245.17,323.49 L245.67,324.71 L246.17,325.88 L246.67,327.03 L247.17,328.16 L247.67,329.25 L248.17,330.30 L248.67,331.30 L249.17,332.26 L249.67,333.15 L250.18,333.98 L250.68,334.75 L251.18,335.44 L251.68,336.10 L252.18,336.75 L252.68,337.38 L253.18,337.99 L253.68,338.57 L254.18,339.11 L254.68,339.61 L255.18,340.07 L255.68,340.48 L256.18,340.84 L256.68,341.14 L257.18,341.38 L257.68,341.61 L258.18,341.83 L258.68,342.04 L259.18,342.24 L259.68,342.43 L260.18,342.61 L260.68,342.78 L261.18,342.93 L261.68,343.06 L262.18,343.17 L262.69,343.26 L263.19,343.33 L263.69,343.38 L264.19,343.40 L264.69,343.39 L265.19,343.37 L265.69,343.32 L266.19,343.26 L266.69,343.18 L267.19,343.09 L267.69,342.98 L268.19,342.87 L268.69,342.74 L269.19,342.61 L269.69,342.47 L270.19,342.32 L270.69,342.17 L271.19,342.02 L271.69,341.87 L272.19,341.71 L272.69,341.52 L273.19,341.32 L273.69,341.09 L274.19,340.85 L274.70,340.59 L275.20,340.32 L275.70,340.02 L276.20,339.72 L276.70,339.40 L277.20,339.06 L277.70,338.71 L278.20,338.35 L278.70,337.98 L279.20,337.60 L279.70,337.21 L280.20,336.81 L280.70,336.40 L282.20,335.19" stroke="#00a800" stroke-width="2.15" stroke-dasharray="8.6 3.7"/>
</g>
<path d="M246.0,202.7V354.9" stroke="#000" stroke-width="1.85" stroke-dasharray="5 1.6" fill="none"/>
<rect x="34.5" y="203.5" width="246.10" height="150.90" fill="none" stroke="#8c8c8c" stroke-width="0.8"/>
<path d="M34.50,354.4v-3.4M42.70,354.4v-2.0M50.91,354.4v-2.0M59.11,354.4v-2.0M67.31,354.4v-2.0M75.52,354.4v-3.4M83.72,354.4v-2.0M91.92,354.4v-2.0M100.13,354.4v-2.0M108.33,354.4v-2.0M116.53,354.4v-3.4M124.74,354.4v-2.0M132.94,354.4v-2.0M141.14,354.4v-2.0M149.35,354.4v-2.0M157.55,354.4v-3.4M165.75,354.4v-2.0M173.96,354.4v-2.0M182.16,354.4v-2.0M190.36,354.4v-2.0M198.57,354.4v-3.4M206.77,354.4v-2.0M214.97,354.4v-2.0M223.18,354.4v-2.0M231.38,354.4v-2.0M239.58,354.4v-3.4M247.79,354.4v-2.0M255.99,354.4v-2.0M264.19,354.4v-2.0M272.40,354.4v-2.0M280.60,354.4v-3.4M34.5,354.40h3.4M34.5,349.37h2.0M34.5,343.84h2.0M34.5,338.31h2.0M34.5,332.78h2.0M34.5,327.25h3.4M34.5,321.72h2.0M34.5,316.19h2.0M34.5,310.66h2.0M34.5,305.13h2.0M34.5,299.60h3.4M34.5,294.07h2.0M34.5,288.54h2.0M34.5,283.01h2.0M34.5,277.48h2.0M34.5,271.96h3.4M34.5,266.43h2.0M34.5,260.90h2.0M34.5,255.37h2.0M34.5,249.84h2.0M34.5,244.31h3.4M34.5,238.78h2.0M34.5,233.25h2.0M34.5,227.72h2.0M34.5,222.19h2.0M34.5,216.66h3.4M34.5,211.13h2.0M34.5,205.60h2.0" stroke="#8c8c8c" stroke-width="0.8" fill="none"/>
<g font-family="'Liberation Serif', serif" font-size="12.4" fill="#000" text-rendering="geometricPrecision" letter-spacing="0.4">
<text x="34.70" y="367.70" text-anchor="middle">0</text>
<text x="75.72" y="367.70" text-anchor="middle">50</text>
<text x="116.73" y="367.70" text-anchor="middle">100</text>
<text x="157.75" y="367.70" text-anchor="middle">150</text>
<text x="198.77" y="367.70" text-anchor="middle">200</text>
<text x="239.78" y="367.70" text-anchor="middle">250</text>
<text x="280.80" y="367.70" text-anchor="middle">300</text>
<text x="31.90" y="359.10" text-anchor="end">20</text>
<text x="31.90" y="331.45" text-anchor="end">10</text>
<text x="31.90" y="303.80" text-anchor="end">0</text>
<text x="31.90" y="276.16" text-anchor="end">10</text>
<text x="31.90" y="248.51" text-anchor="end">20</text>
<text x="31.90" y="220.86" text-anchor="end">30</text>
<path d="M10.05,355.65h6.9M10.05,328.00h6.9" stroke="#111" stroke-width="0.8" fill="none"/>
</g>
<text x="134.90" y="197.90" font-family="'Liberation Serif', serif" font-style="italic" font-size="11.5" fill="#000">ω<tspan font-size="8" dy="2.4" font-style="italic">π</tspan></text>
<text x="239.40" y="199.00" font-family="'Liberation Serif', serif" font-style="italic" font-size="11.5" fill="#000">ω<tspan font-size="8" dy="2.4" font-style="normal">Δ</tspan></text>
<text x="46.3" y="261.7" textLength="42.5" lengthAdjust="spacingAndGlyphs" font-family="'Liberation Serif', serif" font-size="10.7" fill="#000"><tspan font-style="italic">β</tspan>M1(<tspan font-style="italic">ω</tspan>)</text>
<clipPath id="c4"><rect x="299.5" y="203.5" width="247.20" height="150.90"/></clipPath>
<path d="M299.5,278.90H545.5" stroke="#d4d4d4" stroke-width="1.7" fill="none"/>
<path d="M406.50,203.5V354.4" stroke="#cacaca" stroke-width="0.65" fill="none"/>
<g clip-path="url(#c4)" fill="none" stroke-linejoin="round">
<path d="M299.60,286.80 L300.10,286.81 L300.60,286.82 L301.10,286.83 L301.60,286.84 L302.10,286.85 L302.60,286.86 L303.10,286.87 L303.60,286.88 L304.10,286.89 L304.60,286.90 L305.10,286.91 L305.60,286.92 L306.10,286.93 L306.60,286.94 L307.10,286.95 L307.60,286.96 L308.10,286.97 L308.60,286.98 L309.10,286.99 L309.60,287.00 L310.10,287.02 L310.60,287.03 L311.10,287.04 L311.60,287.05 L312.11,287.06 L312.61,287.07 L313.11,287.08 L313.61,287.09 L314.11,287.10 L314.61,287.11 L315.11,287.12 L315.61,287.13 L316.11,287.14 L316.61,287.16 L317.11,287.17 L317.61,287.18 L318.11,287.19 L318.61,287.20 L319.11,287.21 L319.61,287.22 L320.11,287.24 L320.61,287.25 L321.11,287.26 L321.61,287.27 L322.11,287.28 L322.61,287.29 L323.11,287.31 L323.61,287.32 L324.11,287.33 L324.61,287.34 L325.11,287.35 L325.61,287.36 L326.11,287.37 L326.61,287.39 L327.11,287.40 L327.61,287.41 L328.11,287.42 L328.61,287.43 L329.11,287.44 L329.61,287.45 L330.11,287.46 L330.61,287.47 L331.11,287.48 L331.61,287.49 L332.11,287.50 L332.61,287.51 L333.11,287.52 L333.61,287.53 L334.11,287.54 L334.61,287.55 L335.11,287.55 L335.61,287.56 L336.11,287.57 L336.62,287.58 L337.12,287.59 L337.62,287.60 L338.12,287.60 L338.62,287.61 L339.12,287.62 L339.62,287.63 L340.12,287.63 L340.62,287.64 L341.12,287.65 L341.62,287.66 L342.12,287.66 L342.62,287.67 L343.12,287.68 L343.62,287.69 L344.12,287.70 L344.62,287.70 L345.12,287.71 L345.62,287.72 L346.12,287.73 L346.62,287.74 L347.12,287.74 L347.62,287.75 L348.12,287.76 L348.62,287.77 L349.12,287.78 L349.62,287.79 L350.12,287.80 L350.62,287.81 L351.12,287.82 L351.62,287.83 L352.12,287.84 L352.62,287.85 L353.12,287.86 L353.62,287.87 L354.12,287.88 L354.62,287.88 L355.12,287.89 L355.62,287.90 L356.12,287.91 L356.62,287.92 L357.12,287.93 L357.62,287.95 L358.12,287.96 L358.62,287.97 L359.12,287.98 L359.62,287.99 L360.12,288.00 L360.62,288.01 L361.12,288.02 L361.63,288.03 L362.13,288.04 L362.63,288.05 L363.13,288.07 L363.63,288.08 L364.13,288.09 L364.63,288.10 L365.13,288.12 L365.63,288.13 L366.13,288.14 L366.63,288.15 L367.13,288.17 L367.63,288.18 L368.13,288.20 L368.63,288.21 L369.13,288.22 L369.63,288.24 L370.13,288.25 L370.63,288.27 L371.13,288.28 L371.63,288.30 L372.13,288.32 L372.63,288.33 L373.13,288.35 L373.63,288.37 L374.13,288.38 L374.63,288.40 L375.13,288.42 L375.63,288.44 L376.13,288.46 L376.63,288.47 L377.13,288.49 L377.63,288.51 L378.13,288.53 L378.63,288.55 L379.13,288.57 L379.63,288.59 L380.13,288.61 L380.63,288.63 L381.13,288.66 L381.63,288.68 L382.13,288.70 L382.63,288.72 L383.13,288.74 L383.63,288.77 L384.13,288.79 L384.63,288.81 L385.13,288.84 L385.63,288.86 L386.14,288.89 L386.64,288.91 L387.14,288.94 L387.64,288.96 L388.14,288.99 L388.64,289.02 L389.14,289.04 L389.64,289.07 L390.14,289.10 L390.64,289.13 L391.14,289.16 L391.64,289.19 L392.14,289.22 L392.64,289.26 L393.14,289.29 L393.64,289.32 L394.14,289.36 L394.64,289.40 L395.14,289.43 L395.64,289.47 L396.14,289.51 L396.64,289.55 L397.14,289.59 L397.64,289.64 L398.14,289.68 L398.64,289.73 L399.14,289.78 L399.64,289.83 L400.14,289.89 L400.64,289.94 L401.14,290.00 L401.64,290.06 L402.14,290.12 L402.64,290.18 L403.14,290.25 L403.64,290.32 L404.14,290.39 L404.64,290.46 L405.14,290.54 L405.64,290.61 L406.14,290.69 L406.64,290.77 L407.14,290.86 L407.64,290.97 L408.14,291.09 L408.64,291.22 L409.14,291.36 L409.64,291.50 L410.14,291.63 L410.65,291.75 L411.15,291.86 L411.65,291.95 L412.15,292.02 L412.65,292.08 L413.15,292.14 L413.65,292.20 L414.15,292.25 L414.65,292.30 L415.15,292.35 L415.65,292.39 L416.15,292.43 L416.65,292.46 L417.15,292.48 L417.65,292.50 L418.15,292.50 L418.65,292.50 L419.15,292.49 L419.65,292.49 L420.15,292.48 L420.65,292.47 L421.15,292.46 L421.65,292.44 L422.15,292.42 L422.65,292.41 L423.15,292.39 L423.65,292.37 L424.15,292.35 L424.65,292.32 L425.15,292.30 L425.65,292.27 L426.15,292.25 L426.65,292.22 L427.15,292.20 L427.65,292.17 L428.15,292.13 L428.65,292.09 L429.15,292.04 L429.65,291.98 L430.15,291.92 L430.65,291.86 L431.15,291.80 L431.65,291.73 L432.15,291.66 L432.65,291.59 L433.15,291.51 L433.65,291.44 L434.15,291.37 L434.65,291.30 L435.16,291.23 L435.66,291.16 L436.16,291.09 L436.66,291.03 L437.16,290.96 L437.66,290.89 L438.16,290.83 L438.66,290.76 L439.16,290.69 L439.66,290.62 L440.16,290.55 L440.66,290.48 L441.16,290.41 L441.66,290.33 L442.16,290.26 L442.66,290.19 L443.16,290.12 L443.66,290.05 L444.16,289.97 L444.66,289.90 L445.16,289.83 L445.66,289.75 L446.16,289.68 L446.66,289.61 L447.16,289.54 L447.66,289.47 L448.16,289.40 L448.66,289.33 L449.16,289.26 L449.66,289.19 L450.16,289.12 L450.66,289.05 L451.16,288.98 L451.66,288.92 L452.16,288.85 L452.66,288.79 L453.16,288.73 L453.66,288.66 L454.16,288.60 L454.66,288.54 L455.16,288.49 L455.66,288.43 L456.16,288.37 L456.66,288.31 L457.16,288.25 L457.66,288.20 L458.16,288.14 L458.66,288.08 L459.16,288.03 L459.67,287.97 L460.17,287.91 L460.67,287.86 L461.17,287.80 L461.67,287.75 L462.17,287.70 L462.67,287.64 L463.17,287.59 L463.67,287.54 L464.17,287.49 L464.67,287.43 L465.17,287.38 L465.67,287.33 L466.17,287.28 L466.67,287.23 L467.17,287.18 L467.67,287.13 L468.17,287.08 L468.67,287.04 L469.17,286.99 L469.67,286.94 L470.17,286.89 L470.67,286.85 L471.17,286.80 L471.67,286.76 L472.17,286.71 L472.67,286.67 L473.17,286.62 L473.67,286.58 L474.17,286.54 L474.67,286.49 L475.17,286.45 L475.67,286.41 L476.17,286.37 L476.67,286.33 L477.17,286.29 L477.67,286.25 L478.17,286.21 L478.67,286.17 L479.17,286.13 L479.67,286.09 L480.17,286.06 L480.67,286.02 L481.17,285.98 L481.67,285.94 L482.17,285.91 L482.67,285.87 L483.17,285.83 L483.67,285.79 L484.18,285.76 L484.68,285.72 L485.18,285.68 L485.68,285.65 L486.18,285.61 L486.68,285.57 L487.18,285.54 L487.68,285.50 L488.18,285.46 L488.68,285.43 L489.18,285.39 L489.68,285.35 L490.18,285.32 L490.68,285.28 L491.18,285.24 L491.68,285.20 L492.18,285.17 L492.68,285.13 L493.18,285.09 L493.68,285.05 L494.18,285.01 L494.68,284.97 L495.18,284.94 L495.68,284.90 L496.18,284.86 L496.68,284.82 L497.18,284.78 L497.68,284.74 L498.18,284.71 L498.68,284.67 L499.18,284.63 L499.68,284.59 L500.18,284.56 L500.68,284.52 L501.18,284.48 L501.68,284.45 L502.18,284.41 L502.68,284.37 L503.18,284.34 L503.68,284.30 L504.18,284.27 L504.68,284.24 L505.18,284.20 L505.68,284.17 L506.18,284.14 L506.68,284.10 L507.18,284.07 L507.68,284.04 L508.18,284.01 L508.68,283.98 L509.19,283.95 L509.69,283.93 L510.19,283.90 L510.69,283.87 L511.19,283.84 L511.69,283.82 L512.19,283.79 L512.69,283.76 L513.19,283.74 L513.69,283.71 L514.19,283.69 L514.69,283.66 L515.19,283.64 L515.69,283.61 L516.19,283.59 L516.69,283.56 L517.19,283.54 L517.69,283.51 L518.19,283.49 L518.69,283.47 L519.19,283.44 L519.69,283.42 L520.19,283.40 L520.69,283.37 L521.19,283.35 L521.69,283.33 L522.19,283.30 L522.69,283.28 L523.19,283.26 L523.69,283.23 L524.19,283.21 L524.69,283.19 L525.19,283.16 L525.69,283.14 L526.19,283.11 L526.69,283.09 L527.19,283.07 L527.69,283.04 L528.19,283.02 L528.69,282.99 L529.19,282.97 L529.69,282.95 L530.19,282.92 L530.69,282.90 L531.19,282.87 L531.69,282.85 L532.19,282.83 L532.69,282.80 L533.19,282.78 L533.70,282.76 L534.20,282.73 L534.70,282.71 L535.20,282.69 L535.70,282.66 L536.20,282.64 L536.70,282.62 L537.20,282.59 L537.70,282.57 L538.20,282.55 L538.70,282.52 L539.20,282.50 L539.70,282.48 L540.20,282.45 L540.70,282.43 L541.20,282.41 L541.70,282.38 L542.20,282.36 L542.70,282.34 L543.20,282.31 L543.70,282.29 L544.20,282.27 L544.70,282.25 L545.20,282.22 L545.70,282.20 L547.20,282.13" stroke="#ff0000" stroke-width="2.05" stroke-dasharray="3.15 1.75"/>
<path d="M299.60,263.30 L300.10,263.28 L300.60,263.27 L301.10,263.25 L301.60,263.23 L302.10,263.21 L302.60,263.19 L303.10,263.17 L303.60,263.15 L304.10,263.13 L304.60,263.11 L305.10,263.08 L305.60,263.06 L306.11,263.04 L306.61,263.01 L307.11,262.99 L307.61,262.96 L308.11,262.94 L308.61,262.91 L309.11,262.88 L309.61,262.86 L310.11,262.83 L310.61,262.80 L311.11,262.78 L311.61,262.75 L312.11,262.72 L312.61,262.69 L313.11,262.66 L313.61,262.63 L314.11,262.60 L314.61,262.57 L315.11,262.54 L315.61,262.50 L316.11,262.47 L316.61,262.44 L317.11,262.40 L317.61,262.36 L318.12,262.33 L318.62,262.29 L319.12,262.25 L319.62,262.21 L320.12,262.17 L320.62,262.13 L321.12,262.09 L321.62,262.04 L322.12,262.00 L322.62,261.96 L323.12,261.92 L323.62,261.87 L324.12,261.83 L324.62,261.78 L325.12,261.74 L325.62,261.69 L326.12,261.65 L326.62,261.60 L327.12,261.56 L327.62,261.51 L328.12,261.46 L328.62,261.42 L329.12,261.37 L329.62,261.33 L330.12,261.28 L330.63,261.23 L331.13,261.19 L331.63,261.14 L332.13,261.10 L332.63,261.05 L333.13,261.01 L333.63,260.96 L334.13,260.91 L334.63,260.87 L335.13,260.82 L335.63,260.77 L336.13,260.73 L336.63,260.68 L337.13,260.63 L337.63,260.58 L338.13,260.53 L338.63,260.49 L339.13,260.44 L339.63,260.39 L340.13,260.34 L340.63,260.29 L341.13,260.24 L341.63,260.19 L342.13,260.14 L342.63,260.09 L343.14,260.04 L343.64,259.99 L344.14,259.94 L344.64,259.88 L345.14,259.83 L345.64,259.78 L346.14,259.73 L346.64,259.68 L347.14,259.62 L347.64,259.57 L348.14,259.52 L348.64,259.47 L349.14,259.41 L349.64,259.36 L350.14,259.31 L350.64,259.25 L351.14,259.20 L351.64,259.14 L352.14,259.09 L352.64,259.03 L353.14,258.98 L353.64,258.92 L354.14,258.87 L354.64,258.81 L355.15,258.75 L355.65,258.70 L356.15,258.64 L356.65,258.58 L357.15,258.52 L357.65,258.46 L358.15,258.41 L358.65,258.35 L359.15,258.29 L359.65,258.23 L360.15,258.17 L360.65,258.11 L361.15,258.05 L361.65,257.99 L362.15,257.93 L362.65,257.87 L363.15,257.81 L363.65,257.75 L364.15,257.69 L364.65,257.63 L365.15,257.57 L365.65,257.52 L366.15,257.46 L366.65,257.40 L367.15,257.34 L367.66,257.28 L368.16,257.22 L368.66,257.16 L369.16,257.10 L369.66,257.04 L370.16,256.98 L370.66,256.92 L371.16,256.85 L371.66,256.79 L372.16,256.73 L372.66,256.67 L373.16,256.61 L373.66,256.54 L374.16,256.48 L374.66,256.42 L375.16,256.36 L375.66,256.29 L376.16,256.23 L376.66,256.17 L377.16,256.11 L377.66,256.04 L378.16,255.98 L378.66,255.92 L379.16,255.86 L379.67,255.80 L380.17,255.73 L380.67,255.67 L381.17,255.61 L381.67,255.55 L382.17,255.49 L382.67,255.43 L383.17,255.37 L383.67,255.31 L384.17,255.25 L384.67,255.20 L385.17,255.14 L385.67,255.08 L386.17,255.03 L386.67,254.97 L387.17,254.92 L387.67,254.86 L388.17,254.81 L388.67,254.76 L389.17,254.71 L389.67,254.66 L390.17,254.61 L390.67,254.56 L391.17,254.51 L391.67,254.46 L392.18,254.41 L392.68,254.36 L393.18,254.31 L393.68,254.26 L394.18,254.22 L394.68,254.17 L395.18,254.12 L395.68,254.07 L396.18,254.02 L396.68,253.96 L397.18,253.91 L397.68,253.86 L398.18,253.81 L398.68,253.75 L399.18,253.69 L399.68,253.64 L400.18,253.58 L400.68,253.52 L401.18,253.46 L401.68,253.40 L402.18,253.33 L402.68,253.27 L403.18,253.21 L403.68,253.14 L404.18,253.07 L404.69,253.01 L405.19,252.94 L405.69,252.86 L406.19,252.79 L406.69,252.72 L407.19,252.64 L407.69,252.56 L408.19,252.48 L408.69,252.40 L409.19,252.32 L409.69,252.23 L410.19,252.14 L410.69,252.05 L411.19,251.96 L411.69,251.86 L412.19,251.76 L412.69,251.66 L413.19,251.57 L413.69,251.47 L414.19,251.36 L414.69,251.26 L415.19,251.15 L415.69,251.04 L416.19,250.92 L416.70,250.79 L417.20,250.66 L417.70,250.52 L418.20,250.37 L418.70,250.21 L419.20,250.04 L419.70,249.85 L420.20,249.65 L420.70,249.44 L421.20,249.22 L421.70,248.99 L422.20,248.75 L422.70,248.51 L423.20,248.26 L423.70,248.00 L424.20,247.73 L424.70,247.46 L425.20,247.19 L425.70,246.91 L426.20,246.63 L426.70,246.35 L427.20,246.06 L427.70,245.78 L428.20,245.49 L428.70,245.21 L429.21,244.93 L429.71,244.64 L430.21,244.34 L430.71,244.04 L431.21,243.74 L431.71,243.43 L432.21,243.11 L432.71,242.80 L433.21,242.47 L433.71,242.14 L434.21,241.81 L434.71,241.48 L435.21,241.14 L435.71,240.79 L436.21,240.45 L436.71,240.10 L437.21,239.75 L437.71,239.39 L438.21,239.04 L438.71,238.68 L439.21,238.32 L439.71,237.96 L440.21,237.60 L440.71,237.23 L441.22,236.86 L441.72,236.49 L442.22,236.11 L442.72,235.73 L443.22,235.35 L443.72,234.96 L444.22,234.57 L444.72,234.17 L445.22,233.78 L445.72,233.38 L446.22,232.97 L446.72,232.56 L447.22,232.15 L447.72,231.74 L448.22,231.32 L448.72,230.90 L449.22,230.48 L449.72,230.05 L450.22,229.63 L450.72,229.19 L451.22,228.76 L451.72,228.31 L452.22,227.87 L452.72,227.42 L453.22,226.96 L453.73,226.50 L454.23,226.03 L454.73,225.56 L455.23,225.09 L455.73,224.62 L456.23,224.14 L456.73,223.66 L457.23,223.18 L457.73,222.69 L458.23,222.20 L458.73,221.72 L459.23,221.23 L459.73,220.74 L460.23,220.25 L460.73,219.75 L461.23,219.26 L461.73,218.77 L462.23,218.27 L462.73,217.75 L463.23,217.23 L463.73,216.70 L464.23,216.17 L464.73,215.63 L465.23,215.10 L465.73,214.57 L466.24,214.06 L466.74,213.55 L467.24,213.05 L467.74,212.57 L468.24,212.11 L468.74,211.67 L469.24,211.23 L469.74,210.79 L470.24,210.35 L470.74,209.91 L471.24,209.49 L471.74,209.08 L472.24,208.70 L472.74,208.35 L473.24,208.04 L473.74,207.77 L474.24,207.54 L474.74,207.32 L475.24,207.11 L475.74,206.91 L476.24,206.71 L476.74,206.53 L477.24,206.37 L477.74,206.23 L478.25,206.12 L478.75,206.05 L479.25,206.01 L479.75,206.00 L480.25,206.04 L480.75,206.12 L481.25,206.22 L481.75,206.35 L482.25,206.51 L482.75,206.69 L483.25,206.88 L483.75,207.09 L484.25,207.32 L484.75,207.65 L485.25,208.08 L485.75,208.60 L486.25,209.20 L486.75,209.86 L487.25,210.58 L487.75,211.34 L488.25,212.14 L488.75,212.96 L489.25,213.89 L489.75,214.96 L490.25,216.14 L490.76,217.42 L491.26,218.79 L491.76,220.23 L492.26,221.72 L492.76,223.24 L493.26,224.79 L493.76,226.35 L494.26,227.91 L494.76,229.56 L495.26,231.29 L495.76,233.08 L496.26,234.94 L496.76,236.83 L497.26,238.76 L497.76,240.70 L498.26,242.64 L498.76,244.57 L499.26,246.48 L499.76,248.38 L500.26,250.31 L500.76,252.26 L501.26,254.22 L501.76,256.15 L502.26,258.04 L502.77,259.87 L503.27,261.65 L503.77,263.40 L504.27,265.13 L504.77,266.82 L505.27,268.48 L505.77,270.10 L506.27,271.68 L506.77,273.21 L507.27,274.73 L507.77,276.22 L508.27,277.69 L508.77,279.12 L509.27,280.52 L509.77,281.89 L510.27,283.21 L510.77,284.49 L511.27,285.72 L511.77,286.92 L512.27,288.11 L512.77,289.27 L513.27,290.39 L513.77,291.48 L514.27,292.52 L514.77,293.52 L515.28,294.45 L515.78,295.33 L516.28,296.17 L516.78,296.98 L517.28,297.75 L517.78,298.49 L518.28,299.17 L518.78,299.80 L519.28,300.37 L519.78,300.88 L520.28,301.37 L520.78,301.84 L521.28,302.28 L521.78,302.68 L522.28,303.03 L522.78,303.33 L523.28,303.56 L523.78,303.73 L524.28,303.90 L524.78,304.05 L525.28,304.21 L525.78,304.35 L526.28,304.48 L526.78,304.60 L527.28,304.72 L527.79,304.81 L528.29,304.90 L528.79,304.97 L529.29,305.03 L529.79,305.07 L530.29,305.09 L530.79,305.10 L531.29,305.10 L531.79,305.08 L532.29,305.07 L532.79,305.04 L533.29,305.02 L533.79,304.99 L534.29,304.95 L534.79,304.91 L535.29,304.87 L535.79,304.82 L536.29,304.77 L536.79,304.72 L537.29,304.67 L537.79,304.62 L538.29,304.57 L538.79,304.51 L539.29,304.43 L539.80,304.35 L540.30,304.27 L540.80,304.17 L541.30,304.07 L541.80,303.96 L542.30,303.84 L542.80,303.72 L543.30,303.60 L543.80,303.47 L544.30,303.33 L544.80,303.19 L545.30,303.05 L545.80,302.90 L547.30,302.47" stroke="#000" stroke-width="1.8"/>
<path d="M299.60,255.20 L300.10,255.18 L300.60,255.16 L301.10,255.14 L301.60,255.11 L302.11,255.09 L302.61,255.07 L303.11,255.05 L303.61,255.02 L304.11,255.00 L304.61,254.98 L305.11,254.95 L305.61,254.93 L306.12,254.91 L306.62,254.88 L307.12,254.86 L307.62,254.83 L308.12,254.81 L308.62,254.78 L309.12,254.76 L309.62,254.73 L310.13,254.71 L310.63,254.68 L311.13,254.66 L311.63,254.63 L312.13,254.60 L312.63,254.58 L313.13,254.55 L313.63,254.52 L314.13,254.50 L314.64,254.47 L315.14,254.44 L315.64,254.42 L316.14,254.39 L316.64,254.36 L317.14,254.33 L317.64,254.30 L318.14,254.27 L318.65,254.25 L319.15,254.22 L319.65,254.19 L320.15,254.16 L320.65,254.13 L321.15,254.10 L321.65,254.07 L322.15,254.04 L322.66,254.01 L323.16,253.97 L323.66,253.94 L324.16,253.91 L324.66,253.88 L325.16,253.85 L325.66,253.82 L326.16,253.79 L326.67,253.75 L327.17,253.72 L327.67,253.69 L328.17,253.66 L328.67,253.62 L329.17,253.59 L329.67,253.56 L330.17,253.53 L330.67,253.49 L331.18,253.46 L331.68,253.43 L332.18,253.39 L332.68,253.36 L333.18,253.33 L333.68,253.30 L334.18,253.26 L334.68,253.23 L335.19,253.20 L335.69,253.16 L336.19,253.13 L336.69,253.10 L337.19,253.06 L337.69,253.03 L338.19,252.99 L338.69,252.96 L339.20,252.93 L339.70,252.89 L340.20,252.86 L340.70,252.82 L341.20,252.79 L341.70,252.75 L342.20,252.71 L342.70,252.68 L343.20,252.64 L343.71,252.61 L344.21,252.57 L344.71,252.53 L345.21,252.49 L345.71,252.46 L346.21,252.42 L346.71,252.38 L347.21,252.34 L347.72,252.30 L348.22,252.26 L348.72,252.22 L349.22,252.18 L349.72,252.14 L350.22,252.10 L350.72,252.06 L351.22,252.01 L351.73,251.97 L352.23,251.92 L352.73,251.88 L353.23,251.83 L353.73,251.79 L354.23,251.74 L354.73,251.69 L355.23,251.64 L355.73,251.59 L356.24,251.54 L356.74,251.49 L357.24,251.44 L357.74,251.39 L358.24,251.34 L358.74,251.29 L359.24,251.24 L359.74,251.19 L360.25,251.13 L360.75,251.08 L361.25,251.03 L361.75,250.98 L362.25,250.92 L362.75,250.87 L363.25,250.82 L363.75,250.77 L364.26,250.71 L364.76,250.66 L365.26,250.61 L365.76,250.56 L366.26,250.51 L366.76,250.45 L367.26,250.40 L367.76,250.35 L368.27,250.30 L368.77,250.25 L369.27,250.20 L369.77,250.15 L370.27,250.11 L370.77,250.06 L371.27,250.01 L371.77,249.96 L372.27,249.91 L372.78,249.86 L373.28,249.81 L373.78,249.77 L374.28,249.72 L374.78,249.67 L375.28,249.62 L375.78,249.57 L376.28,249.52 L376.79,249.47 L377.29,249.43 L377.79,249.38 L378.29,249.33 L378.79,249.28 L379.29,249.23 L379.79,249.18 L380.29,249.13 L380.80,249.08 L381.30,249.03 L381.80,248.98 L382.30,248.93 L382.80,248.88 L383.30,248.83 L383.80,248.78 L384.30,248.72 L384.80,248.67 L385.31,248.62 L385.81,248.56 L386.31,248.51 L386.81,248.46 L387.31,248.40 L387.81,248.34 L388.31,248.29 L388.81,248.23 L389.32,248.17 L389.82,248.11 L390.32,248.05 L390.82,247.99 L391.32,247.93 L391.82,247.87 L392.32,247.81 L392.82,247.75 L393.33,247.69 L393.83,247.62 L394.33,247.56 L394.83,247.50 L395.33,247.44 L395.83,247.38 L396.33,247.32 L396.83,247.26 L397.33,247.20 L397.84,247.14 L398.34,247.09 L398.84,247.03 L399.34,246.97 L399.84,246.92 L400.34,246.86 L400.84,246.81 L401.34,246.76 L401.85,246.72 L402.35,246.67 L402.85,246.62 L403.35,246.58 L403.85,246.53 L404.35,246.48 L404.85,246.43 L405.35,246.38 L405.86,246.32 L406.36,246.26 L406.86,246.19 L407.36,246.12 L407.86,246.03 L408.36,245.94 L408.86,245.85 L409.36,245.75 L409.87,245.64 L410.37,245.54 L410.87,245.43 L411.37,245.33 L411.87,245.23 L412.37,245.13 L412.87,245.04 L413.37,244.95 L413.87,244.86 L414.38,244.78 L414.88,244.69 L415.38,244.60 L415.88,244.50 L416.38,244.40 L416.88,244.30 L417.38,244.18 L417.88,244.06 L418.39,243.92 L418.89,243.77 L419.39,243.60 L419.89,243.42 L420.39,243.22 L420.89,243.01 L421.39,242.79 L421.89,242.56 L422.40,242.31 L422.90,242.06 L423.40,241.80 L423.90,241.54 L424.40,241.27 L424.90,240.99 L425.40,240.71 L425.90,240.42 L426.40,240.13 L426.91,239.84 L427.41,239.56 L427.91,239.27 L428.41,238.98 L428.91,238.69 L429.41,238.41 L429.91,238.11 L430.41,237.82 L430.92,237.51 L431.42,237.20 L431.92,236.89 L432.42,236.57 L432.92,236.24 L433.42,235.92 L433.92,235.58 L434.42,235.25 L434.93,234.90 L435.43,234.56 L435.93,234.21 L436.43,233.86 L436.93,233.50 L437.43,233.14 L437.93,232.78 L438.43,232.41 L438.93,232.04 L439.44,231.67 L439.94,231.30 L440.44,230.92 L440.94,230.54 L441.44,230.17 L441.94,229.78 L442.44,229.40 L442.94,229.01 L443.45,228.61 L443.95,228.22 L444.45,227.81 L444.95,227.41 L445.45,226.99 L445.95,226.57 L446.45,226.14 L446.95,225.71 L447.46,225.27 L447.96,224.82 L448.46,224.36 L448.96,223.89 L449.46,223.42 L449.96,222.93 L450.46,222.44 L450.96,221.93 L451.47,221.39 L451.97,220.83 L452.47,220.25 L452.97,219.65 L453.47,219.04 L453.97,218.41 L454.47,217.78 L454.97,217.15 L455.47,216.51 L455.98,215.87 L456.48,215.23 L456.98,214.61 L457.48,213.99 L457.98,213.38 L458.48,212.79 L458.98,212.20 L459.48,211.61 L459.99,211.02 L460.49,210.43 L460.99,209.83 L461.49,209.23 L461.99,208.61 L462.49,207.98 L462.99,207.34 L463.49,206.69 L464.00,206.03 L464.50,205.36 L465.00,204.68 L465.50,203.99 L466.00,203.30 L467.50,201.23" stroke="#000" stroke-width="1.9" stroke-dasharray="4.7 1.9"/>
<path d="M299.60,255.20 L300.10,255.18 L300.60,255.16 L301.10,255.14 L301.60,255.11 L302.10,255.09 L302.60,255.07 L303.10,255.05 L303.60,255.02 L304.10,255.00 L304.60,254.98 L305.10,254.95 L305.60,254.93 L306.10,254.91 L306.60,254.88 L307.10,254.86 L307.60,254.83 L308.10,254.81 L308.60,254.78 L309.10,254.76 L309.60,254.73 L310.10,254.71 L310.60,254.68 L311.10,254.66 L311.60,254.63 L312.10,254.61 L312.60,254.58 L313.10,254.55 L313.60,254.53 L314.10,254.50 L314.60,254.47 L315.10,254.45 L315.60,254.42 L316.10,254.39 L316.60,254.36 L317.10,254.33 L317.60,254.30 L318.10,254.28 L318.60,254.25 L319.10,254.22 L319.60,254.19 L320.10,254.16 L320.60,254.13 L321.10,254.10 L321.60,254.07 L322.10,254.03 L322.60,254.00 L323.10,253.97 L323.60,253.94 L324.10,253.91 L324.60,253.88 L325.10,253.85 L325.60,253.81 L326.10,253.78 L326.60,253.75 L327.10,253.72 L327.60,253.69 L328.10,253.66 L328.60,253.62 L329.10,253.59 L329.60,253.56 L330.10,253.53 L330.60,253.50 L331.10,253.46 L331.60,253.43 L332.10,253.40 L332.60,253.37 L333.10,253.34 L333.60,253.31 L334.10,253.28 L334.60,253.25 L335.10,253.21 L335.60,253.18 L336.10,253.15 L336.60,253.12 L337.10,253.10 L337.60,253.07 L338.10,253.04 L338.60,253.01 L339.10,252.98 L339.60,252.95 L340.10,252.91 L340.60,252.88 L341.10,252.85 L341.60,252.82 L342.10,252.79 L342.60,252.76 L343.10,252.73 L343.60,252.69 L344.10,252.66 L344.60,252.63 L345.10,252.59 L345.60,252.56 L346.10,252.52 L346.60,252.49 L347.10,252.45 L347.60,252.41 L348.10,252.37 L348.60,252.33 L349.10,252.29 L349.60,252.25 L350.10,252.21 L350.60,252.17 L351.10,252.12 L351.60,252.08 L352.10,252.03 L352.60,251.98 L353.10,251.93 L353.60,251.88 L354.10,251.83 L354.60,251.78 L355.10,251.72 L355.60,251.67 L356.10,251.61 L356.60,251.56 L357.10,251.50 L357.60,251.44 L358.10,251.38 L358.60,251.32 L359.10,251.26 L359.60,251.20 L360.10,251.14 L360.60,251.07 L361.10,251.01 L361.60,250.94 L362.10,250.88 L362.60,250.81 L363.10,250.74 L363.60,250.67 L364.10,250.61 L364.60,250.54 L365.10,250.47 L365.60,250.39 L366.10,250.32 L366.60,250.25 L367.10,250.18 L367.60,250.10 L368.10,250.03 L368.60,249.95 L369.10,249.88 L369.60,249.80 L370.10,249.72 L370.60,249.64 L371.10,249.56 L371.60,249.48 L372.10,249.40 L372.60,249.31 L373.10,249.22 L373.60,249.14 L374.10,249.05 L374.60,248.96 L375.10,248.87 L375.60,248.78 L376.10,248.68 L376.60,248.59 L377.10,248.49 L377.60,248.40 L378.10,248.30 L378.60,248.20 L379.10,248.10 L379.60,248.00 L380.10,247.89 L380.60,247.79 L381.10,247.68 L381.60,247.58 L382.10,247.47 L382.60,247.36 L383.10,247.25 L383.60,247.14 L384.10,247.03 L384.60,246.92 L385.10,246.80 L385.60,246.69 L386.10,246.57 L386.60,246.45 L387.10,246.33 L387.60,246.21 L388.10,246.09 L388.60,245.96 L389.10,245.83 L389.60,245.70 L390.10,245.57 L390.60,245.43 L391.10,245.29 L391.60,245.15 L392.10,245.01 L392.60,244.86 L393.10,244.71 L393.60,244.56 L394.10,244.41 L394.60,244.25 L395.10,244.09 L395.60,243.93 L396.10,243.77 L396.60,243.60 L397.10,243.43 L397.60,243.26 L398.10,243.09 L398.60,242.91 L399.10,242.72 L399.60,242.53 L400.10,242.34 L400.60,242.14 L401.10,241.94 L401.60,241.73 L402.10,241.53 L402.60,241.31 L403.10,241.10 L403.60,240.88 L404.10,240.66 L404.60,240.43 L405.10,240.20 L405.60,239.97 L406.10,239.73 L406.60,239.50 L407.10,239.25 L407.60,239.01 L408.10,238.75 L408.60,238.49 L409.10,238.23 L409.60,237.96 L410.10,237.68 L410.60,237.40 L411.10,237.12 L411.60,236.83 L412.10,236.54 L412.60,236.25 L413.10,235.95 L413.60,235.65 L414.10,235.35 L414.60,235.05 L415.10,234.74 L415.60,234.44 L416.10,234.13 L416.60,233.82 L417.10,233.51 L417.60,233.21 L418.10,232.90 L418.60,232.59 L419.10,232.27 L419.60,231.95 L420.10,231.63 L420.60,231.30 L421.10,230.97 L421.60,230.64 L422.10,230.30 L422.60,229.96 L423.10,229.62 L423.60,229.28 L424.10,228.94 L424.60,228.61 L425.10,228.27 L425.60,227.93 L426.10,227.60 L426.60,227.27 L427.10,226.94 L427.60,226.62 L428.10,226.30 L428.60,225.99 L429.10,225.68 L429.60,225.37 L430.10,225.07 L430.60,224.77 L431.10,224.47 L431.60,224.17 L432.10,223.87 L432.60,223.58 L433.10,223.28 L433.60,222.99 L434.10,222.70 L434.60,222.41 L435.10,222.13 L435.60,221.84 L436.10,221.56 L436.60,221.28 L437.10,221.00 L437.60,220.72 L438.10,220.44 L438.60,220.16 L439.10,219.88 L439.60,219.61 L440.10,219.33 L440.60,219.06 L441.10,218.77 L441.60,218.49 L442.10,218.20 L442.60,217.91 L443.10,217.63 L443.60,217.34 L444.10,217.06 L444.60,216.79 L445.10,216.51 L445.60,216.25 L446.10,215.99 L446.60,215.75 L447.10,215.51 L447.60,215.29 L448.10,215.07 L448.60,214.88 L449.10,214.69 L449.60,214.50 L450.10,214.31 L450.60,214.13 L451.10,213.95 L451.60,213.77 L452.10,213.60 L452.60,213.44 L453.10,213.28 L453.60,213.15 L454.10,213.02 L454.60,212.91 L455.10,212.82 L455.60,212.74 L456.10,212.69 L456.60,212.65 L457.10,212.60 L457.60,212.56 L458.10,212.52 L458.60,212.48 L459.10,212.45 L459.60,212.42 L460.10,212.39 L460.60,212.37 L461.10,212.34 L461.60,212.33 L462.10,212.31 L462.60,212.30 L463.10,212.30 L463.60,212.31 L464.10,212.34 L464.60,212.40 L465.10,212.49 L465.60,212.60 L466.10,212.74 L466.60,212.89 L467.10,213.06 L467.60,213.24 L468.10,213.44 L468.60,213.65 L469.10,213.87 L469.60,214.09 L470.10,214.32 L470.60,214.55 L471.10,214.80 L471.60,215.10 L472.10,215.43 L472.60,215.80 L473.10,216.20 L473.60,216.63 L474.10,217.10 L474.60,217.59 L475.10,218.11 L475.60,218.66 L476.10,219.24 L476.60,219.89 L477.10,220.63 L477.60,221.45 L478.10,222.33 L478.60,223.26 L479.10,224.25 L479.60,225.27 L480.10,226.32 L480.60,227.39 L481.10,228.47 L481.60,229.56 L482.10,230.71 L482.60,231.91 L483.10,233.15 L483.60,234.45 L484.10,235.78 L484.60,237.14 L485.10,238.53 L485.60,239.95 L486.10,241.38 L486.60,242.82 L487.10,244.28 L487.60,245.81 L488.10,247.39 L488.60,249.00 L489.10,250.65 L489.60,252.30 L490.10,253.95 L490.60,255.58 L491.10,257.17 L491.60,258.72 L492.10,260.20 L492.60,261.66 L493.10,263.14 L493.60,264.69 L494.10,266.34 L494.60,268.11 L495.10,269.98 L495.60,271.93 L496.10,273.92 L496.60,275.92 L497.10,277.93 L497.60,279.90 L498.10,281.86 L498.60,283.83 L499.10,285.81 L499.60,287.79 L500.10,289.78 L500.60,291.76 L501.10,293.73 L501.60,295.68 L502.10,297.62 L502.60,299.54 L503.10,301.48 L503.60,303.42 L504.10,305.34 L504.60,307.22 L505.10,309.06 L505.60,310.82 L506.10,312.51 L506.60,314.20 L507.10,315.86 L507.60,317.49 L508.10,319.07 L508.60,320.58 L509.10,322.00 L509.60,323.32 L510.10,324.53 L510.60,325.66 L511.10,326.74 L511.60,327.77 L512.10,328.75 L512.60,329.68 L513.10,330.58 L513.60,331.44 L514.10,332.26 L514.60,333.04 L515.10,333.80 L515.60,334.54 L516.10,335.27 L516.60,335.98 L517.10,336.66 L517.60,337.32 L518.10,337.95 L518.60,338.55 L519.10,339.12 L519.60,339.65 L520.10,340.14 L520.60,340.59 L521.10,341.02 L521.60,341.44 L522.10,341.86 L522.60,342.27 L523.10,342.67 L523.60,343.05 L524.10,343.40 L524.60,343.74 L525.10,344.05 L525.60,344.33 L526.10,344.58 L526.60,344.79 L527.10,344.97 L527.60,345.10 L528.10,345.21 L528.60,345.32 L529.10,345.42 L529.60,345.51 L530.10,345.61 L530.60,345.69 L531.10,345.77 L531.60,345.84 L532.10,345.91 L532.60,345.96 L533.10,346.01 L533.60,346.05 L534.10,346.08 L534.60,346.09 L535.10,346.10 L535.60,346.09 L536.10,346.04 L536.60,345.98 L537.10,345.89 L537.60,345.79 L538.10,345.67 L538.60,345.54 L539.10,345.41 L539.60,345.27 L540.10,345.13 L540.60,345.00 L541.10,344.87 L541.60,344.75 L542.10,344.63 L542.60,344.51 L543.10,344.38 L543.60,344.25 L544.10,344.12 L544.60,343.98 L545.10,343.84 L545.60,343.70 L547.10,343.28" stroke="#00a800" stroke-width="2.15" stroke-dasharray="8.6 3.7"/>
</g>
<path d="M511.0,202.7V354.9" stroke="#000" stroke-width="1.85" stroke-dasharray="5 1.6" fill="none"/>
<rect x="299.5" y="203.5" width="246.00" height="150.90" fill="none" stroke="#8c8c8c" stroke-width="0.8"/>
<path d="M299.50,354.4v-3.4M307.70,354.4v-2.0M315.90,354.4v-2.0M324.10,354.4v-2.0M332.30,354.4v-2.0M340.50,354.4v-3.4M348.70,354.4v-2.0M356.90,354.4v-2.0M365.10,354.4v-2.0M373.30,354.4v-2.0M381.50,354.4v-3.4M389.70,354.4v-2.0M397.90,354.4v-2.0M406.10,354.4v-2.0M414.30,354.4v-2.0M422.50,354.4v-3.4M430.70,354.4v-2.0M438.90,354.4v-2.0M447.10,354.4v-2.0M455.30,354.4v-2.0M463.50,354.4v-3.4M471.70,354.4v-2.0M479.90,354.4v-2.0M488.10,354.4v-2.0M496.30,354.4v-2.0M504.50,354.4v-3.4M512.70,354.4v-2.0M520.90,354.4v-2.0M529.10,354.4v-2.0M537.30,354.4v-2.0M545.50,354.4v-3.4M299.5,354.40h3.4M299.5,346.85h2.0M299.5,339.31h2.0M299.5,331.76h2.0M299.5,324.22h2.0M299.5,316.67h3.4M299.5,309.13h2.0M299.5,301.58h2.0M299.5,294.04h2.0M299.5,286.50h2.0M299.5,278.95h3.4M299.5,271.40h2.0M299.5,263.86h2.0M299.5,256.31h2.0M299.5,248.77h2.0M299.5,241.22h3.4M299.5,233.68h2.0M299.5,226.13h2.0M299.5,218.59h2.0M299.5,211.04h2.0M299.5,203.50h3.4" stroke="#8c8c8c" stroke-width="0.8" fill="none"/>
<g font-family="'Liberation Serif', serif" font-size="12.4" fill="#000" text-rendering="geometricPrecision" letter-spacing="0.4">
<text x="299.70" y="367.70" text-anchor="middle">0</text>
<text x="340.70" y="367.70" text-anchor="middle">50</text>
<text x="381.70" y="367.70" text-anchor="middle">100</text>
<text x="422.70" y="367.70" text-anchor="middle">150</text>
<text x="463.70" y="367.70" text-anchor="middle">200</text>
<text x="504.70" y="367.70" text-anchor="middle">250</text>
<text x="545.70" y="367.70" text-anchor="middle">300</text>
<text x="296.90" y="358.60" text-anchor="end">10</text>
<text x="296.90" y="320.87" text-anchor="end">5</text>
<text x="296.90" y="283.15" text-anchor="end">0</text>
<text x="296.90" y="245.42" text-anchor="end">5</text>
<text x="296.90" y="207.70" text-anchor="end">10</text>
<path d="M275.05,355.15h6.9M281.65,317.42h6.9" stroke="#111" stroke-width="0.8" fill="none"/>
</g>
<text x="399.90" y="197.90" font-family="'Liberation Serif', serif" font-style="italic" font-size="11.5" fill="#000">ω<tspan font-size="8" dy="2.4" font-style="italic">π</tspan></text>
<text x="504.40" y="199.00" font-family="'Liberation Serif', serif" font-style="italic" font-size="11.5" fill="#000">ω<tspan font-size="8" dy="2.4" font-style="normal">Δ</tspan></text>
<text x="315.2" y="229.1" textLength="59.5" lengthAdjust="spacingAndGlyphs" font-family="'Liberation Serif', serif" font-size="10.7" fill="#000"><tspan font-style="italic">γ</tspan>M1M1(<tspan font-style="italic">ω</tspan>)</text>
<clipPath id="c5"><rect x="561.4" y="203.5" width="246.40" height="150.90"/></clipPath>
<path d="M668.50,203.5V354.4M772.50,203.5V354.4" stroke="#cacaca" stroke-width="0.65" fill="none"/>
<path d="M561.4,266.10H806.6" stroke="#929292" stroke-width="0.65" fill="none"/>
<g clip-path="url(#c5)" fill="none" stroke-linejoin="round">
<path d="M561.40,252.10 L561.90,252.10 L562.40,252.09 L562.90,252.09 L563.40,252.09 L563.90,252.08 L564.40,252.08 L564.91,252.07 L565.41,252.07 L565.91,252.06 L566.41,252.05 L566.91,252.04 L567.41,252.04 L567.91,252.03 L568.41,252.02 L568.91,252.01 L569.41,252.00 L569.91,251.99 L570.41,251.98 L570.92,251.97 L571.42,251.96 L571.92,251.95 L572.42,251.94 L572.92,251.93 L573.42,251.92 L573.92,251.90 L574.42,251.89 L574.92,251.88 L575.42,251.87 L575.92,251.85 L576.42,251.83 L576.93,251.82 L577.43,251.80 L577.93,251.78 L578.43,251.76 L578.93,251.74 L579.43,251.72 L579.93,251.70 L580.43,251.67 L580.93,251.65 L581.43,251.62 L581.93,251.60 L582.43,251.58 L582.94,251.55 L583.44,251.53 L583.94,251.50 L584.44,251.47 L584.94,251.45 L585.44,251.42 L585.94,251.40 L586.44,251.37 L586.94,251.34 L587.44,251.32 L587.94,251.29 L588.44,251.27 L588.94,251.24 L589.45,251.22 L589.95,251.20 L590.45,251.17 L590.95,251.15 L591.45,251.13 L591.95,251.11 L592.45,251.09 L592.95,251.07 L593.45,251.05 L593.95,251.03 L594.45,251.01 L594.95,250.99 L595.46,250.97 L595.96,250.95 L596.46,250.93 L596.96,250.91 L597.46,250.90 L597.96,250.88 L598.46,250.86 L598.96,250.84 L599.46,250.83 L599.96,250.81 L600.46,250.79 L600.96,250.77 L601.47,250.76 L601.97,250.74 L602.47,250.72 L602.97,250.70 L603.47,250.68 L603.97,250.66 L604.47,250.65 L604.97,250.63 L605.47,250.61 L605.97,250.59 L606.47,250.57 L606.97,250.55 L607.48,250.52 L607.98,250.50 L608.48,250.48 L608.98,250.46 L609.48,250.43 L609.98,250.41 L610.48,250.39 L610.98,250.36 L611.48,250.34 L611.98,250.31 L612.48,250.28 L612.98,250.26 L613.48,250.23 L613.99,250.20 L614.49,250.17 L614.99,250.14 L615.49,250.11 L615.99,250.08 L616.49,250.05 L616.99,250.02 L617.49,249.99 L617.99,249.95 L618.49,249.92 L618.99,249.89 L619.49,249.85 L620.00,249.82 L620.50,249.78 L621.00,249.75 L621.50,249.71 L622.00,249.68 L622.50,249.64 L623.00,249.61 L623.50,249.57 L624.00,249.53 L624.50,249.49 L625.00,249.46 L625.50,249.42 L626.01,249.38 L626.51,249.34 L627.01,249.30 L627.51,249.26 L628.01,249.22 L628.51,249.18 L629.01,249.14 L629.51,249.10 L630.01,249.06 L630.51,249.02 L631.01,248.98 L631.51,248.94 L632.02,248.89 L632.52,248.85 L633.02,248.80 L633.52,248.76 L634.02,248.72 L634.52,248.67 L635.02,248.62 L635.52,248.58 L636.02,248.53 L636.52,248.48 L637.02,248.43 L637.52,248.38 L638.02,248.33 L638.53,248.28 L639.03,248.23 L639.53,248.18 L640.03,248.13 L640.53,248.08 L641.03,248.02 L641.53,247.97 L642.03,247.91 L642.53,247.86 L643.03,247.80 L643.53,247.74 L644.03,247.68 L644.54,247.63 L645.04,247.57 L645.54,247.51 L646.04,247.44 L646.54,247.38 L647.04,247.32 L647.54,247.25 L648.04,247.19 L648.54,247.12 L649.04,247.05 L649.54,246.98 L650.04,246.91 L650.55,246.84 L651.05,246.76 L651.55,246.69 L652.05,246.61 L652.55,246.53 L653.05,246.45 L653.55,246.36 L654.05,246.28 L654.55,246.19 L655.05,246.10 L655.55,246.01 L656.05,245.92 L656.56,245.82 L657.06,245.73 L657.56,245.63 L658.06,245.53 L658.56,245.43 L659.06,245.32 L659.56,245.21 L660.06,245.10 L660.56,244.98 L661.06,244.86 L661.56,244.74 L662.06,244.60 L662.56,244.47 L663.07,244.32 L663.57,244.17 L664.07,244.01 L664.57,243.84 L665.07,243.65 L665.57,243.42 L666.07,243.18 L666.57,242.92 L667.07,242.66 L667.57,242.40 L668.07,242.15 L668.57,241.91 L669.08,241.68 L669.58,241.43 L670.08,241.18 L670.58,240.93 L671.08,240.68 L671.58,240.45 L672.08,240.24 L672.58,240.05 L673.08,239.90 L673.58,239.78 L674.08,239.68 L674.58,239.59 L675.09,239.50 L675.59,239.41 L676.09,239.32 L676.59,239.24 L677.09,239.17 L677.59,239.11 L678.09,239.05 L678.59,239.00 L679.09,238.96 L679.59,238.93 L680.09,238.91 L680.59,238.90 L681.10,238.91 L681.60,238.93 L682.10,238.97 L682.60,239.03 L683.10,239.10 L683.60,239.19 L684.10,239.28 L684.60,239.39 L685.10,239.50 L685.60,239.62 L686.10,239.75 L686.60,239.88 L687.10,240.01 L687.61,240.14 L688.11,240.27 L688.61,240.40 L689.11,240.53 L689.61,240.66 L690.11,240.80 L690.61,240.95 L691.11,241.11 L691.61,241.27 L692.11,241.44 L692.61,241.62 L693.11,241.80 L693.62,241.99 L694.12,242.18 L694.62,242.37 L695.12,242.56 L695.62,242.75 L696.12,242.95 L696.62,243.14 L697.12,243.33 L697.62,243.52 L698.12,243.71 L698.62,243.90 L699.12,244.09 L699.63,244.28 L700.13,244.47 L700.63,244.67 L701.13,244.87 L701.63,245.07 L702.13,245.27 L702.63,245.47 L703.13,245.67 L703.63,245.87 L704.13,246.06 L704.63,246.26 L705.13,246.46 L705.64,246.65 L706.14,246.84 L706.64,247.03 L707.14,247.21 L707.64,247.40 L708.14,247.58 L708.64,247.76 L709.14,247.94 L709.64,248.12 L710.14,248.30 L710.64,248.48 L711.14,248.66 L711.64,248.83 L712.15,249.01 L712.65,249.18 L713.15,249.35 L713.65,249.52 L714.15,249.68 L714.65,249.84 L715.15,250.00 L715.65,250.16 L716.15,250.32 L716.65,250.47 L717.15,250.62 L717.65,250.77 L718.16,250.92 L718.66,251.06 L719.16,251.21 L719.66,251.35 L720.16,251.50 L720.66,251.64 L721.16,251.78 L721.66,251.92 L722.16,252.06 L722.66,252.19 L723.16,252.33 L723.66,252.46 L724.17,252.60 L724.67,252.73 L725.17,252.86 L725.67,252.99 L726.17,253.12 L726.67,253.25 L727.17,253.38 L727.67,253.51 L728.17,253.63 L728.67,253.76 L729.17,253.88 L729.67,254.01 L730.18,254.13 L730.68,254.25 L731.18,254.37 L731.68,254.49 L732.18,254.61 L732.68,254.73 L733.18,254.85 L733.68,254.96 L734.18,255.08 L734.68,255.19 L735.18,255.31 L735.68,255.42 L736.18,255.53 L736.69,255.64 L737.19,255.75 L737.69,255.86 L738.19,255.97 L738.69,256.08 L739.19,256.19 L739.69,256.29 L740.19,256.40 L740.69,256.51 L741.19,256.61 L741.69,256.72 L742.19,256.82 L742.70,256.93 L743.20,257.03 L743.70,257.13 L744.20,257.23 L744.70,257.34 L745.20,257.44 L745.70,257.54 L746.20,257.64 L746.70,257.74 L747.20,257.84 L747.70,257.94 L748.20,258.04 L748.71,258.14 L749.21,258.24 L749.71,258.35 L750.21,258.45 L750.71,258.55 L751.21,258.65 L751.71,258.75 L752.21,258.85 L752.71,258.95 L753.21,259.05 L753.71,259.15 L754.21,259.25 L754.72,259.35 L755.22,259.44 L755.72,259.54 L756.22,259.63 L756.72,259.73 L757.22,259.82 L757.72,259.91 L758.22,260.00 L758.72,260.09 L759.22,260.17 L759.72,260.26 L760.22,260.34 L760.72,260.42 L761.23,260.50 L761.73,260.57 L762.23,260.65 L762.73,260.72 L763.23,260.79 L763.73,260.86 L764.23,260.93 L764.73,260.99 L765.23,261.06 L765.73,261.12 L766.23,261.19 L766.73,261.25 L767.24,261.31 L767.74,261.37 L768.24,261.43 L768.74,261.49 L769.24,261.55 L769.74,261.61 L770.24,261.67 L770.74,261.72 L771.24,261.78 L771.74,261.83 L772.24,261.89 L772.74,261.94 L773.25,261.99 L773.75,262.05 L774.25,262.10 L774.75,262.15 L775.25,262.20 L775.75,262.25 L776.25,262.30 L776.75,262.35 L777.25,262.40 L777.75,262.45 L778.25,262.50 L778.75,262.54 L779.26,262.59 L779.76,262.64 L780.26,262.68 L780.76,262.73 L781.26,262.77 L781.76,262.81 L782.26,262.86 L782.76,262.90 L783.26,262.94 L783.76,262.98 L784.26,263.02 L784.76,263.06 L785.26,263.10 L785.77,263.14 L786.27,263.18 L786.77,263.22 L787.27,263.26 L787.77,263.30 L788.27,263.34 L788.77,263.38 L789.27,263.42 L789.77,263.46 L790.27,263.50 L790.77,263.54 L791.27,263.58 L791.78,263.62 L792.28,263.66 L792.78,263.70 L793.28,263.74 L793.78,263.78 L794.28,263.82 L794.78,263.87 L795.28,263.91 L795.78,263.95 L796.28,263.99 L796.78,264.04 L797.28,264.08 L797.79,264.12 L798.29,264.16 L798.79,264.21 L799.29,264.25 L799.79,264.29 L800.29,264.34 L800.79,264.38 L801.29,264.42 L801.79,264.47 L802.29,264.51 L802.79,264.55 L803.29,264.60 L803.80,264.64 L804.30,264.68 L804.80,264.73 L805.30,264.77 L805.80,264.81 L806.30,264.86 L806.80,264.90 L808.30,265.03" stroke="#ff0000" stroke-width="2.05" stroke-dasharray="3.15 1.75"/>
<path d="M561.40,250.10 L561.90,250.08 L562.40,250.07 L562.90,250.05 L563.40,250.03 L563.90,250.02 L564.40,250.00 L564.91,249.99 L565.41,249.97 L565.91,249.95 L566.41,249.94 L566.91,249.92 L567.41,249.91 L567.91,249.89 L568.41,249.87 L568.91,249.86 L569.41,249.84 L569.91,249.83 L570.41,249.81 L570.92,249.80 L571.42,249.78 L571.92,249.77 L572.42,249.75 L572.92,249.74 L573.42,249.72 L573.92,249.71 L574.42,249.69 L574.92,249.68 L575.42,249.66 L575.92,249.65 L576.42,249.63 L576.93,249.62 L577.43,249.61 L577.93,249.59 L578.43,249.58 L578.93,249.57 L579.43,249.56 L579.93,249.54 L580.43,249.53 L580.93,249.52 L581.43,249.51 L581.93,249.49 L582.43,249.48 L582.94,249.47 L583.44,249.45 L583.94,249.44 L584.44,249.43 L584.94,249.42 L585.44,249.40 L585.94,249.39 L586.44,249.38 L586.94,249.36 L587.44,249.35 L587.94,249.33 L588.44,249.32 L588.94,249.30 L589.45,249.29 L589.95,249.27 L590.45,249.26 L590.95,249.24 L591.45,249.22 L591.95,249.21 L592.45,249.19 L592.95,249.17 L593.45,249.15 L593.95,249.13 L594.45,249.11 L594.95,249.09 L595.46,249.07 L595.96,249.05 L596.46,249.03 L596.96,249.00 L597.46,248.98 L597.96,248.96 L598.46,248.93 L598.96,248.91 L599.46,248.89 L599.96,248.86 L600.46,248.84 L600.96,248.81 L601.47,248.79 L601.97,248.76 L602.47,248.73 L602.97,248.71 L603.47,248.68 L603.97,248.65 L604.47,248.63 L604.97,248.60 L605.47,248.57 L605.97,248.54 L606.47,248.52 L606.97,248.49 L607.48,248.46 L607.98,248.43 L608.48,248.40 L608.98,248.37 L609.48,248.34 L609.98,248.31 L610.48,248.28 L610.98,248.25 L611.48,248.22 L611.98,248.19 L612.48,248.16 L612.98,248.13 L613.48,248.10 L613.99,248.07 L614.49,248.04 L614.99,248.01 L615.49,247.97 L615.99,247.94 L616.49,247.91 L616.99,247.88 L617.49,247.84 L617.99,247.81 L618.49,247.77 L618.99,247.74 L619.49,247.70 L620.00,247.67 L620.50,247.63 L621.00,247.60 L621.50,247.56 L622.00,247.52 L622.50,247.48 L623.00,247.44 L623.50,247.40 L624.00,247.37 L624.50,247.32 L625.00,247.28 L625.50,247.24 L626.01,247.20 L626.51,247.16 L627.01,247.11 L627.51,247.07 L628.01,247.03 L628.51,246.98 L629.01,246.93 L629.51,246.89 L630.01,246.84 L630.51,246.79 L631.01,246.74 L631.51,246.69 L632.02,246.63 L632.52,246.58 L633.02,246.53 L633.52,246.47 L634.02,246.41 L634.52,246.36 L635.02,246.30 L635.52,246.24 L636.02,246.18 L636.52,246.12 L637.02,246.06 L637.52,246.00 L638.02,245.93 L638.53,245.87 L639.03,245.81 L639.53,245.74 L640.03,245.68 L640.53,245.61 L641.03,245.54 L641.53,245.48 L642.03,245.41 L642.53,245.34 L643.03,245.27 L643.53,245.20 L644.03,245.13 L644.54,245.06 L645.04,244.99 L645.54,244.92 L646.04,244.85 L646.54,244.78 L647.04,244.71 L647.54,244.64 L648.04,244.57 L648.54,244.50 L649.04,244.42 L649.54,244.35 L650.04,244.28 L650.55,244.20 L651.05,244.13 L651.55,244.05 L652.05,243.97 L652.55,243.89 L653.05,243.81 L653.55,243.72 L654.05,243.63 L654.55,243.54 L655.05,243.44 L655.55,243.35 L656.05,243.25 L656.56,243.14 L657.06,243.03 L657.56,242.92 L658.06,242.80 L658.56,242.68 L659.06,242.55 L659.56,242.41 L660.06,242.27 L660.56,242.12 L661.06,241.96 L661.56,241.80 L662.06,241.62 L662.56,241.44 L663.07,241.25 L663.57,241.05 L664.07,240.84 L664.57,240.62 L665.07,240.36 L665.57,240.06 L666.07,239.73 L666.57,239.39 L667.07,239.03 L667.57,238.68 L668.07,238.34 L668.57,238.02 L669.08,237.70 L669.58,237.37 L670.08,237.04 L670.58,236.70 L671.08,236.37 L671.58,236.07 L672.08,235.78 L672.58,235.54 L673.08,235.33 L673.58,235.18 L674.08,235.05 L674.58,234.92 L675.09,234.79 L675.59,234.67 L676.09,234.56 L676.59,234.46 L677.09,234.36 L677.59,234.27 L678.09,234.20 L678.59,234.13 L679.09,234.08 L679.59,234.04 L680.09,234.01 L680.59,234.00 L681.10,234.00 L681.60,234.02 L682.10,234.06 L682.60,234.10 L683.10,234.16 L683.60,234.22 L684.10,234.30 L684.60,234.38 L685.10,234.47 L685.60,234.56 L686.10,234.65 L686.60,234.75 L687.10,234.85 L687.61,234.95 L688.11,235.04 L688.61,235.13 L689.11,235.22 L689.61,235.31 L690.11,235.40 L690.61,235.50 L691.11,235.59 L691.61,235.70 L692.11,235.80 L692.61,235.91 L693.11,236.02 L693.62,236.13 L694.12,236.24 L694.62,236.35 L695.12,236.46 L695.62,236.57 L696.12,236.68 L696.62,236.79 L697.12,236.90 L697.62,237.00 L698.12,237.10 L698.62,237.21 L699.12,237.31 L699.63,237.41 L700.13,237.52 L700.63,237.62 L701.13,237.73 L701.63,237.83 L702.13,237.94 L702.63,238.04 L703.13,238.14 L703.63,238.24 L704.13,238.34 L704.63,238.44 L705.13,238.54 L705.64,238.63 L706.14,238.73 L706.64,238.82 L707.14,238.91 L707.64,238.99 L708.14,239.08 L708.64,239.17 L709.14,239.25 L709.64,239.34 L710.14,239.42 L710.64,239.51 L711.14,239.59 L711.64,239.67 L712.15,239.75 L712.65,239.82 L713.15,239.90 L713.65,239.97 L714.15,240.04 L714.65,240.11 L715.15,240.18 L715.65,240.24 L716.15,240.31 L716.65,240.37 L717.15,240.43 L717.65,240.49 L718.16,240.54 L718.66,240.60 L719.16,240.66 L719.66,240.71 L720.16,240.77 L720.66,240.82 L721.16,240.87 L721.66,240.92 L722.16,240.97 L722.66,241.01 L723.16,241.05 L723.66,241.09 L724.17,241.13 L724.67,241.17 L725.17,241.20 L725.67,241.23 L726.17,241.26 L726.67,241.28 L727.17,241.30 L727.67,241.33 L728.17,241.35 L728.67,241.37 L729.17,241.39 L729.67,241.41 L730.18,241.43 L730.68,241.44 L731.18,241.46 L731.68,241.48 L732.18,241.50 L732.68,241.53 L733.18,241.55 L733.68,241.57 L734.18,241.60 L734.68,241.63 L735.18,241.65 L735.68,241.68 L736.18,241.71 L736.69,241.73 L737.19,241.76 L737.69,241.79 L738.19,241.82 L738.69,241.86 L739.19,241.89 L739.69,241.93 L740.19,241.98 L740.69,242.03 L741.19,242.08 L741.69,242.14 L742.19,242.21 L742.70,242.30 L743.20,242.41 L743.70,242.53 L744.20,242.66 L744.70,242.81 L745.20,242.96 L745.70,243.13 L746.20,243.30 L746.70,243.48 L747.20,243.67 L747.70,243.86 L748.20,244.07 L748.71,244.30 L749.21,244.56 L749.71,244.84 L750.21,245.14 L750.71,245.46 L751.21,245.80 L751.71,246.15 L752.21,246.50 L752.71,246.87 L753.21,247.24 L753.71,247.61 L754.21,247.99 L754.72,248.37 L755.22,248.78 L755.72,249.21 L756.22,249.65 L756.72,250.11 L757.22,250.58 L757.72,251.05 L758.22,251.53 L758.72,252.01 L759.22,252.48 L759.72,252.96 L760.22,253.43 L760.72,253.89 L761.23,254.33 L761.73,254.78 L762.23,255.22 L762.73,255.67 L763.23,256.12 L763.73,256.57 L764.23,257.02 L764.73,257.46 L765.23,257.91 L765.73,258.35 L766.23,258.79 L766.73,259.23 L767.24,259.65 L767.74,260.07 L768.24,260.48 L768.74,260.88 L769.24,261.27 L769.74,261.65 L770.24,262.02 L770.74,262.37 L771.24,262.72 L771.74,263.06 L772.24,263.40 L772.74,263.74 L773.25,264.07 L773.75,264.39 L774.25,264.71 L774.75,265.02 L775.25,265.32 L775.75,265.61 L776.25,265.89 L776.75,266.15 L777.25,266.41 L777.75,266.65 L778.25,266.88 L778.75,267.10 L779.26,267.31 L779.76,267.52 L780.26,267.73 L780.76,267.93 L781.26,268.12 L781.76,268.31 L782.26,268.49 L782.76,268.67 L783.26,268.83 L783.76,268.99 L784.26,269.14 L784.76,269.28 L785.26,269.41 L785.77,269.53 L786.27,269.63 L786.77,269.74 L787.27,269.83 L787.77,269.92 L788.27,270.01 L788.77,270.09 L789.27,270.17 L789.77,270.24 L790.27,270.31 L790.77,270.38 L791.27,270.45 L791.78,270.52 L792.28,270.58 L792.78,270.64 L793.28,270.71 L793.78,270.77 L794.28,270.84 L794.78,270.90 L795.28,270.96 L795.78,271.03 L796.28,271.09 L796.78,271.15 L797.28,271.21 L797.79,271.27 L798.29,271.33 L798.79,271.39 L799.29,271.45 L799.79,271.50 L800.29,271.56 L800.79,271.62 L801.29,271.67 L801.79,271.72 L802.29,271.78 L802.79,271.83 L803.29,271.88 L803.80,271.93 L804.30,271.98 L804.80,272.02 L805.30,272.07 L805.80,272.11 L806.30,272.16 L806.80,272.20 L808.30,272.33" stroke="#000" stroke-width="1.8"/>
<path d="M561.40,254.20 L561.90,254.19 L562.40,254.19 L562.90,254.18 L563.40,254.18 L563.90,254.17 L564.40,254.16 L564.91,254.16 L565.41,254.15 L565.91,254.14 L566.41,254.14 L566.91,254.13 L567.41,254.12 L567.91,254.11 L568.41,254.10 L568.91,254.10 L569.41,254.09 L569.91,254.08 L570.41,254.07 L570.92,254.06 L571.42,254.05 L571.92,254.04 L572.42,254.03 L572.92,254.02 L573.42,254.01 L573.92,254.00 L574.42,253.99 L574.92,253.98 L575.42,253.97 L575.92,253.96 L576.42,253.95 L576.93,253.94 L577.43,253.93 L577.93,253.92 L578.43,253.90 L578.93,253.89 L579.43,253.88 L579.93,253.87 L580.43,253.85 L580.93,253.84 L581.43,253.82 L581.93,253.81 L582.43,253.80 L582.94,253.78 L583.44,253.77 L583.94,253.75 L584.44,253.74 L584.94,253.72 L585.44,253.71 L585.94,253.69 L586.44,253.68 L586.94,253.66 L587.44,253.65 L587.94,253.63 L588.44,253.62 L588.94,253.60 L589.45,253.59 L589.95,253.57 L590.45,253.55 L590.95,253.54 L591.45,253.52 L591.95,253.50 L592.45,253.49 L592.95,253.47 L593.45,253.46 L593.95,253.44 L594.45,253.42 L594.95,253.41 L595.46,253.39 L595.96,253.37 L596.46,253.35 L596.96,253.34 L597.46,253.32 L597.96,253.30 L598.46,253.28 L598.96,253.27 L599.46,253.25 L599.96,253.23 L600.46,253.21 L600.96,253.19 L601.47,253.17 L601.97,253.15 L602.47,253.13 L602.97,253.11 L603.47,253.09 L603.97,253.07 L604.47,253.05 L604.97,253.03 L605.47,253.01 L605.97,252.99 L606.47,252.97 L606.97,252.95 L607.48,252.92 L607.98,252.90 L608.48,252.88 L608.98,252.86 L609.48,252.83 L609.98,252.81 L610.48,252.79 L610.98,252.76 L611.48,252.74 L611.98,252.71 L612.48,252.69 L612.98,252.66 L613.48,252.64 L613.99,252.61 L614.49,252.59 L614.99,252.56 L615.49,252.53 L615.99,252.51 L616.49,252.48 L616.99,252.45 L617.49,252.42 L617.99,252.39 L618.49,252.37 L618.99,252.34 L619.49,252.31 L620.00,252.28 L620.50,252.24 L621.00,252.21 L621.50,252.18 L622.00,252.15 L622.50,252.12 L623.00,252.08 L623.50,252.05 L624.00,252.02 L624.50,251.98 L625.00,251.95 L625.50,251.91 L626.01,251.87 L626.51,251.84 L627.01,251.80 L627.51,251.76 L628.01,251.72 L628.51,251.68 L629.01,251.64 L629.51,251.60 L630.01,251.56 L630.51,251.52 L631.01,251.47 L631.51,251.43 L632.02,251.38 L632.52,251.33 L633.02,251.28 L633.52,251.23 L634.02,251.18 L634.52,251.13 L635.02,251.08 L635.52,251.03 L636.02,250.97 L636.52,250.92 L637.02,250.87 L637.52,250.81 L638.02,250.75 L638.53,250.69 L639.03,250.64 L639.53,250.58 L640.03,250.52 L640.53,250.46 L641.03,250.39 L641.53,250.33 L642.03,250.27 L642.53,250.21 L643.03,250.14 L643.53,250.08 L644.03,250.01 L644.54,249.95 L645.04,249.88 L645.54,249.82 L646.04,249.75 L646.54,249.68 L647.04,249.61 L647.54,249.54 L648.04,249.47 L648.54,249.40 L649.04,249.32 L649.54,249.25 L650.04,249.17 L650.55,249.09 L651.05,249.01 L651.55,248.93 L652.05,248.85 L652.55,248.77 L653.05,248.68 L653.55,248.59 L654.05,248.50 L654.55,248.41 L655.05,248.32 L655.55,248.22 L656.05,248.13 L656.56,248.03 L657.06,247.93 L657.56,247.83 L658.06,247.72 L658.56,247.62 L659.06,247.51 L659.56,247.40 L660.06,247.28 L660.56,247.17 L661.06,247.04 L661.56,246.92 L662.06,246.79 L662.56,246.65 L663.07,246.51 L663.57,246.36 L664.07,246.21 L664.57,246.04 L665.07,245.86 L665.57,245.67 L666.07,245.45 L666.57,245.23 L667.07,245.00 L667.57,244.77 L668.07,244.54 L668.57,244.31 L669.08,244.08 L669.58,243.82 L670.08,243.54 L670.58,243.27 L671.08,242.99 L671.58,242.74 L672.08,242.51 L672.58,242.32 L673.08,242.18 L673.58,242.09 L674.08,242.03 L674.58,241.97 L675.09,241.92 L675.59,241.87 L676.09,241.82 L676.59,241.78 L677.09,241.74 L677.59,241.70 L678.09,241.67 L678.59,241.65 L679.09,241.63 L679.59,241.61 L680.09,241.60 L680.59,241.60 L681.10,241.61 L681.60,241.65 L682.10,241.72 L682.60,241.81 L683.10,241.92 L683.60,242.06 L684.10,242.21 L684.60,242.37 L685.10,242.55 L685.60,242.73 L686.10,242.92 L686.60,243.12 L687.10,243.31 L687.61,243.50 L688.11,243.69 L688.61,243.87 L689.11,244.04 L689.61,244.21 L690.11,244.38 L690.61,244.57 L691.11,244.76 L691.61,244.95 L692.11,245.15 L692.61,245.35 L693.11,245.56 L693.62,245.76 L694.12,245.97 L694.62,246.17 L695.12,246.37 L695.62,246.57 L696.12,246.77 L696.62,246.96 L697.12,247.15 L697.62,247.33 L698.12,247.51 L698.62,247.68 L699.12,247.85 L699.63,248.01 L700.13,248.18 L700.63,248.34 L701.13,248.50 L701.63,248.65 L702.13,248.81 L702.63,248.96 L703.13,249.12 L703.63,249.27 L704.13,249.42 L704.63,249.57 L705.13,249.72 L705.64,249.87 L706.14,250.01 L706.64,250.16 L707.14,250.31 L707.64,250.45 L708.14,250.60 L708.64,250.74 L709.14,250.89 L709.64,251.04 L710.14,251.18 L710.64,251.32 L711.14,251.47 L711.64,251.61 L712.15,251.76 L712.65,251.90 L713.15,252.04 L713.65,252.18 L714.15,252.32 L714.65,252.46 L715.15,252.60 L715.65,252.74 L716.15,252.88 L716.65,253.02 L717.15,253.15 L717.65,253.29 L718.16,253.42 L718.66,253.56 L719.16,253.69 L719.66,253.82 L720.16,253.95 L720.66,254.08 L721.16,254.21 L721.66,254.34 L722.16,254.47 L722.66,254.59 L723.16,254.72 L723.66,254.84 L724.17,254.96 L724.67,255.08 L725.17,255.20 L725.67,255.32 L726.17,255.44 L726.67,255.56 L727.17,255.68 L727.67,255.79 L728.17,255.91 L728.67,256.03 L729.17,256.14 L729.67,256.25 L730.18,256.37 L730.68,256.48 L731.18,256.59 L731.68,256.70 L732.18,256.81 L732.68,256.92 L733.18,257.03 L733.68,257.14 L734.18,257.24 L734.68,257.35 L735.18,257.46 L735.68,257.57 L736.18,257.67 L736.69,257.78 L737.19,257.88 L737.69,257.99 L738.19,258.09 L738.69,258.19 L739.19,258.30 L739.69,258.40 L740.19,258.50 L740.69,258.61 L741.19,258.71 L741.69,258.81 L742.19,258.91 L742.70,259.01 L743.20,259.11 L743.70,259.20 L744.20,259.30 L744.70,259.40 L745.20,259.50 L745.70,259.59 L746.20,259.69 L746.70,259.78 L747.20,259.88 L747.70,259.98 L748.20,260.07 L748.71,260.16 L749.21,260.26 L749.71,260.35 L750.21,260.45 L750.71,260.54 L751.21,260.63 L751.71,260.73 L752.21,260.82 L752.71,260.91 L753.21,261.01 L753.71,261.10 L754.21,261.19 L754.72,261.28 L755.22,261.38 L755.72,261.47 L756.22,261.56 L756.72,261.66 L757.22,261.75 L757.72,261.84 L758.22,261.94 L758.72,262.03 L759.22,262.12 L759.72,262.22 L760.22,262.31 L760.72,262.40 L761.23,262.49 L761.73,262.59 L762.23,262.68 L762.73,262.77 L763.23,262.86 L763.73,262.95 L764.23,263.04 L764.73,263.13 L765.23,263.22 L765.73,263.30 L766.23,263.39 L766.73,263.48 L767.24,263.56 L767.74,263.65 L768.24,263.73 L768.74,263.82 L769.24,263.90 L769.74,263.98 L770.24,264.06 L770.74,264.14 L771.24,264.22 L771.74,264.30 L772.24,264.37 L772.74,264.45 L773.25,264.53 L773.75,264.61 L774.25,264.68 L774.75,264.76 L775.25,264.84 L775.75,264.91 L776.25,264.99 L776.75,265.06 L777.25,265.14 L777.75,265.21 L778.25,265.28 L778.75,265.35 L779.26,265.42 L779.76,265.49 L780.26,265.56 L780.76,265.63 L781.26,265.70 L781.76,265.77 L782.26,265.83 L782.76,265.90 L783.26,265.96 L783.76,266.02 L784.26,266.09 L784.76,266.15 L785.26,266.20 L785.77,266.26 L786.27,266.32 L786.77,266.37 L787.27,266.43 L787.77,266.49 L788.27,266.54 L788.77,266.60 L789.27,266.65 L789.77,266.70 L790.27,266.76 L790.77,266.81 L791.27,266.86 L791.78,266.91 L792.28,266.97 L792.78,267.02 L793.28,267.07 L793.78,267.12 L794.28,267.17 L794.78,267.22 L795.28,267.26 L795.78,267.31 L796.28,267.36 L796.78,267.41 L797.28,267.45 L797.79,267.50 L798.29,267.54 L798.79,267.59 L799.29,267.63 L799.79,267.67 L800.29,267.72 L800.79,267.76 L801.29,267.80 L801.79,267.84 L802.29,267.88 L802.79,267.92 L803.29,267.96 L803.80,267.99 L804.30,268.03 L804.80,268.07 L805.30,268.10 L805.80,268.13 L806.30,268.17 L806.80,268.20 L808.30,268.30" stroke="#000" stroke-width="1.9" stroke-dasharray="4.7 1.9"/>
<path d="M561.40,236.50 L561.90,236.49 L562.40,236.49 L562.90,236.48 L563.40,236.48 L563.90,236.47 L564.40,236.46 L564.91,236.46 L565.41,236.45 L565.91,236.44 L566.41,236.44 L566.91,236.43 L567.41,236.42 L567.91,236.41 L568.41,236.40 L568.91,236.40 L569.41,236.39 L569.91,236.38 L570.41,236.37 L570.92,236.36 L571.42,236.35 L571.92,236.34 L572.42,236.33 L572.92,236.32 L573.42,236.31 L573.92,236.30 L574.42,236.29 L574.92,236.28 L575.42,236.27 L575.92,236.26 L576.42,236.25 L576.93,236.24 L577.43,236.23 L577.93,236.22 L578.43,236.21 L578.93,236.20 L579.43,236.18 L579.93,236.17 L580.43,236.16 L580.93,236.15 L581.43,236.14 L581.93,236.12 L582.43,236.11 L582.94,236.10 L583.44,236.08 L583.94,236.07 L584.44,236.05 L584.94,236.04 L585.44,236.02 L585.94,236.01 L586.44,235.99 L586.94,235.98 L587.44,235.96 L587.94,235.95 L588.44,235.93 L588.94,235.91 L589.45,235.90 L589.95,235.88 L590.45,235.86 L590.95,235.84 L591.45,235.82 L591.95,235.81 L592.45,235.79 L592.95,235.77 L593.45,235.75 L593.95,235.72 L594.45,235.70 L594.95,235.68 L595.46,235.65 L595.96,235.63 L596.46,235.60 L596.96,235.57 L597.46,235.55 L597.96,235.52 L598.46,235.49 L598.96,235.46 L599.46,235.43 L599.96,235.40 L600.46,235.37 L600.96,235.34 L601.47,235.31 L601.97,235.27 L602.47,235.24 L602.97,235.21 L603.47,235.17 L603.97,235.14 L604.47,235.11 L604.97,235.07 L605.47,235.04 L605.97,235.00 L606.47,234.97 L606.97,234.93 L607.48,234.90 L607.98,234.86 L608.48,234.82 L608.98,234.79 L609.48,234.75 L609.98,234.72 L610.48,234.68 L610.98,234.64 L611.48,234.61 L611.98,234.57 L612.48,234.53 L612.98,234.49 L613.48,234.46 L613.99,234.42 L614.49,234.38 L614.99,234.34 L615.49,234.30 L615.99,234.26 L616.49,234.22 L616.99,234.18 L617.49,234.14 L617.99,234.10 L618.49,234.05 L618.99,234.01 L619.49,233.97 L620.00,233.92 L620.50,233.88 L621.00,233.83 L621.50,233.79 L622.00,233.74 L622.50,233.69 L623.00,233.65 L623.50,233.60 L624.00,233.55 L624.50,233.50 L625.00,233.45 L625.50,233.40 L626.01,233.35 L626.51,233.29 L627.01,233.24 L627.51,233.19 L628.01,233.13 L628.51,233.08 L629.01,233.02 L629.51,232.96 L630.01,232.91 L630.51,232.85 L631.01,232.79 L631.51,232.73 L632.02,232.66 L632.52,232.60 L633.02,232.54 L633.52,232.47 L634.02,232.41 L634.52,232.34 L635.02,232.27 L635.52,232.20 L636.02,232.13 L636.52,232.06 L637.02,231.99 L637.52,231.92 L638.02,231.84 L638.53,231.77 L639.03,231.69 L639.53,231.61 L640.03,231.53 L640.53,231.45 L641.03,231.37 L641.53,231.29 L642.03,231.20 L642.53,231.11 L643.03,231.03 L643.53,230.94 L644.03,230.85 L644.54,230.76 L645.04,230.66 L645.54,230.57 L646.04,230.47 L646.54,230.37 L647.04,230.27 L647.54,230.17 L648.04,230.06 L648.54,229.95 L649.04,229.84 L649.54,229.73 L650.04,229.61 L650.55,229.49 L651.05,229.36 L651.55,229.23 L652.05,229.10 L652.55,228.96 L653.05,228.82 L653.55,228.68 L654.05,228.53 L654.55,228.38 L655.05,228.22 L655.55,228.06 L656.05,227.90 L656.56,227.73 L657.06,227.55 L657.56,227.37 L658.06,227.18 L658.56,226.98 L659.06,226.77 L659.56,226.55 L660.06,226.32 L660.56,226.08 L661.06,225.84 L661.56,225.58 L662.06,225.31 L662.56,225.02 L663.07,224.73 L663.57,224.43 L664.07,224.11 L664.57,223.79 L665.07,223.42 L665.57,223.01 L666.07,222.57 L666.57,222.10 L667.07,221.63 L667.57,221.15 L668.07,220.68 L668.57,220.22 L669.08,219.77 L669.58,219.31 L670.08,218.84 L670.58,218.36 L671.08,217.89 L671.58,217.44 L672.08,217.00 L672.58,216.58 L673.08,216.19 L673.58,215.84 L674.08,215.51 L674.58,215.17 L675.09,214.84 L675.59,214.51 L676.09,214.21 L676.59,213.92 L677.09,213.66 L677.59,213.43 L678.09,213.23 L678.59,213.07 L679.09,212.96 L679.59,212.86 L680.09,212.76 L680.59,212.67 L681.10,212.59 L681.60,212.51 L682.10,212.44 L682.60,212.39 L683.10,212.35 L683.60,212.32 L684.10,212.30 L684.60,212.30 L685.10,212.33 L685.60,212.39 L686.10,212.46 L686.60,212.56 L687.10,212.67 L687.61,212.80 L688.11,212.95 L688.61,213.10 L689.11,213.26 L689.61,213.43 L690.11,213.61 L690.61,213.78 L691.11,213.96 L691.61,214.13 L692.11,214.30 L692.61,214.48 L693.11,214.66 L693.62,214.85 L694.12,215.05 L694.62,215.26 L695.12,215.48 L695.62,215.70 L696.12,215.94 L696.62,216.18 L697.12,216.43 L697.62,216.69 L698.12,216.95 L698.62,217.22 L699.12,217.50 L699.63,217.78 L700.13,218.06 L700.63,218.36 L701.13,218.65 L701.63,218.96 L702.13,219.27 L702.63,219.59 L703.13,219.93 L703.63,220.29 L704.13,220.66 L704.63,221.04 L705.13,221.43 L705.64,221.83 L706.14,222.23 L706.64,222.65 L707.14,223.07 L707.64,223.50 L708.14,223.94 L708.64,224.38 L709.14,224.82 L709.64,225.26 L710.14,225.71 L710.64,226.15 L711.14,226.60 L711.64,227.05 L712.15,227.51 L712.65,227.97 L713.15,228.44 L713.65,228.92 L714.15,229.40 L714.65,229.89 L715.15,230.39 L715.65,230.90 L716.15,231.42 L716.65,231.94 L717.15,232.48 L717.65,233.02 L718.16,233.57 L718.66,234.13 L719.16,234.71 L719.66,235.29 L720.16,235.87 L720.66,236.48 L721.16,237.09 L721.66,237.71 L722.16,238.35 L722.66,238.99 L723.16,239.66 L723.66,240.33 L724.17,241.02 L724.67,241.73 L725.17,242.45 L725.67,243.19 L726.17,243.93 L726.67,244.70 L727.17,245.48 L727.67,246.27 L728.17,247.09 L728.67,247.94 L729.17,248.81 L729.67,249.71 L730.18,250.65 L730.68,251.62 L731.18,252.63 L731.68,253.68 L732.18,254.87 L732.68,256.16 L733.18,257.52 L733.68,258.88 L734.18,260.20 L734.68,261.44 L735.18,262.64 L735.68,263.82 L736.18,264.98 L736.69,266.12 L737.19,267.25 L737.69,268.38 L738.19,269.50 L738.69,270.61 L739.19,271.72 L739.69,272.84 L740.19,273.96 L740.69,275.08 L741.19,276.20 L741.69,277.31 L742.19,278.41 L742.70,279.50 L743.20,280.59 L743.70,281.68 L744.20,282.77 L744.70,283.88 L745.20,285.00 L745.70,286.14 L746.20,287.30 L746.70,288.48 L747.20,289.70 L747.70,290.97 L748.20,292.28 L748.71,293.62 L749.21,294.99 L749.71,296.35 L750.21,297.71 L750.71,299.06 L751.21,300.36 L751.71,301.63 L752.21,302.85 L752.71,304.05 L753.21,305.24 L753.71,306.41 L754.21,307.56 L754.72,308.70 L755.22,309.84 L755.72,310.97 L756.22,312.09 L756.72,313.22 L757.22,314.35 L757.72,315.49 L758.22,316.63 L758.72,317.75 L759.22,318.85 L759.72,319.93 L760.22,320.98 L760.72,321.98 L761.23,322.94 L761.73,323.88 L762.23,324.81 L762.73,325.73 L763.23,326.63 L763.73,327.49 L764.23,328.31 L764.73,329.07 L765.23,329.78 L765.73,330.42 L766.23,331.01 L766.73,331.57 L767.24,332.11 L767.74,332.63 L768.24,333.11 L768.74,333.56 L769.24,333.97 L769.74,334.33 L770.24,334.65 L770.74,334.93 L771.24,335.20 L771.74,335.46 L772.24,335.72 L772.74,335.96 L773.25,336.20 L773.75,336.41 L774.25,336.60 L774.75,336.76 L775.25,336.90 L775.75,337.00 L776.25,337.07 L776.75,337.10 L777.25,337.11 L777.75,337.12 L778.25,337.14 L778.75,337.15 L779.26,337.15 L779.76,337.16 L780.26,337.17 L780.76,337.18 L781.26,337.18 L781.76,337.19 L782.26,337.19 L782.76,337.19 L783.26,337.20 L783.76,337.20 L784.26,337.20 L784.76,337.20 L785.26,337.20 L785.77,337.19 L786.27,337.19 L786.77,337.18 L787.27,337.17 L787.77,337.16 L788.27,337.15 L788.77,337.14 L789.27,337.14 L789.77,337.13 L790.27,337.12 L790.77,337.11 L791.27,337.11 L791.78,337.10 L792.28,337.10 L792.78,337.11 L793.28,337.14 L793.78,337.19 L794.28,337.26 L794.78,337.35 L795.28,337.46 L795.78,337.58 L796.28,337.71 L796.78,337.84 L797.28,337.99 L797.79,338.13 L798.29,338.28 L798.79,338.43 L799.29,338.58 L799.79,338.76 L800.29,338.95 L800.79,339.15 L801.29,339.37 L801.79,339.60 L802.29,339.85 L802.79,340.11 L803.29,340.39 L803.80,340.67 L804.30,340.97 L804.80,341.28 L805.30,341.59 L805.80,341.92 L806.30,342.26 L806.80,342.60 L808.30,343.62" stroke="#00a800" stroke-width="2.15" stroke-dasharray="8.6 3.7"/>
</g>
<rect x="561.4" y="203.5" width="245.20" height="150.90" fill="none" stroke="#8c8c8c" stroke-width="0.8"/>
<path d="M561.40,354.4v-3.4M569.57,354.4v-2.0M577.75,354.4v-2.0M585.92,354.4v-2.0M594.09,354.4v-2.0M602.27,354.4v-3.4M610.44,354.4v-2.0M618.61,354.4v-2.0M626.79,354.4v-2.0M634.96,354.4v-2.0M643.13,354.4v-3.4M651.31,354.4v-2.0M659.48,354.4v-2.0M667.65,354.4v-2.0M675.83,354.4v-2.0M684.00,354.4v-3.4M692.17,354.4v-2.0M700.35,354.4v-2.0M708.52,354.4v-2.0M716.69,354.4v-2.0M724.87,354.4v-3.4M733.04,354.4v-2.0M741.21,354.4v-2.0M749.39,354.4v-2.0M757.56,354.4v-2.0M765.73,354.4v-3.4M773.91,354.4v-2.0M782.08,354.4v-2.0M790.25,354.4v-2.0M798.43,354.4v-2.0M806.60,354.4v-3.4M561.4,348.56h2.0M561.4,342.21h3.4M561.4,335.86h2.0M561.4,329.50h2.0M561.4,323.15h2.0M561.4,316.80h3.4M561.4,310.45h2.0M561.4,304.10h2.0M561.4,297.75h2.0M561.4,291.40h3.4M561.4,285.05h2.0M561.4,278.70h2.0M561.4,272.34h2.0M561.4,265.99h3.4M561.4,259.64h2.0M561.4,253.29h2.0M561.4,246.94h2.0M561.4,240.59h3.4M561.4,234.24h2.0M561.4,227.89h2.0M561.4,221.54h2.0M561.4,215.19h3.4M561.4,208.83h2.0" stroke="#8c8c8c" stroke-width="0.8" fill="none"/>
<g font-family="'Liberation Serif', serif" font-size="12.4" fill="#000" text-rendering="geometricPrecision" letter-spacing="0.4">
<text x="561.60" y="367.70" text-anchor="middle">0</text>
<text x="602.47" y="367.70" text-anchor="middle">50</text>
<text x="643.33" y="367.70" text-anchor="middle">100</text>
<text x="684.20" y="367.70" text-anchor="middle">150</text>
<text x="725.07" y="367.70" text-anchor="middle">200</text>
<text x="765.93" y="367.70" text-anchor="middle">250</text>
<text x="806.80" y="367.70" text-anchor="middle">300</text>
<text x="558.80" y="346.41" text-anchor="end">6</text>
<text x="558.80" y="321.00" text-anchor="end">4</text>
<text x="558.80" y="295.60" text-anchor="end">2</text>
<text x="558.80" y="270.19" text-anchor="end">0</text>
<text x="558.80" y="244.79" text-anchor="end">2</text>
<text x="558.80" y="219.39" text-anchor="end">4</text>
<path d="M543.55,342.96h6.9M543.55,317.55h6.9M543.55,292.15h6.9" stroke="#111" stroke-width="0.8" fill="none"/>
</g>
<text x="661.90" y="197.90" font-family="'Liberation Serif', serif" font-style="italic" font-size="11.5" fill="#000">ω<tspan font-size="8" dy="2.4" font-style="italic">π</tspan></text>
<text x="765.90" y="199.00" font-family="'Liberation Serif', serif" font-style="italic" font-size="11.5" fill="#000">ω<tspan font-size="8" dy="2.4" font-style="normal">Δ</tspan></text>
<text x="578.2" y="320.4" textLength="56.1" lengthAdjust="spacingAndGlyphs" font-family="'Liberation Serif', serif" font-size="10.7" fill="#000"><tspan font-style="italic">γ</tspan>M1E2(<tspan font-style="italic">ω</tspan>)</text>
</svg>
</body></html>
